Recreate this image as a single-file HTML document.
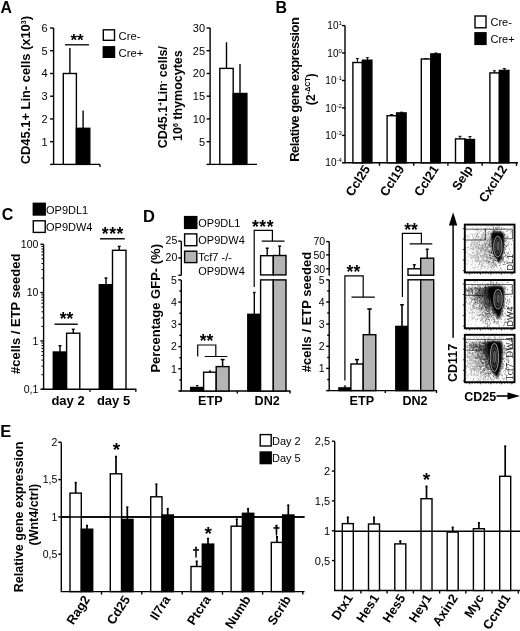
<!DOCTYPE html>
<html><head><meta charset="utf-8"><title>Figure</title>
<style>
html,body{margin:0;padding:0;background:#fff}
svg{display:block;font-family:"Liberation Sans",Arial,sans-serif;fill:#000}
</style></head><body>
<svg width="520" height="631" viewBox="0 0 520 631">
<rect width="520" height="631" fill="#fff" stroke="none"/>
<text x="0.4" y="12.9" font-size="15.8" font-weight="bold">A</text>
<line x1="53.6" y1="28.0" x2="53.6" y2="164.4" stroke="#000" stroke-width="1.4"/>
<line x1="53.0" y1="164.4" x2="100.0" y2="164.4" stroke="#000" stroke-width="1.4"/>
<line x1="100.0" y1="164.4" x2="100.0" y2="166.9" stroke="#000" stroke-width="1.4"/>
<line x1="50.1" y1="164.4" x2="53.6" y2="164.4" stroke="#000" stroke-width="1.4"/>
<line x1="50.1" y1="141.7" x2="53.6" y2="141.7" stroke="#000" stroke-width="1.4"/>
<text x="47.6" y="145.5" font-size="11" text-anchor="end">1</text>
<line x1="50.1" y1="118.9" x2="53.6" y2="118.9" stroke="#000" stroke-width="1.4"/>
<text x="47.6" y="122.7" font-size="11" text-anchor="end">2</text>
<line x1="50.1" y1="96.2" x2="53.6" y2="96.2" stroke="#000" stroke-width="1.4"/>
<text x="47.6" y="100.0" font-size="11" text-anchor="end">3</text>
<line x1="50.1" y1="73.5" x2="53.6" y2="73.5" stroke="#000" stroke-width="1.4"/>
<text x="47.6" y="77.3" font-size="11" text-anchor="end">4</text>
<line x1="50.1" y1="50.7" x2="53.6" y2="50.7" stroke="#000" stroke-width="1.4"/>
<text x="47.6" y="54.5" font-size="11" text-anchor="end">5</text>
<line x1="50.1" y1="28.0" x2="53.6" y2="28.0" stroke="#000" stroke-width="1.4"/>
<text x="47.6" y="31.8" font-size="11" text-anchor="end">6</text>
<rect x="63.3" y="73.5" width="13.1" height="90.9" fill="#fff" stroke="#000" stroke-width="1.4"/>
<rect x="76.4" y="128.3" width="13.4" height="36.1" fill="#000" stroke="#000" stroke-width="1.4"/>
<line x1="69.9" y1="73.5" x2="69.9" y2="47.9" stroke="#000" stroke-width="1.4"/>
<line x1="83.1" y1="128.3" x2="83.1" y2="110.6" stroke="#000" stroke-width="1.4"/>
<line x1="65.0" y1="44.8" x2="89.0" y2="44.8" stroke="#000" stroke-width="1.3"/>
<text x="77.0" y="45.5" font-size="17" font-weight="bold" text-anchor="middle">**</text>
<rect x="103.3" y="29.8" width="11.2" height="10.5" fill="#fff" stroke="#000" stroke-width="1.4"/>
<rect x="103.3" y="46.8" width="11.2" height="10.5" fill="#000" stroke="#000" stroke-width="1.4"/>
<text x="118.6" y="39.9" font-size="11.3">Cre-</text>
<text x="118.6" y="57.3" font-size="11.3">Cre+</text>
<text x="29.6" y="164.3" font-size="12.9" font-weight="bold" transform="rotate(-90 29.6 164.3)">CD45.1+ Lin- cells (x10<tspan font-size="7" dy="-4">3</tspan><tspan dy="4">)</tspan></text>
<line x1="210.1" y1="28.0" x2="210.1" y2="164.4" stroke="#000" stroke-width="1.4"/>
<line x1="209.5" y1="164.4" x2="257.0" y2="164.4" stroke="#000" stroke-width="1.4"/>
<line x1="206.6" y1="164.4" x2="210.1" y2="164.4" stroke="#000" stroke-width="1.4"/>
<line x1="206.6" y1="141.7" x2="210.1" y2="141.7" stroke="#000" stroke-width="1.4"/>
<text x="205.1" y="145.5" font-size="11" text-anchor="end">5</text>
<line x1="206.6" y1="118.9" x2="210.1" y2="118.9" stroke="#000" stroke-width="1.4"/>
<text x="205.1" y="122.7" font-size="11" text-anchor="end">10</text>
<line x1="206.6" y1="96.2" x2="210.1" y2="96.2" stroke="#000" stroke-width="1.4"/>
<text x="205.1" y="100.0" font-size="11" text-anchor="end">15</text>
<line x1="206.6" y1="73.5" x2="210.1" y2="73.5" stroke="#000" stroke-width="1.4"/>
<text x="205.1" y="77.3" font-size="11" text-anchor="end">20</text>
<line x1="206.6" y1="50.7" x2="210.1" y2="50.7" stroke="#000" stroke-width="1.4"/>
<text x="205.1" y="54.5" font-size="11" text-anchor="end">25</text>
<line x1="206.6" y1="28.0" x2="210.1" y2="28.0" stroke="#000" stroke-width="1.4"/>
<text x="205.1" y="31.8" font-size="11" text-anchor="end">30</text>
<rect x="219.8" y="68.4" width="13.4" height="96.0" fill="#fff" stroke="#000" stroke-width="1.4"/>
<rect x="233.2" y="93.5" width="13.7" height="70.9" fill="#000" stroke="#000" stroke-width="1.4"/>
<line x1="226.5" y1="68.4" x2="226.5" y2="42.2" stroke="#000" stroke-width="1.4"/>
<line x1="240.0" y1="93.5" x2="240.0" y2="64.1" stroke="#000" stroke-width="1.4"/>
<text x="167.5" y="148.3" font-size="12.5" font-weight="bold" transform="rotate(-90 167.5 148.3)">CD45.1<tspan font-size="7" dy="-4">+</tspan><tspan dy="4">Lin</tspan><tspan font-size="7" dy="-4">-</tspan><tspan dy="4"> cells/</tspan></text>
<text x="182.3" y="141.0" font-size="12.5" font-weight="bold" transform="rotate(-90 182.3 141.0)">10<tspan font-size="7" dy="-4">6</tspan><tspan dy="4"> thymocytes</tspan></text>
<text x="275.4" y="13.4" font-size="16" font-weight="bold">B</text>
<line x1="345.0" y1="25.6" x2="345.0" y2="162.8" stroke="#000" stroke-width="1.4"/>
<line x1="344.4" y1="162.8" x2="518.0" y2="162.8" stroke="#000" stroke-width="1.4"/>
<line x1="342.0" y1="25.6" x2="345.0" y2="25.6" stroke="#000" stroke-width="1.4"/>
<text x="341.8" y="29.2" font-size="10" text-anchor="end">10<tspan font-size="6" dy="-4">1</tspan></text>
<line x1="342.0" y1="53.0" x2="345.0" y2="53.0" stroke="#000" stroke-width="1.4"/>
<text x="341.8" y="56.6" font-size="10" text-anchor="end">10<tspan font-size="6" dy="-4">0</tspan></text>
<line x1="342.0" y1="80.5" x2="345.0" y2="80.5" stroke="#000" stroke-width="1.4"/>
<text x="341.8" y="84.1" font-size="10" text-anchor="end">10<tspan font-size="6" dy="-4">-1</tspan></text>
<line x1="342.0" y1="107.9" x2="345.0" y2="107.9" stroke="#000" stroke-width="1.4"/>
<text x="341.8" y="111.5" font-size="10" text-anchor="end">10<tspan font-size="6" dy="-4">-2</tspan></text>
<line x1="342.0" y1="135.4" x2="345.0" y2="135.4" stroke="#000" stroke-width="1.4"/>
<text x="341.8" y="139.0" font-size="10" text-anchor="end">10<tspan font-size="6" dy="-4">-3</tspan></text>
<line x1="342.0" y1="162.8" x2="345.0" y2="162.8" stroke="#000" stroke-width="1.4"/>
<text x="341.8" y="166.4" font-size="10" text-anchor="end">10<tspan font-size="6" dy="-4">-4</tspan></text>
<rect x="352.9" y="62.5" width="9.5" height="100.3" fill="#fff" stroke="#000" stroke-width="1.4"/>
<rect x="362.4" y="60.2" width="9.5" height="102.6" fill="#000" stroke="#000" stroke-width="1.4"/>
<line x1="357.4" y1="62.5" x2="357.4" y2="58.6" stroke="#000" stroke-width="1"/>
<line x1="355.9" y1="58.6" x2="358.9" y2="58.6" stroke="#000" stroke-width="1"/>
<line x1="367.4" y1="60.2" x2="367.4" y2="57.7" stroke="#000" stroke-width="1"/>
<line x1="365.9" y1="57.7" x2="368.9" y2="57.7" stroke="#000" stroke-width="1"/>
<line x1="379.5" y1="162.8" x2="379.5" y2="165.8" stroke="#000" stroke-width="1.4"/>
<text x="370.7" y="168.9" font-size="12.7" font-weight="bold" text-anchor="end" transform="rotate(-57 370.7 168.9)">Ccl25</text>
<rect x="387.1" y="115.7" width="9.5" height="47.1" fill="#fff" stroke="#000" stroke-width="1.4"/>
<rect x="396.6" y="112.9" width="9.5" height="49.9" fill="#000" stroke="#000" stroke-width="1.4"/>
<line x1="391.6" y1="115.7" x2="391.6" y2="114.6" stroke="#000" stroke-width="1"/>
<line x1="390.1" y1="114.6" x2="393.1" y2="114.6" stroke="#000" stroke-width="1"/>
<line x1="401.6" y1="112.9" x2="401.6" y2="112.2" stroke="#000" stroke-width="1"/>
<line x1="400.1" y1="112.2" x2="403.1" y2="112.2" stroke="#000" stroke-width="1"/>
<line x1="413.7" y1="162.8" x2="413.7" y2="165.8" stroke="#000" stroke-width="1.4"/>
<text x="404.9" y="168.9" font-size="12.7" font-weight="bold" text-anchor="end" transform="rotate(-57 404.9 168.9)">Ccl19</text>
<rect x="421.3" y="59.0" width="9.5" height="103.8" fill="#fff" stroke="#000" stroke-width="1.4"/>
<rect x="430.8" y="53.9" width="9.5" height="108.9" fill="#000" stroke="#000" stroke-width="1.4"/>
<line x1="425.8" y1="59.0" x2="425.8" y2="58.6" stroke="#000" stroke-width="1"/>
<line x1="424.3" y1="58.6" x2="427.3" y2="58.6" stroke="#000" stroke-width="1"/>
<line x1="435.8" y1="53.9" x2="435.8" y2="53.0" stroke="#000" stroke-width="1"/>
<line x1="434.3" y1="53.0" x2="437.3" y2="53.0" stroke="#000" stroke-width="1"/>
<line x1="447.9" y1="162.8" x2="447.9" y2="165.8" stroke="#000" stroke-width="1.4"/>
<text x="439.1" y="168.9" font-size="12.7" font-weight="bold" text-anchor="end" transform="rotate(-57 439.1 168.9)">Ccl21</text>
<rect x="455.5" y="138.9" width="9.5" height="23.9" fill="#fff" stroke="#000" stroke-width="1.4"/>
<rect x="465.0" y="139.5" width="9.5" height="23.3" fill="#000" stroke="#000" stroke-width="1.4"/>
<line x1="460.0" y1="138.9" x2="460.0" y2="136.3" stroke="#000" stroke-width="1"/>
<line x1="458.5" y1="136.3" x2="461.5" y2="136.3" stroke="#000" stroke-width="1"/>
<line x1="470.0" y1="139.5" x2="470.0" y2="136.6" stroke="#000" stroke-width="1"/>
<line x1="468.5" y1="136.6" x2="471.5" y2="136.6" stroke="#000" stroke-width="1"/>
<line x1="482.1" y1="162.8" x2="482.1" y2="165.8" stroke="#000" stroke-width="1.4"/>
<text x="473.3" y="168.9" font-size="12.7" font-weight="bold" text-anchor="end" transform="rotate(-57 473.3 168.9)">Selp</text>
<rect x="489.9" y="72.9" width="9.5" height="89.9" fill="#fff" stroke="#000" stroke-width="1.4"/>
<rect x="499.4" y="70.4" width="9.5" height="92.4" fill="#000" stroke="#000" stroke-width="1.4"/>
<line x1="494.4" y1="72.9" x2="494.4" y2="70.8" stroke="#000" stroke-width="1"/>
<line x1="492.9" y1="70.8" x2="495.9" y2="70.8" stroke="#000" stroke-width="1"/>
<line x1="504.4" y1="70.4" x2="504.4" y2="68.6" stroke="#000" stroke-width="1"/>
<line x1="502.9" y1="68.6" x2="505.9" y2="68.6" stroke="#000" stroke-width="1"/>
<line x1="516.5" y1="162.8" x2="516.5" y2="165.8" stroke="#000" stroke-width="1.4"/>
<text x="507.7" y="168.9" font-size="12.7" font-weight="bold" text-anchor="end" transform="rotate(-57 507.7 168.9)">Cxcl12</text>
<rect x="475.0" y="16.0" width="11.0" height="11.8" fill="#fff" stroke="#000" stroke-width="1.4"/>
<rect x="475.0" y="32.8" width="11.0" height="11.6" fill="#000" stroke="#000" stroke-width="1.4"/>
<text x="490.5" y="26.2" font-size="11">Cre-</text>
<text x="490.5" y="43.2" font-size="11">Cre+</text>
<text x="299.3" y="161.8" font-size="13" font-weight="bold" transform="rotate(-90 299.3 161.8)" textLength="144.7" lengthAdjust="spacing">Relative gene expression</text>
<text x="314.8" y="105.3" font-size="12.5" font-weight="bold" transform="rotate(-90 314.8 105.3)">(2<tspan font-size="7" dy="-4.5">-ΔCT</tspan><tspan dy="4.5">)</tspan></text>
<text x="1.8" y="220.3" font-size="16" font-weight="bold">C</text>
<rect x="33.3" y="203.3" width="11.9" height="11.7" fill="#000" stroke="#000" stroke-width="1.4"/>
<rect x="33.3" y="220.8" width="11.9" height="11.6" fill="#fff" stroke="#000" stroke-width="1.4"/>
<text x="46.0" y="213.6" font-size="11">OP9DL1</text>
<text x="46.0" y="231.1" font-size="11">OP9DW4</text>
<line x1="43.6" y1="244.3" x2="43.6" y2="389.2" stroke="#000" stroke-width="1.4"/>
<line x1="42.1" y1="389.2" x2="136.3" y2="389.2" stroke="#000" stroke-width="1.4"/>
<line x1="90.0" y1="389.2" x2="90.0" y2="391.7" stroke="#000" stroke-width="1.4"/>
<line x1="135.8" y1="389.2" x2="135.8" y2="391.7" stroke="#000" stroke-width="1.4"/>
<line x1="40.4" y1="244.3" x2="43.6" y2="244.3" stroke="#000" stroke-width="1.4"/>
<text x="38.4" y="248.1" font-size="10.5" text-anchor="end">100</text>
<line x1="40.4" y1="292.6" x2="43.6" y2="292.6" stroke="#000" stroke-width="1.4"/>
<text x="38.4" y="296.4" font-size="10.5" text-anchor="end">10</text>
<line x1="40.4" y1="340.9" x2="43.6" y2="340.9" stroke="#000" stroke-width="1.4"/>
<text x="38.4" y="344.7" font-size="10.5" text-anchor="end">1</text>
<line x1="40.4" y1="389.2" x2="43.6" y2="389.2" stroke="#000" stroke-width="1.4"/>
<text x="38.4" y="393.0" font-size="10.5" text-anchor="end">0,1</text>
<path d="M43.6 278.1h-2.2M43.6 269.6h-2.2M43.6 263.5h-2.2M43.6 258.8h-2.2M43.6 255.0h-2.2M43.6 251.8h-2.2M43.6 249.0h-2.2M43.6 246.5h-2.2M43.6 326.4h-2.2M43.6 317.9h-2.2M43.6 311.8h-2.2M43.6 307.1h-2.2M43.6 303.3h-2.2M43.6 300.1h-2.2M43.6 297.3h-2.2M43.6 294.8h-2.2M43.6 374.7h-2.2M43.6 366.2h-2.2M43.6 360.1h-2.2M43.6 355.4h-2.2M43.6 351.6h-2.2M43.6 348.4h-2.2M43.6 345.6h-2.2M43.6 343.1h-2.2" stroke="#000" stroke-width="1"/>
<rect x="53.3" y="352.0" width="13.3" height="37.2" fill="#000" stroke="#000" stroke-width="1.4"/>
<rect x="66.6" y="333.2" width="13.2" height="56.0" fill="#fff" stroke="#000" stroke-width="1.4"/>
<line x1="60.0" y1="352.0" x2="60.0" y2="345.7" stroke="#000" stroke-width="1.4"/>
<line x1="58.5" y1="345.7" x2="61.5" y2="345.7" stroke="#000" stroke-width="1.4"/>
<line x1="73.3" y1="333.2" x2="73.3" y2="329.3" stroke="#000" stroke-width="1.4"/>
<line x1="71.8" y1="329.3" x2="74.8" y2="329.3" stroke="#000" stroke-width="1.4"/>
<rect x="99.3" y="284.7" width="13.2" height="104.5" fill="#000" stroke="#000" stroke-width="1.4"/>
<rect x="112.5" y="250.3" width="13.5" height="138.9" fill="#fff" stroke="#000" stroke-width="1.4"/>
<line x1="106.0" y1="284.7" x2="106.0" y2="278.0" stroke="#000" stroke-width="1.4"/>
<line x1="104.5" y1="278.0" x2="107.5" y2="278.0" stroke="#000" stroke-width="1.4"/>
<line x1="119.2" y1="250.3" x2="119.2" y2="246.4" stroke="#000" stroke-width="1.4"/>
<line x1="117.7" y1="246.4" x2="120.7" y2="246.4" stroke="#000" stroke-width="1.4"/>
<line x1="54.5" y1="324.2" x2="77.8" y2="324.2" stroke="#000" stroke-width="1.4"/>
<text x="66.6" y="325.3" font-size="17.5" font-weight="bold" text-anchor="middle">**</text>
<line x1="100.0" y1="238.8" x2="124.7" y2="238.8" stroke="#000" stroke-width="1.4"/>
<text x="112.8" y="240.0" font-size="17.5" font-weight="bold" text-anchor="middle" letter-spacing=".5">***</text>
<text x="68.0" y="404.5" font-size="13" font-weight="bold" text-anchor="middle">day 2</text>
<text x="113.5" y="404.5" font-size="13" font-weight="bold" text-anchor="middle">day 5</text>
<text x="19.8" y="374.0" font-size="13" font-weight="bold" transform="rotate(-90 19.8 374.0)">#cells / ETP seeded</text>
<text x="143.0" y="222.0" font-size="16.5" font-weight="bold">D</text>
<line x1="181.3" y1="241.2" x2="181.3" y2="275.3" stroke="#000" stroke-width="1.4"/>
<line x1="181.3" y1="279.9" x2="181.3" y2="391.0" stroke="#000" stroke-width="1.4"/>
<line x1="179.8" y1="391.0" x2="290.5" y2="391.0" stroke="#000" stroke-width="1.4"/>
<line x1="237.3" y1="391.0" x2="237.3" y2="393.5" stroke="#000" stroke-width="1.4"/>
<line x1="290.0" y1="391.0" x2="290.0" y2="393.5" stroke="#000" stroke-width="1.4"/>
<line x1="178.3" y1="241.2" x2="181.3" y2="241.2" stroke="#000" stroke-width="1.4"/>
<text x="177.3" y="244.2" font-size="10.5" text-anchor="end">25</text>
<line x1="178.3" y1="257.9" x2="181.3" y2="257.9" stroke="#000" stroke-width="1.4"/>
<text x="177.3" y="260.9" font-size="10.5" text-anchor="end">20</text>
<line x1="178.3" y1="275.3" x2="181.3" y2="275.3" stroke="#000" stroke-width="1.4"/>
<line x1="178.3" y1="391.0" x2="181.3" y2="391.0" stroke="#000" stroke-width="1.4"/>
<line x1="179.3" y1="379.9" x2="181.3" y2="379.9" stroke="#000" stroke-width="1.4"/>
<line x1="178.3" y1="368.8" x2="181.3" y2="368.8" stroke="#000" stroke-width="1.4"/>
<text x="176.8" y="372.6" font-size="10.5" text-anchor="end">1</text>
<line x1="179.3" y1="357.7" x2="181.3" y2="357.7" stroke="#000" stroke-width="1.4"/>
<line x1="178.3" y1="346.6" x2="181.3" y2="346.6" stroke="#000" stroke-width="1.4"/>
<text x="176.8" y="350.4" font-size="10.5" text-anchor="end">2</text>
<line x1="179.3" y1="335.4" x2="181.3" y2="335.4" stroke="#000" stroke-width="1.4"/>
<line x1="178.3" y1="324.3" x2="181.3" y2="324.3" stroke="#000" stroke-width="1.4"/>
<text x="176.8" y="328.1" font-size="10.5" text-anchor="end">3</text>
<line x1="179.3" y1="313.2" x2="181.3" y2="313.2" stroke="#000" stroke-width="1.4"/>
<line x1="178.3" y1="302.1" x2="181.3" y2="302.1" stroke="#000" stroke-width="1.4"/>
<text x="176.8" y="305.9" font-size="10.5" text-anchor="end">4</text>
<line x1="179.3" y1="291.0" x2="181.3" y2="291.0" stroke="#000" stroke-width="1.4"/>
<line x1="178.3" y1="279.9" x2="181.3" y2="279.9" stroke="#000" stroke-width="1.4"/>
<text x="176.8" y="283.7" font-size="10.5" text-anchor="end">5</text>
<rect x="190.7" y="387.5" width="12.9" height="3.5" fill="#000" stroke="#000" stroke-width="1.4"/>
<rect x="203.6" y="372.2" width="12.6" height="18.8" fill="#fff" stroke="#000" stroke-width="1.4"/>
<rect x="216.2" y="366.6" width="12.8" height="24.4" fill="#b4b4b4" stroke="#000" stroke-width="1.4"/>
<line x1="197.2" y1="387.5" x2="197.2" y2="385.5" stroke="#000" stroke-width="1"/>
<line x1="196.0" y1="385.5" x2="198.4" y2="385.5" stroke="#000" stroke-width="1"/>
<line x1="210.0" y1="372.2" x2="210.0" y2="371.0" stroke="#000" stroke-width="1"/>
<line x1="208.8" y1="371.0" x2="211.2" y2="371.0" stroke="#000" stroke-width="1"/>
<line x1="222.6" y1="366.6" x2="222.6" y2="359.6" stroke="#000" stroke-width="1.5"/>
<line x1="220.6" y1="359.6" x2="224.6" y2="359.6" stroke="#000" stroke-width="1.5"/>
<rect x="247.8" y="314.3" width="13.0" height="76.7" fill="#000" stroke="#000" stroke-width="1.4"/>
<line x1="254.3" y1="314.3" x2="254.3" y2="292.5" stroke="#000" stroke-width="1.4"/>
<line x1="253.0" y1="292.5" x2="255.6" y2="292.5" stroke="#000" stroke-width="1.4"/>
<rect x="260.6" y="279.9" width="12.7" height="111.1" fill="#fff" stroke="#000" stroke-width="1.4"/>
<rect x="273.3" y="279.9" width="12.7" height="111.1" fill="#b4b4b4" stroke="#000" stroke-width="1.4"/>
<rect x="260.6" y="255.7" width="12.7" height="19.2" fill="#fff" stroke="#000" stroke-width="1.4"/>
<rect x="273.3" y="255.5" width="12.7" height="19.4" fill="#b4b4b4" stroke="#000" stroke-width="1.4"/>
<line x1="267.2" y1="255.7" x2="267.2" y2="248.2" stroke="#000" stroke-width="1.4"/>
<line x1="265.7" y1="248.2" x2="268.7" y2="248.2" stroke="#000" stroke-width="1.4"/>
<line x1="279.6" y1="255.5" x2="279.6" y2="246.1" stroke="#000" stroke-width="1.4"/>
<line x1="278.1" y1="246.1" x2="281.1" y2="246.1" stroke="#000" stroke-width="1.4"/>
<path d="M197.7 356.5V345H215.8V356.5M204.7 356.5H227.3" fill="none" stroke="#000" stroke-width="1.2"/>
<text x="206.5" y="347.3" font-size="17.5" font-weight="bold" text-anchor="middle">**</text>
<path d="M254.2 287V230.3H272.4V241.2M261.7 241.2H284.5" fill="none" stroke="#000" stroke-width="1.2"/>
<text x="263.0" y="232.5" font-size="17.5" font-weight="bold" text-anchor="middle" letter-spacing=".5">***</text>
<rect x="184.6" y="216.6" width="12.2" height="11.8" fill="#000" stroke="#000" stroke-width="1.4"/>
<rect x="184.6" y="233.9" width="12.2" height="11.8" fill="#fff" stroke="#000" stroke-width="1.4"/>
<rect x="184.6" y="251.2" width="12.2" height="11.4" fill="#b4b4b4" stroke="#000" stroke-width="1.4"/>
<text x="198.3" y="226.8" font-size="11">OP9DL1</text>
<text x="198.3" y="244.4" font-size="11">OP9DW4</text>
<text x="198.3" y="261.4" font-size="11">Tcf7 -/-</text>
<text x="198.3" y="275.2" font-size="11">OP9DW4</text>
<text x="210.3" y="404.5" font-size="12.6" font-weight="bold" text-anchor="middle">ETP</text>
<text x="267.2" y="404.5" font-size="12.6" font-weight="bold" text-anchor="middle">DN2</text>
<text x="160.5" y="372.6" font-size="13" font-weight="bold" transform="rotate(-90 160.5 372.6)">Percentage GFP- (%)</text>
<line x1="329.2" y1="241.6" x2="329.2" y2="275.8" stroke="#000" stroke-width="1.4"/>
<line x1="329.2" y1="279.8" x2="329.2" y2="390.6" stroke="#000" stroke-width="1.4"/>
<line x1="327.7" y1="390.6" x2="437.0" y2="390.6" stroke="#000" stroke-width="1.4"/>
<line x1="385.3" y1="390.6" x2="385.3" y2="393.1" stroke="#000" stroke-width="1.4"/>
<line x1="436.5" y1="390.6" x2="436.5" y2="393.1" stroke="#000" stroke-width="1.4"/>
<line x1="326.2" y1="241.6" x2="329.2" y2="241.6" stroke="#000" stroke-width="1.4"/>
<text x="325.2" y="245.4" font-size="10.5" text-anchor="end">70</text>
<line x1="326.2" y1="254.9" x2="329.2" y2="254.9" stroke="#000" stroke-width="1.4"/>
<text x="325.2" y="258.7" font-size="10.5" text-anchor="end">50</text>
<line x1="326.2" y1="268.8" x2="329.2" y2="268.8" stroke="#000" stroke-width="1.4"/>
<text x="325.2" y="272.6" font-size="10.5" text-anchor="end">30</text>
<line x1="326.2" y1="390.6" x2="329.2" y2="390.6" stroke="#000" stroke-width="1.4"/>
<line x1="327.2" y1="379.5" x2="329.2" y2="379.5" stroke="#000" stroke-width="1.4"/>
<line x1="326.2" y1="368.4" x2="329.2" y2="368.4" stroke="#000" stroke-width="1.4"/>
<text x="324.7" y="372.2" font-size="10.5" text-anchor="end">1</text>
<line x1="327.2" y1="357.4" x2="329.2" y2="357.4" stroke="#000" stroke-width="1.4"/>
<line x1="326.2" y1="346.3" x2="329.2" y2="346.3" stroke="#000" stroke-width="1.4"/>
<text x="324.7" y="350.1" font-size="10.5" text-anchor="end">2</text>
<line x1="327.2" y1="335.2" x2="329.2" y2="335.2" stroke="#000" stroke-width="1.4"/>
<line x1="326.2" y1="324.1" x2="329.2" y2="324.1" stroke="#000" stroke-width="1.4"/>
<text x="324.7" y="327.9" font-size="10.5" text-anchor="end">3</text>
<line x1="327.2" y1="313.0" x2="329.2" y2="313.0" stroke="#000" stroke-width="1.4"/>
<line x1="326.2" y1="302.0" x2="329.2" y2="302.0" stroke="#000" stroke-width="1.4"/>
<text x="324.7" y="305.8" font-size="10.5" text-anchor="end">4</text>
<line x1="327.2" y1="290.9" x2="329.2" y2="290.9" stroke="#000" stroke-width="1.4"/>
<line x1="326.2" y1="279.8" x2="329.2" y2="279.8" stroke="#000" stroke-width="1.4"/>
<text x="324.7" y="283.6" font-size="10.5" text-anchor="end">5</text>
<rect x="338.9" y="387.9" width="12.0" height="2.7" fill="#000" stroke="#000" stroke-width="1.4"/>
<rect x="350.9" y="364.0" width="12.3" height="26.6" fill="#fff" stroke="#000" stroke-width="1.4"/>
<rect x="363.2" y="334.7" width="12.6" height="55.9" fill="#b4b4b4" stroke="#000" stroke-width="1.4"/>
<line x1="345.0" y1="387.9" x2="345.0" y2="386.0" stroke="#000" stroke-width="1"/>
<line x1="343.8" y1="386.0" x2="346.2" y2="386.0" stroke="#000" stroke-width="1"/>
<line x1="357.0" y1="364.0" x2="357.0" y2="359.6" stroke="#000" stroke-width="1.5"/>
<line x1="355.0" y1="359.6" x2="359.0" y2="359.6" stroke="#000" stroke-width="1.5"/>
<line x1="369.5" y1="334.7" x2="369.5" y2="309.0" stroke="#000" stroke-width="1.6"/>
<line x1="367.3" y1="309.0" x2="371.7" y2="309.0" stroke="#000" stroke-width="1.6"/>
<rect x="395.8" y="326.4" width="12.2" height="64.2" fill="#000" stroke="#000" stroke-width="1.4"/>
<line x1="402.0" y1="326.4" x2="402.0" y2="304.8" stroke="#000" stroke-width="1.6"/>
<line x1="400.2" y1="304.8" x2="403.8" y2="304.8" stroke="#000" stroke-width="1.6"/>
<rect x="408.0" y="279.8" width="12.7" height="110.8" fill="#fff" stroke="#000" stroke-width="1.4"/>
<rect x="420.7" y="279.8" width="13.0" height="110.8" fill="#b4b4b4" stroke="#000" stroke-width="1.4"/>
<rect x="408.0" y="268.8" width="12.7" height="6.4" fill="#fff" stroke="#000" stroke-width="1.4"/>
<rect x="420.7" y="258.2" width="13.0" height="17.0" fill="#b4b4b4" stroke="#000" stroke-width="1.4"/>
<line x1="414.3" y1="268.8" x2="414.3" y2="264.8" stroke="#000" stroke-width="1.4"/>
<line x1="412.8" y1="264.8" x2="415.8" y2="264.8" stroke="#000" stroke-width="1.4"/>
<line x1="427.2" y1="258.2" x2="427.2" y2="249.2" stroke="#000" stroke-width="1.4"/>
<line x1="425.7" y1="249.2" x2="428.7" y2="249.2" stroke="#000" stroke-width="1.4"/>
<path d="M344.9 380.5V275.8H363.2V297.1M351.5 297.1H374.8" fill="none" stroke="#000" stroke-width="1.2"/>
<text x="353.4" y="278.3" font-size="17.5" font-weight="bold" text-anchor="middle">**</text>
<path d="M402.4 297V233.3H421.4V243.9M409.7 243.9H432.3" fill="none" stroke="#000" stroke-width="1.2"/>
<text x="411.0" y="236.3" font-size="17.5" font-weight="bold" text-anchor="middle">**</text>
<text x="361.8" y="404.5" font-size="12.6" font-weight="bold" text-anchor="middle">ETP</text>
<text x="415.0" y="404.5" font-size="12.6" font-weight="bold" text-anchor="middle">DN2</text>
<text x="311.3" y="372.3" font-size="13" font-weight="bold" transform="rotate(-90 311.3 372.3)">#cells / ETP seeded</text>
<line x1="453.1" y1="224.0" x2="453.1" y2="337.8" stroke="#000" stroke-width="1.5"/>
<path d="M453.1 212.3L448.9 225.6H457.3Z" fill="#000"/>
<text x="456.8" y="382.0" font-size="12.5" font-weight="bold" transform="rotate(-90 456.8 382.0)">CD117</text>
<text x="464.3" y="401.3" font-size="12.5" font-weight="bold">CD25</text>
<line x1="496.5" y1="396.0" x2="510.0" y2="396.0" stroke="#000" stroke-width="1.6"/>
<path d="M520 396L507.5 392.4V399.6Z" fill="#000"/>
<defs><filter id="b1" x="-20%" y="-20%" width="140%" height="140%"><feGaussianBlur stdDeviation=".35"/></filter><filter id="b2" x="-30%" y="-30%" width="160%" height="160%"><feGaussianBlur stdDeviation="1.1"/></filter></defs>
<g><clipPath id="c1"><rect x="464.8" y="224.6" width="49.7" height="47.8"/></clipPath>
<g clip-path="url(#c1)">
<path d="M491.1 263.8h.7M481.3 240.6h.7M472.1 248.9h.7M472.6 233.5h.7M482.4 250.0h.7M485.2 239.0h.7M480.8 247.9h.7M468.8 254.2h.7M483.4 273.7h.7M482.4 247.1h.7M490.7 250.7h.7M488.1 244.8h.7M482.5 259.4h.7M486.4 249.9h.7M472.1 253.3h.7M481.4 256.2h.7M482.5 260.0h.7M480.4 250.7h.7M486.1 237.2h.7M477.6 243.3h.7M496.6 247.6h.7M486.0 255.1h.7M478.6 232.3h.7M488.5 244.3h.7M486.5 234.9h.7M477.3 261.8h.7M492.2 234.9h.7M470.1 248.1h.7M486.6 250.3h.7M483.2 238.2h.7M485.5 260.3h.7M477.3 233.5h.7M474.7 256.6h.7M466.9 247.6h.7M472.9 247.2h.7M478.8 248.8h.7M492.8 253.0h.7M491.5 247.1h.7M477.0 252.6h.7M458.1 248.2h.7M482.1 235.6h.7M484.5 242.7h.7M461.1 246.4h.7M473.0 243.1h.7M479.6 261.7h.7M481.6 248.3h.7M483.9 229.6h.7M490.7 237.3h.7M484.3 236.8h.7M473.0 244.4h.7M496.0 255.9h.7M476.0 245.6h.7M471.6 248.2h.7M476.2 256.2h.7M469.9 245.1h.7M474.1 241.1h.7M486.5 249.9h.7M485.5 261.1h.7M490.0 234.2h.7M485.1 230.1h.7M480.3 268.8h.7M479.3 244.7h.7M482.2 248.8h.7M481.0 240.6h.7M489.5 257.9h.7M479.1 251.9h.7M486.1 259.4h.7M483.9 255.9h.7M478.7 237.4h.7M476.8 259.3h.7M488.6 250.1h.7M476.3 251.8h.7M494.1 262.8h.7M475.3 248.1h.7M469.2 236.7h.7M482.3 248.9h.7M488.5 261.9h.7M487.5 262.5h.7M476.4 236.7h.7M484.8 276.7h.7M483.7 236.5h.7M482.7 263.6h.7M472.5 257.0h.7M475.9 262.0h.7M487.1 251.8h.7M496.8 244.3h.7M475.3 268.1h.7M473.8 271.7h.7M480.5 237.7h.7M480.8 250.0h.7M482.4 246.6h.7M489.4 224.2h.7M476.4 245.8h.7M495.4 227.7h.7M478.1 236.6h.7M475.5 255.3h.7M484.1 263.7h.7M476.0 251.4h.7M490.2 258.1h.7M478.1 260.4h.7M473.4 267.5h.7M482.0 247.4h.7M483.0 257.5h.7M494.7 247.1h.7M477.9 254.8h.7M473.8 230.8h.7M487.5 244.6h.7M489.8 237.8h.7M457.6 251.6h.7M482.0 265.4h.7M485.0 251.8h.7M485.5 244.7h.7M481.4 234.4h.7M485.0 240.1h.7M477.2 255.9h.7M488.1 238.0h.7M496.8 242.4h.7M487.5 258.6h.7M482.6 250.4h.7M495.2 257.9h.7M484.4 229.4h.7M474.8 260.8h.7M482.4 238.6h.7M475.7 245.4h.7M486.3 252.7h.7M488.8 240.0h.7M488.7 243.3h.7M478.4 266.8h.7M481.4 247.1h.7M479.1 244.6h.7M493.3 263.1h.7M486.5 250.5h.7M489.1 247.8h.7M484.4 252.8h.7M481.5 265.9h.7M494.8 262.5h.7M465.5 267.9h.7M486.4 243.9h.7M480.6 260.6h.7M490.2 257.6h.7M481.9 249.0h.7M487.5 247.6h.7M473.6 242.1h.7M479.7 252.1h.7M498.9 234.2h.7M484.6 247.6h.7M483.2 262.8h.7M490.7 246.9h.7M476.3 234.3h.7M480.2 261.7h.7M478.7 256.0h.7M486.5 252.8h.7M489.5 247.4h.7M474.2 236.3h.7M488.2 244.8h.7M478.3 257.4h.7M474.5 267.2h.7M486.1 243.1h.7M475.7 260.0h.7M471.3 241.9h.7M480.8 250.7h.7M480.9 252.7h.7M477.9 247.3h.7M490.9 255.4h.7M477.2 266.6h.7M464.9 249.5h.7M486.1 258.8h.7M481.7 244.6h.7M485.5 246.6h.7M484.6 218.6h.7M483.9 240.3h.7M488.3 256.5h.7M486.6 244.4h.7M484.3 245.0h.7M482.5 247.2h.7M473.8 269.4h.7M486.6 227.0h.7M487.9 234.0h.7M478.9 242.5h.7M476.5 251.1h.7M478.2 233.4h.7M480.8 252.4h.7M495.0 244.2h.7M471.3 244.6h.7M486.0 239.3h.7M475.0 254.4h.7M480.7 250.9h.7M475.8 239.9h.7M478.2 247.0h.7M478.1 253.1h.7M485.2 254.4h.7M484.6 239.3h.7M471.8 257.0h.7M480.9 249.9h.7M471.5 246.4h.7M475.7 239.5h.7M475.8 232.9h.7M481.5 260.8h.7M475.1 249.6h.7M472.1 255.7h.7M495.7 235.6h.7M479.0 263.6h.7M483.7 249.8h.7M464.5 247.0h.7M488.1 263.7h.7M485.9 242.5h.7M475.3 229.5h.7M472.2 260.4h.7M479.9 234.5h.7M491.4 231.0h.7M490.9 245.2h.7M483.5 255.7h.7M482.9 262.0h.7M480.9 245.2h.7M475.5 233.4h.7M475.2 258.9h.7M487.4 263.2h.7M502.6 256.1h.7M484.8 234.8h.7M478.9 271.7h.7M485.0 247.2h.7M483.3 228.7h.7M474.1 234.9h.7M463.7 256.7h.7M488.5 246.7h.7M483.6 238.0h.7M484.4 256.6h.7M493.1 265.0h.7M484.7 247.3h.7M474.2 242.2h.7M485.7 254.5h.7M480.9 266.1h.7M486.0 248.8h.7M479.3 249.4h.7M473.2 238.3h.7M483.6 242.5h.7M478.6 261.4h.7M479.3 262.4h.7M480.7 264.5h.7M484.5 230.1h.7M490.7 246.4h.7M465.1 249.8h.7M482.0 235.0h.7M475.9 254.3h.7M492.1 260.6h.7M490.6 260.4h.7M460.9 241.0h.7M482.3 220.4h.7M487.0 258.0h.7M474.6 244.6h.7M473.3 248.4h.7M480.5 248.5h.7M472.6 252.7h.7M478.1 258.6h.7M483.3 233.0h.7M469.3 249.3h.7M476.9 253.5h.7M487.2 248.8h.7M467.3 236.1h.7M485.4 237.6h.7M489.7 247.6h.7M485.0 239.3h.7M480.0 217.5h.7M479.1 254.6h.7M473.6 239.8h.7M480.4 249.3h.7M474.3 255.7h.7M467.6 260.3h.7M469.6 240.0h.7M491.5 238.2h.7M467.6 249.4h.7M473.4 236.9h.7M475.2 240.8h.7M473.0 237.8h.7M493.7 241.5h.7M488.6 233.8h.7M485.2 235.5h.7M477.1 255.3h.7M476.6 228.0h.7M476.4 246.9h.7M485.4 238.1h.7M478.4 249.3h.7M467.6 247.5h.7M474.2 253.2h.7M479.9 246.9h.7M461.5 247.5h.7M477.8 238.7h.7M476.7 235.3h.7M482.2 255.5h.7M485.6 243.1h.7M494.2 257.6h.7M473.2 247.1h.7M467.8 247.4h.7M486.5 261.9h.7M477.5 229.8h.7M479.4 262.9h.7M482.0 262.0h.7M487.4 265.0h.7M485.6 241.6h.7M484.4 275.2h.7M476.7 229.1h.7M497.6 252.9h.7M475.8 242.2h.7M468.5 256.0h.7M481.9 242.0h.7M477.4 244.1h.7M489.3 246.7h.7M491.8 239.8h.7M475.9 243.5h.7M476.5 247.6h.7M489.0 261.3h.7M472.2 262.0h.7M481.6 265.3h.7M479.5 239.8h.7M487.1 255.1h.7M477.1 248.8h.7M481.8 251.9h.7M467.1 235.9h.7M481.2 251.3h.7M476.6 230.1h.7M491.5 245.4h.7M472.4 265.3h.7M489.9 259.5h.7M487.5 254.6h.7M473.0 248.9h.7M483.6 255.2h.7M484.6 238.0h.7M476.0 245.1h.7M479.2 239.4h.7M466.2 235.8h.7M483.3 248.5h.7M485.4 228.8h.7M477.5 258.0h.7M465.1 237.2h.7M467.5 261.3h.7M481.0 242.6h.7M482.0 247.7h.7M488.0 260.9h.7M488.1 252.2h.7M486.9 257.1h.7M490.1 229.3h.7M483.6 249.4h.7M482.1 246.0h.7M480.2 253.8h.7M482.4 249.9h.7M472.2 235.4h.7M474.8 229.9h.7M476.7 239.7h.7M466.4 228.2h.7M477.0 242.5h.7M498.2 257.7h.7M474.5 243.4h.7M472.7 240.3h.7M478.0 248.1h.7M475.8 257.2h.7M486.0 269.1h.7M470.3 255.7h.7M477.8 231.7h.7M478.4 231.3h.7M480.6 277.3h.7M491.2 267.7h.7M490.4 232.3h.7M484.1 250.1h.7M484.3 237.7h.7M464.9 270.7h.7M490.3 251.8h.7M476.9 250.5h.7M470.9 258.7h.7M482.1 247.0h.7M477.4 247.9h.7M481.9 244.4h.7M488.5 250.8h.7M480.0 239.6h.7M490.5 262.2h.7M486.3 229.2h.7M478.0 259.0h.7M481.1 262.0h.7M477.3 257.0h.7M485.0 222.9h.7M477.6 246.1h.7M475.8 239.2h.7M493.5 247.3h.7M487.1 234.5h.7M464.2 243.6h.7M484.1 241.0h.7M485.0 257.0h.7M477.2 248.0h.7M474.9 259.9h.7M494.9 253.8h.7M476.8 241.2h.7M478.6 257.9h.7M474.7 264.1h.7M471.0 248.5h.7M491.3 267.3h.7M477.5 256.9h.7M501.0 260.9h.7M463.3 251.6h.7M499.8 236.4h.7M488.1 226.7h.7M493.5 239.7h.7M487.3 258.2h.7M458.5 233.6h.7M483.4 232.6h.7M480.6 238.7h.7M491.5 243.3h.7M473.5 255.3h.7M490.6 247.0h.7M483.0 253.8h.7M476.8 236.1h.7M485.1 244.9h.7M469.9 257.6h.7M484.3 250.1h.7M474.8 246.3h.7M485.7 253.7h.7M474.2 239.1h.7M483.5 250.5h.7M487.6 236.4h.7M488.2 267.1h.7M488.4 250.0h.7M488.0 235.1h.7M477.3 270.2h.7M467.7 236.4h.7M487.4 241.7h.7M476.3 236.8h.7M494.3 242.2h.7M478.6 229.6h.7M487.0 248.5h.7M484.8 265.2h.7M482.0 236.1h.7M472.7 249.5h.7M491.4 236.0h.7M478.8 247.1h.7M486.1 239.2h.7M483.3 256.8h.7M480.5 247.6h.7M485.8 254.7h.7M490.9 237.3h.7M490.6 246.2h.7M471.7 242.8h.7M470.9 246.5h.7M489.1 225.0h.7M471.3 256.7h.7M478.4 256.9h.7M470.2 248.0h.7M460.0 239.7h.7M486.7 261.4h.7M493.9 248.0h.7M473.8 244.5h.7M465.5 262.8h.7M490.2 239.0h.7M495.5 234.4h.7M485.3 240.1h.7M466.9 252.8h.7M471.5 261.1h.7M473.6 249.7h.7M477.0 250.0h.7M475.7 257.2h.7M485.7 249.3h.7M479.8 269.3h.7M475.2 244.0h.7M487.0 248.5h.7M467.7 247.1h.7M477.7 238.2h.7M482.4 236.7h.7M478.8 236.7h.7M493.3 245.6h.7M484.3 251.6h.7M486.4 247.0h.7M486.8 249.9h.7M461.2 251.9h.7M470.5 258.6h.7M482.5 244.7h.7M460.6 226.1h.7M471.4 244.6h.7M469.8 269.4h.7M484.5 247.7h.7M472.9 245.0h.7M478.9 243.9h.7M480.2 257.0h.7M466.7 251.0h.7M489.6 234.2h.7M479.3 244.6h.7M471.7 258.6h.7M478.2 260.6h.7M484.1 245.7h.7M483.1 244.7h.7M467.7 263.5h.7M483.7 260.7h.7M466.3 259.6h.7M487.4 248.2h.7M463.8 249.7h.7M475.5 246.6h.7M481.2 239.1h.7M479.8 248.7h.7M492.5 247.5h.7M499.6 236.2h.7M479.7 261.6h.7M468.2 255.1h.7M484.0 242.3h.7M478.9 264.8h.7M477.2 251.5h.7M484.3 261.3h.7M464.3 233.1h.7M470.1 245.7h.7M485.7 257.3h.7M478.5 264.5h.7M480.2 255.9h.7M474.7 257.3h.7M475.0 260.8h.7M487.7 268.2h.7M477.4 236.4h.7M487.4 251.9h.7M476.6 234.5h.7M487.2 228.1h.7M477.1 259.8h.7M478.8 253.4h.7M484.7 254.8h.7M489.3 255.5h.7M477.8 235.7h.7M478.5 241.7h.7M484.0 261.5h.7M487.1 241.3h.7M482.4 248.7h.7M477.0 262.2h.7M485.7 252.4h.7M471.0 221.0h.7M474.9 260.6h.7M479.1 248.3h.7M478.7 253.6h.7M480.7 266.6h.7M479.8 245.8h.7M492.2 256.5h.7M486.4 254.1h.7M480.5 251.9h.7M485.1 249.7h.7M465.8 263.1h.7M477.0 242.6h.7M478.1 241.0h.7M473.8 247.7h.7M487.9 245.5h.7M484.6 234.4h.7M486.8 236.7h.7M486.4 240.8h.7M476.0 235.4h.7M470.6 246.3h.7M473.0 246.3h.7M489.9 239.7h.7M478.3 247.5h.7M475.8 248.3h.7M482.7 259.5h.7M475.0 246.3h.7M479.5 261.4h.7M472.8 250.4h.7M486.9 254.8h.7M475.1 237.7h.7M466.0 243.0h.7M478.8 232.9h.7M487.5 250.3h.7M478.9 243.0h.7M484.6 245.6h.7M484.9 243.6h.7M489.3 231.5h.7M472.2 267.5h.7M489.2 265.8h.7M474.5 256.2h.7M488.8 258.2h.7M479.3 264.0h.7M484.1 235.0h.7M500.5 249.9h.7M490.9 241.3h.7M473.3 257.9h.7M487.4 240.8h.7M482.8 234.7h.7M464.3 260.1h.7M471.6 256.4h.7M489.3 252.5h.7M492.9 252.4h.7M483.1 248.6h.7M484.2 252.3h.7M473.3 248.1h.7M477.8 278.5h.7M490.6 240.3h.7M485.6 230.2h.7M481.2 267.7h.7M481.5 262.1h.7M477.9 253.4h.7M483.8 225.5h.7M474.4 268.5h.7M474.1 261.2h.7M494.6 248.1h.7M488.8 252.4h.7M476.0 254.7h.7M484.3 238.2h.7M477.2 234.4h.7M478.1 248.2h.7M473.0 229.0h.7M486.2 261.9h.7M473.5 249.4h.7M475.4 220.9h.7M497.7 251.6h.7M469.5 261.9h.7M486.6 263.4h.7M486.7 254.2h.7M492.3 245.7h.7M482.7 237.2h.7M471.6 250.8h.7M482.7 231.9h.7M483.8 259.2h.7M470.7 245.0h.7M494.5 239.7h.7M485.4 256.8h.7M482.2 250.1h.7M485.3 251.6h.7M482.0 233.1h.7M482.8 240.3h.7M492.8 271.9h.7M489.7 226.0h.7M488.8 249.8h.7M472.1 235.8h.7M489.3 241.8h.7M480.2 249.3h.7M488.3 220.5h.7M490.6 240.1h.7M477.6 255.1h.7M483.7 224.3h.7M485.6 247.0h.7M472.5 242.2h.7M468.0 256.8h.7M492.6 242.0h.7M477.0 233.3h.7M475.1 237.9h.7M481.0 266.9h.7M489.2 258.9h.7M473.0 257.4h.7M475.0 239.3h.7M486.7 247.5h.7M500.7 250.6h.7M478.3 256.4h.7M471.5 255.7h.7M493.3 247.2h.7M476.7 260.4h.7M471.8 252.5h.7M476.6 251.7h.7M474.5 255.0h.7M485.3 267.0h.7M477.9 253.2h.7M466.7 240.3h.7M482.9 234.2h.7M479.9 239.2h.7M484.6 254.9h.7M477.0 255.5h.7M476.3 249.8h.7M485.0 254.5h.7M485.5 266.4h.7M475.6 247.0h.7M466.2 257.8h.7M471.8 242.3h.7M476.7 253.0h.7M478.5 245.6h.7M481.4 245.1h.7M480.6 238.3h.7M476.4 235.8h.7M487.6 258.1h.7M486.1 252.1h.7M476.0 254.4h.7M468.4 222.3h.7M471.3 264.3h.7M482.8 264.9h.7M475.1 259.2h.7M493.5 259.0h.7M483.1 259.9h.7M477.1 267.1h.7M471.6 240.6h.7M481.0 240.5h.7M494.8 255.7h.7M474.9 266.2h.7M491.7 244.6h.7M493.3 261.0h.7M476.8 242.7h.7M483.3 260.7h.7M493.4 264.4h.7M476.9 229.9h.7M467.3 264.5h.7M489.3 261.0h.7M480.8 249.5h.7M484.7 253.5h.7M481.5 238.4h.7M469.8 250.2h.7M479.5 263.5h.7M472.3 227.7h.7M465.1 248.2h.7M494.2 245.0h.7M475.2 252.6h.7M493.1 260.0h.7M487.8 258.4h.7M478.5 249.5h.7M484.1 267.6h.7M463.2 242.9h.7M483.8 246.0h.7M479.8 245.8h.7M473.2 253.9h.7M491.2 244.8h.7M484.3 260.3h.7M475.5 247.6h.7M470.4 265.2h.7M494.6 246.5h.7M496.8 257.6h.7M466.2 253.7h.7M482.8 253.9h.7M486.3 243.8h.7M489.9 251.9h.7M496.0 247.4h.7M460.7 268.7h.7M485.2 229.3h.7M475.9 240.2h.7M488.3 242.0h.7M490.1 243.3h.7M488.5 242.2h.7M471.2 254.8h.7M478.9 254.0h.7M467.6 237.7h.7M478.0 269.3h.7M484.0 230.9h.7M455.6 268.1h.7M483.5 235.3h.7M488.7 257.6h.7M498.0 250.6h.7M476.8 257.2h.7M470.0 243.9h.7M472.8 242.6h.7M470.5 233.4h.7M471.9 252.7h.7M481.0 247.8h.7M484.6 256.5h.7M484.6 270.4h.7M483.1 252.6h.7M476.9 260.0h.7M492.3 217.4h.7M487.3 237.1h.7M483.6 249.5h.7M470.7 234.4h.7M478.7 276.2h.7M470.9 244.3h.7M478.5 245.8h.7M489.8 270.2h.7M480.4 253.0h.7M478.2 265.1h.7M480.4 255.8h.7M479.2 260.4h.7M480.3 239.7h.7M496.1 228.1h.7M482.2 244.9h.7M473.5 270.6h.7M483.5 244.3h.7M473.7 252.1h.7M480.8 246.1h.7M475.5 264.6h.7M482.5 246.6h.7M470.8 240.4h.7M486.7 240.7h.7M486.0 247.4h.7M484.0 252.3h.7M477.3 245.8h.7M480.2 255.5h.7M500.1 257.8h.7M470.3 271.9h.7M479.9 241.3h.7M481.8 248.0h.7M482.8 248.3h.7M480.6 261.9h.7M494.4 249.6h.7M493.5 258.4h.7M490.4 251.4h.7M482.5 257.0h.7M473.1 249.2h.7M471.7 258.2h.7M482.5 254.9h.7M478.1 240.5h.7M488.5 244.1h.7M479.1 249.0h.7M484.5 249.2h.7M472.5 237.6h.7M488.9 245.3h.7M478.9 239.3h.7M488.3 253.5h.7M476.5 230.5h.7M495.2 242.7h.7M471.5 243.4h.7M471.7 248.5h.7M476.4 236.1h.7M486.3 239.6h.7M465.9 252.2h.7M476.4 237.2h.7M467.5 241.2h.7M476.0 243.5h.7M476.8 261.9h.7M489.3 251.9h.7M485.3 243.8h.7M469.2 254.2h.7M491.8 241.3h.7M475.3 241.3h.7M470.2 254.4h.7M472.1 263.0h.7M494.1 249.5h.7M480.5 239.6h.7M488.0 249.5h.7M468.9 238.8h.7M484.6 243.4h.7M484.3 251.2h.7M492.3 247.6h.7M489.3 260.2h.7M491.4 245.0h.7M483.0 275.3h.7M479.2 242.2h.7M481.8 236.2h.7M474.0 244.1h.7M478.5 259.2h.7M472.0 246.7h.7M482.9 245.5h.7M486.7 272.1h.7M472.2 239.5h.7M476.7 242.9h.7M476.5 253.0h.7M494.8 274.5h.7M480.2 227.0h.7M493.3 248.8h.7M477.5 260.1h.7M479.9 246.2h.7M473.8 258.3h.7M487.6 239.7h.7M476.3 261.6h.7M475.0 244.2h.7M474.7 246.1h.7M487.7 249.2h.7M488.8 254.9h.7M464.6 248.4h.7M480.6 231.1h.7M487.1 248.1h.7M476.8 254.1h.7M488.5 256.2h.7M476.6 248.2h.7M500.4 235.0h.7M481.4 248.9h.7M492.8 255.0h.7M482.6 245.5h.7M490.7 249.3h.7M480.0 250.4h.7M486.3 249.0h.7M482.9 257.0h.7M475.0 246.1h.7M481.4 255.8h.7M485.3 243.5h.7M472.5 244.7h.7M476.8 258.0h.7M485.9 249.3h.7M472.2 234.9h.7M481.8 255.0h.7M483.8 245.9h.7M485.4 227.9h.7M490.0 264.4h.7M482.2 251.1h.7M479.1 258.0h.7M473.5 242.5h.7M484.0 233.7h.7M484.7 253.4h.7M480.7 243.4h.7M494.8 243.0h.7M482.0 257.1h.7M480.7 259.6h.7M480.8 251.3h.7M480.7 255.5h.7M475.6 258.0h.7M489.1 237.7h.7M468.8 234.7h.7M474.4 255.8h.7M481.3 268.4h.7M493.4 232.5h.7M477.7 245.4h.7M493.6 256.8h.7M488.2 240.1h.7M497.0 237.0h.7M481.0 238.5h.7M473.6 251.2h.7M473.6 255.8h.7M485.0 249.2h.7M485.9 260.4h.7M489.5 236.6h.7M486.0 258.0h.7M477.8 244.5h.7M490.5 255.5h.7M481.9 263.6h.7M488.3 266.8h.7M477.7 258.9h.7M464.9 241.8h.7M494.2 238.4h.7M479.6 245.0h.7M484.6 260.6h.7M493.6 247.0h.7M483.5 257.8h.7M490.1 245.7h.7M498.3 233.8h.7M492.3 234.5h.7M488.3 240.9h.7M500.5 268.0h.7M495.1 251.4h.7M480.1 230.9h.7M491.8 257.6h.7M493.6 241.6h.7M486.5 255.5h.7M503.3 257.6h.7M490.6 248.4h.7M493.2 253.0h.7M482.9 266.6h.7M493.3 255.7h.7M488.3 261.8h.7M496.4 241.6h.7M496.4 241.8h.7M480.7 258.8h.7M485.3 243.5h.7M485.7 248.8h.7M488.8 251.4h.7M493.4 267.5h.7M493.3 255.2h.7M493.5 258.5h.7M495.8 252.8h.7M484.4 239.1h.7M492.4 246.1h.7M488.6 243.9h.7M486.9 261.6h.7M495.1 235.6h.7M491.8 249.4h.7M488.3 261.1h.7M492.6 250.4h.7M486.1 260.1h.7M492.2 252.7h.7M487.0 266.0h.7M473.8 234.3h.7M481.7 235.4h.7M485.2 244.0h.7M489.0 251.7h.7M498.2 255.8h.7M491.5 247.9h.7M492.9 258.5h.7M486.8 268.8h.7M490.7 259.0h.7M477.3 251.7h.7M488.6 264.6h.7M496.4 253.1h.7M494.3 246.2h.7M485.8 262.2h.7M484.2 243.8h.7M484.4 239.2h.7M488.5 258.8h.7M485.5 257.7h.7M480.6 240.5h.7M486.0 256.9h.7M498.1 224.2h.7M491.2 267.4h.7M490.9 267.7h.7M497.2 252.7h.7M483.1 242.3h.7M499.3 239.8h.7M484.9 244.6h.7M497.8 250.8h.7M482.4 242.7h.7M494.5 262.2h.7M499.2 255.2h.7M493.4 239.0h.7M487.7 234.6h.7M490.0 254.1h.7M491.1 239.3h.7M493.9 259.7h.7M497.6 225.9h.7M477.5 237.6h.7M493.8 260.9h.7M494.8 250.0h.7M492.2 246.9h.7M487.1 238.8h.7M508.2 246.9h.7M493.9 255.6h.7M495.7 249.1h.7M495.9 271.6h.7M487.3 243.3h.7M485.3 245.7h.7M484.1 253.2h.7M494.5 262.9h.7M497.9 245.5h.7M491.8 240.9h.7M491.2 250.6h.7M493.6 249.0h.7M485.0 260.6h.7M490.1 234.4h.7M481.4 257.1h.7M481.0 257.0h.7M499.1 255.5h.7M495.3 255.9h.7M487.5 252.0h.7M480.6 256.4h.7M494.3 251.2h.7M496.7 247.8h.7M481.5 265.1h.7M491.3 242.9h.7M488.0 245.6h.7M491.9 235.8h.7M491.4 245.8h.7M494.4 246.1h.7M494.3 240.0h.7M492.8 246.3h.7M496.6 253.7h.7M496.4 244.4h.7M487.5 249.3h.7M485.2 246.6h.7M497.7 237.9h.7M487.7 250.5h.7M499.7 272.9h.7M487.8 244.6h.7M492.2 242.5h.7M480.0 256.0h.7M492.8 252.7h.7M493.8 251.6h.7M487.4 256.5h.7M490.6 251.4h.7M484.8 250.6h.7M490.5 240.3h.7M486.6 244.9h.7M490.9 242.8h.7M484.8 250.4h.7M484.2 253.1h.7M486.1 247.4h.7M496.9 225.4h.7M483.5 243.9h.7M490.0 240.1h.7M485.7 242.9h.7M485.3 250.7h.7M487.0 247.9h.7M491.0 256.9h.7M487.4 245.0h.7M493.1 226.2h.7M491.1 239.8h.7M495.5 246.0h.7M486.0 260.9h.7M487.8 240.1h.7M493.3 228.6h.7M489.9 257.2h.7M484.0 259.8h.7M489.1 243.6h.7M481.7 264.9h.7M498.1 245.9h.7M492.8 228.9h.7M491.2 253.6h.7M486.7 242.6h.7M489.7 240.7h.7M481.7 257.7h.7M495.5 255.8h.7M494.7 260.8h.7M489.0 217.3h.7M490.9 243.5h.7M484.5 254.9h.7M485.3 236.6h.7M503.7 245.2h.7M491.6 255.8h.7M494.0 248.4h.7M493.5 248.5h.7M488.3 246.6h.7M494.1 257.0h.7M493.1 233.1h.7M489.6 255.0h.7M488.7 254.9h.7M491.4 262.4h.7M478.4 251.4h.7M496.5 256.9h.7M488.0 247.2h.7M488.9 254.2h.7M494.8 243.3h.7M496.5 254.5h.7M479.5 245.4h.7M490.1 242.3h.7M491.3 249.0h.7M490.3 246.5h.7M492.3 243.1h.7M493.8 230.3h.7M491.2 244.3h.7M488.7 252.6h.7M487.4 215.1h.7M482.9 247.3h.7M489.3 244.3h.7M487.3 257.0h.7M490.8 238.3h.7M486.1 259.8h.7M491.4 253.5h.7M490.9 251.9h.7M487.9 239.0h.7M485.5 240.1h.7M500.3 256.3h.7M491.1 248.4h.7M482.1 257.8h.7M481.4 260.6h.7M488.1 234.4h.7M498.7 238.9h.7M489.3 247.9h.7M482.7 254.3h.7M483.6 247.5h.7M484.6 266.7h.7M491.0 265.3h.7M487.9 252.0h.7M493.7 250.3h.7M489.3 261.7h.7M492.8 250.3h.7M495.2 220.1h.7M485.2 254.8h.7M488.8 246.6h.7M482.8 245.6h.7M498.2 244.2h.7M485.4 246.5h.7M496.5 242.6h.7M481.9 252.1h.7M488.9 251.2h.7M481.6 237.6h.7M489.1 253.2h.7M500.2 264.4h.7M496.9 259.9h.7M496.4 256.5h.7M494.2 245.3h.7M488.1 263.8h.7M484.5 243.3h.7M489.6 251.6h.7M487.1 244.6h.7M486.5 241.5h.7M488.7 285.7h.7M484.4 276.0h.7M484.1 251.5h.7M490.4 256.3h.7M489.1 237.9h.7M487.8 246.0h.7M482.8 248.6h.7M491.3 233.3h.7M483.6 258.2h.7M485.7 242.4h.7M487.6 242.7h.7M493.7 252.0h.7M502.3 245.6h.7M492.8 242.1h.7M495.9 233.1h.7M486.3 247.2h.7M505.9 273.5h.7M501.5 249.4h.7M482.4 255.5h.7M496.6 242.3h.7M501.4 270.9h.7M481.6 245.2h.7M489.4 246.8h.7M490.0 250.0h.7M489.4 277.5h.7M488.2 236.3h.7M497.2 260.4h.7M484.6 240.0h.7M486.0 226.2h.7M483.7 254.5h.7M483.6 246.9h.7M489.3 243.2h.7M493.4 251.5h.7M497.5 253.3h.7M487.5 267.7h.7M492.4 254.9h.7M492.4 246.0h.7M485.7 263.0h.7M486.8 246.3h.7M495.6 260.4h.7M490.9 271.3h.7M489.6 275.1h.7M498.3 251.7h.7M489.5 261.8h.7M481.6 257.4h.7M494.5 266.9h.7M498.4 252.9h.7M493.4 239.2h.7M493.8 241.2h.7M483.4 268.7h.7M500.5 248.4h.7M492.5 275.7h.7M483.5 266.1h.7M489.1 256.5h.7M490.4 266.4h.7M497.4 247.9h.7M497.3 260.0h.7M498.5 238.2h.7M495.6 249.7h.7M492.2 232.7h.7M502.6 249.0h.7M493.3 233.5h.7M489.7 251.6h.7M491.5 237.5h.7M492.7 245.2h.7M495.7 237.2h.7M497.3 238.4h.7M484.7 254.8h.7M494.1 254.3h.7M487.7 246.5h.7M485.8 261.9h.7M481.2 236.5h.7M484.4 255.3h.7M482.7 258.3h.7M481.5 230.8h.7M492.6 254.1h.7M488.8 264.3h.7M488.4 244.0h.7M489.8 264.3h.7M489.9 270.2h.7M498.3 261.5h.7M495.8 263.9h.7M493.4 223.8h.7M491.8 248.2h.7M484.4 229.1h.7M491.6 237.6h.7M490.8 240.6h.7M492.6 239.0h.7M492.1 249.1h.7M488.3 246.7h.7M492.3 220.5h.7M480.3 250.7h.7M490.9 252.2h.7M492.7 238.9h.7M497.9 257.9h.7M492.7 246.9h.7M486.9 243.1h.7M492.9 250.7h.7M495.3 252.2h.7M488.4 262.4h.7M483.0 234.8h.7M492.9 244.3h.7M483.0 233.4h.7M490.8 264.6h.7M498.6 248.5h.7M489.4 240.5h.7M501.2 248.6h.7M488.7 258.0h.7M497.1 250.0h.7M497.5 235.8h.7M493.3 256.1h.7M493.1 256.8h.7M491.8 255.9h.7M479.3 241.6h.7M495.5 237.5h.7M485.9 271.6h.7M491.2 252.6h.7M492.9 268.6h.7M489.4 240.6h.7M492.3 265.0h.7M481.0 248.2h.7M488.6 251.1h.7M494.4 253.0h.7M482.2 247.0h.7M490.1 249.1h.7M496.6 246.1h.7M487.3 247.8h.7M491.0 257.2h.7M481.4 234.7h.7M490.3 259.8h.7M490.5 252.2h.7M500.4 250.9h.7M492.4 249.1h.7M496.1 255.2h.7M489.4 257.4h.7M493.3 244.3h.7M494.9 272.1h.7M484.8 237.9h.7M490.2 247.4h.7M492.1 249.2h.7M491.7 262.0h.7M497.8 226.7h.7M493.8 249.9h.7M493.8 250.2h.7M492.8 247.2h.7M487.3 247.8h.7M495.2 250.0h.7M490.4 263.3h.7M495.5 240.0h.7M486.4 247.8h.7M493.5 261.0h.7M481.5 264.2h.7M491.1 252.0h.7M495.4 252.7h.7M491.9 260.5h.7M497.3 237.5h.7M482.2 238.1h.7M492.3 246.8h.7M489.7 244.2h.7M486.2 255.4h.7M490.6 252.9h.7M493.8 265.8h.7M502.4 243.2h.7M497.9 251.6h.7M493.2 262.0h.7M487.6 248.2h.7M496.2 256.2h.7M500.8 256.4h.7M491.5 248.4h.7M494.1 229.7h.7M497.9 253.2h.7M487.4 250.7h.7M493.8 236.7h.7M495.7 225.8h.7M498.8 246.5h.7M492.2 246.7h.7M487.5 260.2h.7M485.6 248.8h.7M493.8 236.3h.7M494.2 239.8h.7M495.6 245.9h.7M497.9 249.0h.7M485.3 260.3h.7M497.4 260.0h.7M482.7 237.9h.7M495.9 254.9h.7M489.1 247.6h.7M491.7 226.0h.7M484.2 236.3h.7M496.5 245.5h.7M479.3 247.9h.7M488.8 241.7h.7M482.9 239.6h.7M492.4 244.8h.7M495.0 264.2h.7M488.9 232.2h.7M485.4 250.3h.7M494.9 247.5h.7M490.5 252.0h.7M497.4 257.4h.7M488.8 243.0h.7M490.6 242.9h.7M485.4 260.9h.7M491.8 237.7h.7M493.0 238.0h.7M485.4 231.7h.7M484.3 244.2h.7M492.1 248.4h.7M492.3 250.0h.7M488.2 262.3h.7M484.7 238.4h.7M501.9 252.0h.7M491.9 278.3h.7M484.8 267.1h.7M490.5 247.3h.7M485.3 248.8h.7M494.8 249.3h.7M488.1 253.8h.7M497.6 250.0h.7M488.4 245.1h.7M492.8 243.0h.7M498.4 243.3h.7" stroke="#555" stroke-width=".6" fill="none" opacity=".7" filter="url(#b1)"/>
<path d="M502.7 244.9h.7M501.1 235.5h.7M496.6 237.0h.7M493.8 246.2h.7M492.0 265.7h.7M505.6 255.5h.7M497.6 241.0h.7M489.4 254.6h.7M492.0 246.1h.7M494.7 246.6h.7M505.6 245.8h.7M496.7 255.5h.7M495.1 227.7h.7M493.9 244.2h.7M493.9 256.2h.7M503.3 236.8h.7M497.8 248.7h.7M495.6 240.4h.7M499.7 242.7h.7M506.2 246.3h.7M497.6 248.5h.7M498.6 242.5h.7M500.4 254.6h.7M498.6 250.6h.7M491.0 242.4h.7M498.0 243.5h.7M502.8 250.2h.7M497.5 240.1h.7M495.7 244.1h.7M505.5 235.0h.7M502.0 243.0h.7M505.3 255.7h.7M493.5 250.0h.7M490.9 253.5h.7M496.9 236.4h.7M497.4 252.3h.7M509.2 254.9h.7M499.4 246.0h.7M486.9 232.3h.7M486.3 234.9h.7M502.3 259.0h.7M498.9 242.7h.7M500.9 269.4h.7M498.4 260.2h.7M504.1 238.7h.7M498.2 238.6h.7M499.2 242.4h.7M493.2 253.4h.7M497.3 244.3h.7M501.7 251.0h.7M503.5 264.5h.7M491.7 251.3h.7M489.2 255.4h.7M506.8 237.3h.7M503.4 253.3h.7M499.5 225.3h.7M492.6 243.0h.7M497.9 247.9h.7M501.5 247.9h.7M496.7 237.0h.7M494.0 244.7h.7M508.3 243.1h.7M497.2 256.3h.7M501.4 252.8h.7M498.1 262.4h.7M494.9 260.5h.7M505.0 249.3h.7M495.1 240.6h.7M498.9 227.4h.7M503.8 238.4h.7M491.8 251.6h.7M498.0 238.3h.7M503.9 235.3h.7M494.9 231.3h.7M506.0 252.4h.7M490.8 251.6h.7M494.7 238.4h.7M496.8 227.6h.7M498.5 246.7h.7M504.8 238.2h.7M491.0 237.4h.7M494.8 254.8h.7M508.3 252.4h.7M499.7 235.8h.7M490.9 234.9h.7M500.8 257.7h.7M496.6 234.0h.7M501.3 245.7h.7M494.1 231.4h.7M488.9 261.4h.7M495.4 249.6h.7M499.9 255.3h.7M508.2 245.0h.7M503.4 238.3h.7M490.8 246.5h.7M488.2 231.9h.7M493.9 252.8h.7M496.5 229.3h.7M497.5 241.0h.7M495.1 241.0h.7M497.1 254.2h.7M500.1 247.0h.7M493.6 231.4h.7M506.7 261.4h.7M489.5 250.4h.7M499.5 247.8h.7M498.5 242.7h.7M504.5 250.1h.7M502.4 249.5h.7M498.6 242.3h.7M503.4 228.9h.7M504.2 244.7h.7M498.9 241.6h.7M488.9 237.8h.7M499.6 242.3h.7M499.9 238.1h.7M489.1 245.4h.7M495.6 239.2h.7M504.5 229.0h.7M498.2 243.8h.7M503.9 248.0h.7M499.3 249.2h.7M498.7 244.5h.7M496.9 254.9h.7M508.2 237.0h.7M498.8 236.2h.7M506.8 263.6h.7M498.8 260.5h.7M498.7 235.3h.7M506.2 231.6h.7M492.6 258.2h.7M501.9 252.5h.7M495.8 239.9h.7M492.0 258.5h.7M500.3 268.1h.7M499.8 252.1h.7M495.0 242.1h.7M500.1 239.0h.7M502.6 257.1h.7M491.6 252.8h.7M498.9 248.8h.7M496.0 258.0h.7M498.7 253.1h.7M499.5 240.5h.7M492.1 262.9h.7M505.9 246.5h.7M502.8 259.6h.7M504.9 256.2h.7M497.1 253.5h.7M495.3 249.2h.7M493.2 231.0h.7M493.4 231.7h.7M499.7 253.4h.7M499.9 239.4h.7M497.5 234.1h.7M499.7 252.3h.7M506.8 237.0h.7M496.9 245.8h.7M508.9 249.2h.7M499.9 232.4h.7M497.0 268.0h.7M504.2 253.3h.7M495.9 238.1h.7M498.8 240.9h.7M508.5 241.4h.7M495.4 254.1h.7M498.9 238.2h.7M491.4 238.9h.7M505.2 241.2h.7M496.9 255.7h.7M505.4 254.7h.7M499.6 241.0h.7M493.3 248.3h.7M497.4 249.1h.7M487.9 233.3h.7M501.5 261.1h.7M498.5 234.8h.7M500.6 238.4h.7M496.3 244.2h.7M501.3 257.4h.7M500.6 237.5h.7M502.8 242.1h.7M490.6 255.9h.7M506.7 236.7h.7M495.9 241.0h.7M495.4 258.4h.7M501.6 248.6h.7M498.5 239.5h.7M495.2 240.1h.7M500.5 253.3h.7M496.0 253.8h.7M493.7 267.0h.7M492.6 241.6h.7M497.3 254.8h.7M499.0 238.4h.7M500.5 254.5h.7M492.4 226.2h.7M500.4 236.9h.7M502.5 264.5h.7M503.8 249.9h.7M501.8 245.2h.7M493.6 245.6h.7M495.7 249.1h.7M492.1 236.5h.7M498.1 247.8h.7M497.9 255.9h.7M490.7 252.9h.7M496.4 246.4h.7M502.8 248.0h.7M501.9 262.2h.7M497.4 229.1h.7M495.2 242.3h.7M498.7 239.0h.7M498.3 249.1h.7M488.4 262.2h.7M494.8 233.6h.7M493.9 253.9h.7M512.6 227.4h.7M494.5 258.0h.7M494.4 247.3h.7M495.6 246.4h.7M499.0 237.2h.7M492.9 232.8h.7M498.7 270.3h.7M503.1 245.8h.7M503.8 252.9h.7M496.2 240.6h.7M498.3 238.9h.7M497.5 250.9h.7M491.8 235.6h.7M496.2 238.9h.7M497.2 249.9h.7M499.3 253.4h.7M498.0 249.5h.7M497.1 247.6h.7M497.3 246.7h.7M496.1 249.7h.7M501.5 259.6h.7M505.1 254.2h.7M494.7 234.1h.7M490.1 243.8h.7M498.6 256.5h.7M498.1 246.9h.7M491.9 253.6h.7M506.6 242.7h.7M507.7 253.9h.7M493.7 252.9h.7M498.8 250.3h.7M491.9 250.4h.7M501.9 235.2h.7M500.0 259.0h.7M499.2 240.1h.7M496.7 254.0h.7M500.3 245.8h.7M494.6 239.9h.7M496.8 235.4h.7M499.5 265.7h.7M496.7 246.3h.7M498.2 252.6h.7M496.4 252.0h.7M493.6 236.2h.7M494.8 251.6h.7M494.6 239.6h.7M498.7 227.4h.7M495.5 224.1h.7M494.7 264.8h.7M489.8 257.5h.7M494.7 241.4h.7M495.9 265.6h.7M494.9 247.3h.7M495.3 244.2h.7M501.1 249.6h.7M498.2 240.2h.7M498.5 244.6h.7M497.4 247.5h.7M495.1 234.3h.7M499.5 229.2h.7M501.9 241.1h.7M493.3 256.7h.7M494.5 247.3h.7M493.3 250.7h.7M499.2 244.2h.7M496.6 231.7h.7M503.0 240.2h.7M497.0 241.9h.7M498.7 244.5h.7M495.8 243.8h.7M498.6 261.5h.7M492.2 256.7h.7M498.1 251.0h.7M494.4 256.2h.7M501.2 228.6h.7M489.4 262.9h.7M494.8 244.3h.7M490.4 246.4h.7M497.8 241.8h.7M503.7 244.6h.7M501.6 247.0h.7M498.4 243.9h.7M494.9 260.3h.7M503.0 257.9h.7M494.4 242.6h.7M498.3 243.2h.7M500.5 262.3h.7M495.0 242.7h.7M490.4 258.6h.7M498.5 249.9h.7M494.4 246.8h.7M496.2 240.1h.7M500.1 259.2h.7M503.5 243.7h.7M512.1 240.4h.7M497.7 234.0h.7M496.3 249.6h.7M494.7 245.7h.7M493.0 242.5h.7M491.8 242.3h.7M487.5 238.5h.7M495.4 245.1h.7M503.5 236.1h.7M494.2 254.6h.7M493.2 243.0h.7M489.4 216.5h.7M507.8 253.8h.7M507.2 245.5h.7M490.8 250.0h.7M493.1 248.7h.7M499.4 252.2h.7M493.8 247.9h.7M499.4 259.7h.7M495.8 264.8h.7M500.6 250.4h.7M494.7 249.8h.7M500.5 237.1h.7M500.6 249.2h.7M496.3 238.8h.7M496.6 253.1h.7M505.7 248.0h.7M496.0 253.2h.7M502.1 253.9h.7M496.8 223.2h.7M498.5 246.0h.7M492.1 247.0h.7M492.8 243.6h.7M503.4 241.0h.7M486.3 256.5h.7M497.0 246.6h.7M489.0 228.7h.7M495.8 241.4h.7M498.3 244.5h.7M499.1 242.4h.7M499.3 241.6h.7M499.9 252.7h.7M490.3 246.4h.7M495.8 246.5h.7M506.3 240.7h.7M496.8 248.8h.7M487.3 260.3h.7M500.4 245.1h.7M501.9 272.0h.7M493.7 259.5h.7M505.7 238.9h.7M499.9 234.1h.7M498.9 240.1h.7M500.4 242.9h.7M503.5 258.4h.7M505.7 245.9h.7M496.2 243.8h.7M494.7 245.7h.7M492.9 244.2h.7M501.5 256.2h.7M499.6 231.8h.7M504.8 264.4h.7M501.8 242.9h.7M500.7 245.9h.7M490.2 257.7h.7M501.8 251.8h.7M500.9 247.2h.7M492.0 261.3h.7M496.1 243.7h.7M500.0 231.0h.7M496.6 252.4h.7M496.6 223.9h.7M498.5 255.3h.7M491.5 268.9h.7M498.5 247.3h.7M499.9 256.6h.7M498.9 246.2h.7M499.4 235.4h.7M507.2 230.8h.7M496.9 239.5h.7M498.3 245.9h.7M502.6 246.0h.7M496.4 266.8h.7M492.9 246.8h.7M496.0 256.3h.7M497.7 258.5h.7M494.2 249.7h.7M500.4 247.0h.7M499.1 231.7h.7M500.1 244.2h.7M506.6 237.7h.7M490.6 266.4h.7M506.9 244.8h.7M488.6 239.8h.7M499.1 251.0h.7M502.4 258.3h.7M500.7 245.2h.7M504.2 262.1h.7M499.5 243.2h.7M501.4 248.4h.7M497.6 247.9h.7M503.2 261.4h.7M502.5 250.9h.7M496.1 231.7h.7M496.7 251.6h.7M493.6 250.9h.7M493.9 249.4h.7M484.8 250.8h.7M501.1 247.1h.7M500.9 237.4h.7M498.1 242.9h.7M498.0 246.7h.7M498.5 239.6h.7M495.6 229.6h.7M496.5 222.6h.7M499.3 265.5h.7M495.4 242.6h.7M498.1 250.9h.7M501.2 241.7h.7M496.3 250.8h.7M499.6 235.0h.7M500.0 263.4h.7M489.4 242.8h.7M496.3 236.8h.7M491.4 262.9h.7M498.6 250.8h.7M502.3 235.2h.7M503.5 240.7h.7M502.7 246.7h.7M504.2 252.4h.7M497.6 256.5h.7M494.8 253.1h.7M491.2 245.4h.7M506.8 255.6h.7M493.1 259.8h.7M496.3 250.8h.7M496.0 252.9h.7M495.3 260.4h.7M496.3 241.0h.7M495.8 233.8h.7M501.0 257.7h.7M504.2 251.8h.7M497.0 259.7h.7M504.6 240.9h.7M491.8 242.2h.7M497.7 257.7h.7M502.9 250.6h.7M503.2 244.5h.7M497.3 225.7h.7M495.3 244.7h.7M503.3 246.0h.7M496.1 248.3h.7M496.1 228.1h.7M494.6 245.5h.7M496.8 240.7h.7M495.6 252.7h.7M490.8 244.4h.7M495.0 244.7h.7M498.0 253.6h.7M485.3 245.1h.7M492.4 230.7h.7M498.6 247.9h.7M494.3 244.8h.7M493.8 260.5h.7M505.8 257.9h.7M492.2 253.6h.7M499.3 247.7h.7M497.0 244.4h.7M494.9 240.4h.7M493.9 269.9h.7M500.3 240.4h.7M494.7 252.1h.7M506.3 263.3h.7M493.2 234.2h.7M494.7 249.8h.7M495.2 241.4h.7M507.5 234.6h.7M500.9 245.4h.7M494.9 265.4h.7M491.7 249.5h.7M496.9 240.2h.7M495.7 247.7h.7M510.0 251.7h.7M496.5 233.4h.7M498.8 254.6h.7M511.0 231.7h.7M490.9 229.5h.7M490.4 258.3h.7M497.2 239.9h.7M498.4 246.0h.7M497.0 258.0h.7M501.8 243.3h.7M503.6 256.7h.7M496.5 242.4h.7M495.9 237.8h.7M487.6 257.8h.7M504.2 223.4h.7M496.2 237.5h.7M495.8 250.6h.7M502.9 251.6h.7M501.0 257.6h.7M499.0 258.0h.7M501.9 240.2h.7M501.3 243.0h.7M502.6 258.2h.7M491.1 252.6h.7M493.1 241.8h.7M495.5 251.9h.7M500.9 246.4h.7M487.8 251.7h.7M503.2 221.4h.7M494.9 241.2h.7M498.8 244.1h.7M502.5 243.0h.7M493.4 227.9h.7M488.8 244.6h.7M500.7 236.9h.7M500.7 242.8h.7M501.8 259.5h.7M499.9 237.8h.7M502.6 248.7h.7M497.9 250.5h.7M501.0 258.2h.7M491.4 258.7h.7M498.9 259.8h.7M497.2 254.7h.7M502.3 259.7h.7M496.2 261.0h.7M495.4 235.3h.7M493.8 234.2h.7M504.4 256.4h.7M488.9 244.7h.7M498.9 248.9h.7M495.2 240.1h.7M501.7 246.0h.7M493.5 249.5h.7M494.6 244.3h.7M501.4 244.8h.7M509.8 233.1h.7M493.0 262.0h.7M498.7 245.2h.7M502.3 245.0h.7M493.1 261.7h.7M498.2 248.7h.7M498.5 246.4h.7M493.6 237.1h.7M489.8 255.5h.7M498.1 244.8h.7M490.7 233.7h.7M495.8 250.0h.7M496.9 246.0h.7M493.5 254.4h.7M499.0 259.4h.7M500.2 237.0h.7M494.7 245.1h.7M503.1 247.3h.7M497.6 260.5h.7M501.9 253.1h.7M489.3 245.0h.7M507.2 253.3h.7M503.7 264.7h.7M501.5 227.8h.7M499.4 244.9h.7M493.5 256.7h.7M494.2 259.3h.7M499.9 242.0h.7M493.7 264.7h.7M496.7 250.3h.7M497.6 238.6h.7M496.1 245.0h.7M489.6 239.6h.7M493.4 249.9h.7M498.4 234.9h.7M494.7 247.7h.7M493.8 230.2h.7M501.8 246.8h.7M496.1 242.2h.7M499.3 242.7h.7M497.9 257.5h.7M504.4 262.9h.7M492.9 246.4h.7M491.6 236.4h.7M491.0 242.9h.7M495.5 237.3h.7M497.2 251.7h.7M495.2 238.6h.7M501.3 244.5h.7M498.7 236.5h.7M500.3 254.8h.7M492.7 236.3h.7M495.7 252.5h.7M501.2 257.6h.7M493.3 227.8h.7M493.4 247.3h.7M499.7 233.5h.7M497.4 243.2h.7M499.8 238.0h.7M496.8 243.4h.7M498.8 246.8h.7M499.5 248.6h.7M501.5 237.3h.7M513.9 260.2h.7M491.1 253.0h.7M495.3 239.0h.7M503.4 224.1h.7M493.9 251.6h.7M489.7 255.3h.7M495.4 246.7h.7M504.7 247.7h.7M502.5 260.1h.7M495.0 242.8h.7M504.1 252.8h.7M504.8 269.9h.7M493.4 246.0h.7M499.9 234.0h.7M493.1 232.3h.7M496.3 247.6h.7M505.6 272.0h.7M496.9 245.2h.7M499.0 250.5h.7M497.4 260.9h.7M503.2 241.1h.7M486.8 246.9h.7M504.6 262.0h.7M495.5 241.2h.7M498.0 240.7h.7M493.2 240.8h.7M506.4 261.1h.7M499.2 255.5h.7M495.2 240.9h.7M501.0 251.4h.7M491.4 259.1h.7M487.3 240.6h.7M503.4 260.8h.7M511.3 244.3h.7M497.0 251.0h.7M498.1 236.3h.7M496.3 243.3h.7M502.3 244.6h.7M498.2 246.5h.7M496.2 257.3h.7M495.4 251.6h.7M503.6 245.2h.7M503.0 242.2h.7M499.2 233.1h.7M502.5 258.2h.7M497.5 231.3h.7M496.1 246.9h.7M503.7 224.3h.7M498.9 247.9h.7M490.5 253.4h.7M489.3 252.4h.7M502.4 237.8h.7M492.5 237.4h.7M495.4 251.5h.7M500.8 242.7h.7M500.3 236.3h.7M497.1 229.6h.7M504.4 234.3h.7M493.4 263.1h.7M502.3 236.5h.7M502.1 273.6h.7M499.1 237.6h.7M494.8 263.7h.7M495.2 238.8h.7M509.8 230.4h.7M493.7 230.2h.7M494.3 242.0h.7M499.9 232.3h.7M500.9 240.6h.7M504.5 241.1h.7M497.7 228.0h.7M488.9 251.9h.7M507.5 230.3h.7M496.3 244.7h.7M497.8 253.2h.7M500.6 254.1h.7M485.3 231.3h.7M508.1 258.9h.7M489.4 241.7h.7M499.8 238.7h.7M495.3 231.4h.7M492.5 266.2h.7M498.2 245.8h.7M500.5 239.1h.7M499.3 245.9h.7M500.8 237.0h.7M496.7 257.9h.7M500.2 237.9h.7" stroke="#111" stroke-width=".7" fill="none" opacity=".85" filter="url(#b1)"/>
<path d="M491.0 235.5Q491.0 231.5 495.0 231.5H500.3Q504.3 231.5 504.3 236.5Q504.8 252.9 499.0 264.0Q492.0 249.8 491.0 235.5Z" fill="#000" filter="url(#b2)"/>
<ellipse cx="497.8" cy="246.6" rx="5.6" ry="11.7" fill="#080808"/>
<ellipse cx="497.8" cy="246.6" rx="4.2" ry="10.3" fill="#141414" stroke="#e0e0e0" stroke-width=".65"/>
<ellipse cx="497.8" cy="246.6" rx="2.6" ry="7.3" fill="#1c1c1c" stroke="#999" stroke-width=".4"/>
<ellipse cx="498.0" cy="246.1" rx="1" ry="4.2" fill="#3a3a3a" stroke="#bbb" stroke-width=".4"/>
</g>
<path d="M464.8 229.2H512.4V238.8H505.3M485.4 229.2V240.0H464.8" fill="none" stroke="#111" stroke-width=".8" opacity=".85"/>
<path d="M464.8 228.6h-2M464.8 239.1h-2M464.8 249.6h-2M464.8 260.1h-2M464.8 270.6h-2M469.8 272.4v2.2M480.3 272.4v2.2M490.8 272.4v2.2M501.3 272.4v2.2M511.8 272.4v2.2M466.8 272.4v1.5M469.5 272.4v1.5M472.2 272.4v1.5M474.9 272.4v1.5M477.6 272.4v1.5M480.3 272.4v1.5M483.0 272.4v1.5M485.7 272.4v1.5M488.4 272.4v1.5M491.1 272.4v1.5M493.8 272.4v1.5M496.5 272.4v1.5M499.2 272.4v1.5M501.9 272.4v1.5M504.6 272.4v1.5M507.3 272.4v1.5M510.0 272.4v1.5M512.7 272.4v1.5" stroke="#000" stroke-width=".7"/>
<rect x="464.8" y="224.6" width="49.7" height="47.8" fill="none" stroke="#000" stroke-width="1.9"/>
<text x="512.7" y="270.6" font-size="9" transform="rotate(-90 512.7 270.6)" fill="#1a1a1a" font-family="Liberation Sans,Arial,sans-serif">DL1</text>
</g>
<g><clipPath id="c2"><rect x="464.8" y="280" width="49.7" height="48.3"/></clipPath>
<g clip-path="url(#c2)">
<path d="M499.7 294.2h.7M484.2 302.7h.7M487.7 286.5h.7M477.7 293.3h.7M472.4 292.3h.7M476.9 298.2h.7M473.7 305.6h.7M476.6 267.6h.7M490.5 297.1h.7M475.1 304.0h.7M482.8 301.8h.7M474.2 303.2h.7M468.7 316.4h.7M470.9 299.0h.7M481.2 303.5h.7M479.0 306.3h.7M451.9 298.7h.7M478.7 295.3h.7M492.2 289.6h.7M479.3 278.4h.7M482.1 282.7h.7M467.3 324.7h.7M485.6 299.7h.7M481.3 284.6h.7M471.5 304.3h.7M462.8 302.7h.7M465.9 301.1h.7M470.9 318.5h.7M488.2 294.3h.7M464.6 291.5h.7M479.5 289.2h.7M482.2 310.4h.7M479.5 295.2h.7M486.3 296.7h.7M486.8 296.4h.7M493.1 296.8h.7M471.3 300.9h.7M474.8 289.8h.7M478.9 307.8h.7M462.4 299.4h.7M478.7 298.3h.7M486.5 285.9h.7M485.4 297.4h.7M480.9 297.5h.7M477.3 294.3h.7M483.4 322.4h.7M488.6 309.1h.7M484.6 295.0h.7M485.1 322.2h.7M469.8 309.0h.7M488.4 303.2h.7M486.6 315.0h.7M498.3 314.2h.7M493.8 303.9h.7M487.1 302.3h.7M482.8 295.5h.7M486.0 315.9h.7M479.2 303.3h.7M485.6 300.8h.7M488.2 303.4h.7M471.1 289.7h.7M486.5 307.4h.7M489.6 303.4h.7M482.3 284.1h.7M492.0 291.0h.7M489.1 288.7h.7M475.4 302.5h.7M477.3 293.4h.7M488.0 308.0h.7M484.0 297.3h.7M474.1 295.9h.7M476.6 300.7h.7M487.0 299.2h.7M474.4 294.4h.7M491.2 302.7h.7M482.7 304.0h.7M485.6 302.5h.7M490.4 309.6h.7M458.1 299.6h.7M504.6 287.6h.7M482.0 312.5h.7M480.9 315.2h.7M470.8 287.9h.7M479.4 293.4h.7M472.3 307.2h.7M483.1 301.3h.7M477.7 304.0h.7M480.0 293.5h.7M485.1 305.1h.7M481.6 308.5h.7M472.1 299.7h.7M476.8 315.2h.7M485.1 323.4h.7M493.6 297.3h.7M472.2 306.3h.7M478.7 299.5h.7M472.5 307.5h.7M482.5 305.4h.7M483.5 291.7h.7M463.1 298.3h.7M475.9 295.6h.7M488.7 300.2h.7M493.1 303.1h.7M486.5 306.5h.7M487.4 288.0h.7M489.7 302.3h.7M473.2 307.6h.7M483.8 314.7h.7M486.9 305.0h.7M467.9 318.8h.7M492.9 309.3h.7M484.7 314.0h.7M474.1 308.6h.7M481.2 290.7h.7M483.9 304.9h.7M494.6 311.1h.7M468.2 280.6h.7M480.4 299.0h.7M473.5 285.9h.7M479.4 289.0h.7M475.5 310.3h.7M482.9 293.3h.7M472.0 299.2h.7M494.9 295.9h.7M494.8 292.9h.7M479.3 308.5h.7M474.8 301.8h.7M470.2 308.2h.7M490.3 294.4h.7M482.5 296.9h.7M463.7 330.0h.7M486.0 309.9h.7M484.1 303.0h.7M500.0 282.0h.7M478.5 296.8h.7M479.3 308.5h.7M475.2 287.3h.7M472.0 306.0h.7M488.6 309.7h.7M493.8 295.7h.7M488.9 308.4h.7M479.7 293.3h.7M488.0 294.0h.7M478.6 291.0h.7M495.0 300.6h.7M477.0 298.6h.7M479.2 302.1h.7M467.3 289.0h.7M485.0 312.6h.7M472.9 302.4h.7M476.4 277.3h.7M478.5 289.8h.7M488.0 299.0h.7M480.7 285.8h.7M482.1 280.7h.7M482.7 315.7h.7M471.3 310.1h.7M492.2 299.1h.7M489.9 302.1h.7M477.0 280.1h.7M472.4 285.6h.7M500.1 303.9h.7M479.6 287.0h.7M494.8 289.0h.7M492.9 312.6h.7M481.6 294.2h.7M480.6 287.3h.7M486.2 318.9h.7M488.1 312.2h.7M475.4 304.4h.7M472.8 296.4h.7M486.8 327.5h.7M481.6 301.6h.7M465.8 303.0h.7M473.7 286.4h.7M469.1 302.7h.7M477.8 308.3h.7M479.1 301.2h.7M492.7 309.7h.7M487.1 316.7h.7M482.7 290.8h.7M474.6 284.7h.7M483.8 296.9h.7M485.1 310.0h.7M474.5 303.1h.7M491.2 302.1h.7M488.5 299.1h.7M473.4 298.8h.7M465.9 308.7h.7M476.8 315.4h.7M471.1 302.5h.7M483.7 299.1h.7M484.1 293.2h.7M472.4 286.3h.7M476.4 292.6h.7M482.9 297.3h.7M475.7 293.4h.7M465.7 297.3h.7M484.3 287.1h.7M478.9 308.3h.7M475.4 303.2h.7M477.5 327.2h.7M492.3 313.8h.7M475.5 308.1h.7M479.7 305.0h.7M476.3 302.9h.7M474.8 304.3h.7M495.2 286.6h.7M470.3 306.5h.7M487.4 297.2h.7M485.8 305.7h.7M485.5 315.9h.7M475.7 308.2h.7M482.6 293.9h.7M485.1 287.3h.7M468.9 312.7h.7M472.0 319.2h.7M489.4 295.6h.7M473.8 277.4h.7M480.4 283.7h.7M493.8 283.2h.7M481.5 272.0h.7M478.1 315.4h.7M477.3 292.4h.7M477.1 305.2h.7M488.2 298.6h.7M464.2 304.5h.7M488.9 325.8h.7M482.3 303.0h.7M476.5 309.2h.7M495.4 290.4h.7M481.6 290.0h.7M475.3 299.2h.7M485.0 292.2h.7M478.5 315.8h.7M485.1 308.6h.7M484.2 299.1h.7M484.4 306.7h.7M480.9 312.2h.7M481.0 310.8h.7M481.1 309.0h.7M475.4 295.1h.7M471.5 314.1h.7M485.1 303.4h.7M486.0 292.2h.7M481.8 295.7h.7M465.7 298.3h.7M473.8 316.5h.7M474.8 294.5h.7M489.0 301.0h.7M470.0 303.6h.7M474.8 319.5h.7M472.3 293.2h.7M458.5 293.9h.7M496.3 299.8h.7M473.1 304.2h.7M478.6 300.7h.7M501.3 322.8h.7M494.0 319.0h.7M473.4 280.1h.7M487.0 305.4h.7M481.3 299.9h.7M486.8 307.2h.7M483.1 306.4h.7M479.3 297.2h.7M492.4 298.5h.7M497.3 308.1h.7M481.5 313.2h.7M476.9 299.1h.7M478.2 301.1h.7M486.6 323.5h.7M485.3 289.7h.7M474.2 281.7h.7M486.9 310.6h.7M483.7 305.0h.7M485.3 305.8h.7M486.3 303.6h.7M472.9 311.3h.7M491.9 283.6h.7M479.1 289.0h.7M485.1 298.1h.7M492.6 313.1h.7M477.2 296.0h.7M476.2 307.3h.7M473.3 305.9h.7M469.5 312.4h.7M484.9 288.7h.7M474.5 302.7h.7M483.3 270.4h.7M482.6 317.4h.7M477.3 286.6h.7M490.9 303.7h.7M482.6 307.8h.7M470.9 293.9h.7M471.7 288.9h.7M478.3 289.8h.7M494.1 306.5h.7M487.7 283.3h.7M479.2 299.5h.7M482.3 305.9h.7M474.4 291.3h.7M488.8 325.4h.7M498.0 298.1h.7M474.5 303.2h.7M484.8 320.1h.7M479.0 293.1h.7M489.5 293.4h.7M473.9 306.9h.7M479.4 289.8h.7M478.8 296.7h.7M479.1 293.2h.7M485.7 297.3h.7M476.0 312.5h.7M473.4 309.2h.7M485.8 298.0h.7M482.7 285.2h.7M483.0 290.1h.7M473.9 303.9h.7M475.0 302.5h.7M484.3 312.3h.7M484.2 312.2h.7M474.8 297.2h.7M486.2 313.8h.7M484.6 295.5h.7M472.2 291.0h.7M490.1 290.7h.7M479.1 307.9h.7M484.5 293.6h.7M497.1 302.9h.7M483.2 309.8h.7M478.4 308.5h.7M479.8 291.7h.7M473.2 305.2h.7M481.8 299.5h.7M477.3 298.5h.7M487.4 312.8h.7M478.9 303.9h.7M465.9 289.0h.7M475.3 291.5h.7M486.6 279.0h.7M484.9 308.4h.7M498.8 295.9h.7M484.6 316.9h.7M488.5 291.2h.7M478.1 289.0h.7M481.5 308.4h.7M492.0 307.1h.7M488.2 312.4h.7M474.4 308.3h.7M488.8 299.3h.7M473.3 302.8h.7M482.2 308.5h.7M466.6 297.3h.7M497.3 314.8h.7M479.8 298.1h.7M478.8 290.9h.7M477.3 300.8h.7M471.3 300.4h.7M483.1 287.6h.7M477.4 284.8h.7M481.3 303.5h.7M476.8 301.9h.7M485.4 308.4h.7M470.2 297.8h.7M469.4 281.2h.7M489.2 309.2h.7M491.2 309.3h.7M476.9 303.4h.7M476.6 315.5h.7M462.0 305.4h.7M476.5 308.8h.7M490.7 294.5h.7M492.0 312.7h.7M468.3 320.5h.7M471.5 286.9h.7M488.6 293.6h.7M482.8 300.7h.7M472.8 318.1h.7M492.9 302.0h.7M493.7 301.1h.7M483.1 298.0h.7M470.4 297.6h.7M473.3 305.5h.7M482.2 295.1h.7M491.3 305.1h.7M495.7 297.1h.7M477.9 293.4h.7M482.9 299.5h.7M481.3 319.7h.7M487.4 294.6h.7M484.3 298.5h.7M478.5 299.0h.7M481.5 308.0h.7M489.1 301.6h.7M474.5 301.2h.7M479.5 298.4h.7M471.3 299.8h.7M466.4 314.5h.7M486.9 309.1h.7M473.5 303.7h.7M491.3 298.9h.7M472.4 300.0h.7M462.8 311.1h.7M484.5 286.8h.7M486.6 313.2h.7M486.2 308.2h.7M493.4 303.6h.7M492.3 299.1h.7M475.5 297.8h.7M472.6 305.4h.7M475.4 305.1h.7M483.6 318.4h.7M495.2 295.5h.7M479.6 299.5h.7M476.1 320.2h.7M490.9 298.9h.7M469.9 294.5h.7M481.2 317.8h.7M470.7 316.5h.7M469.5 304.9h.7M471.7 296.7h.7M461.9 307.5h.7M481.3 290.2h.7M463.9 300.4h.7M480.8 285.9h.7M484.9 299.9h.7M471.9 292.7h.7M461.3 308.8h.7M488.8 299.1h.7M470.8 289.3h.7M478.5 291.8h.7M483.2 291.9h.7M488.1 313.6h.7M476.1 292.5h.7M457.2 301.4h.7M483.9 291.2h.7M489.8 294.0h.7M471.5 309.7h.7M484.6 279.3h.7M475.3 287.5h.7M479.1 303.0h.7M477.2 302.7h.7M488.1 297.7h.7M470.7 290.7h.7M487.6 319.1h.7M479.5 305.0h.7M474.4 295.0h.7M488.6 295.7h.7M482.3 302.3h.7M490.2 303.5h.7M480.4 297.9h.7M476.6 311.7h.7M498.0 284.5h.7M489.1 290.6h.7M475.9 297.8h.7M477.3 297.1h.7M476.1 319.9h.7M469.3 294.2h.7M474.7 303.0h.7M470.6 300.9h.7M481.8 321.5h.7M486.0 300.4h.7M481.7 320.4h.7M480.0 293.8h.7M475.9 297.2h.7M487.9 290.6h.7M476.3 300.8h.7M473.5 307.8h.7M477.7 306.2h.7M485.0 316.6h.7M494.7 292.0h.7M470.4 288.9h.7M484.7 306.6h.7M480.9 300.7h.7M493.0 310.4h.7M482.7 307.5h.7M468.9 313.4h.7M497.4 302.6h.7M477.5 314.1h.7M477.0 302.1h.7M485.8 299.5h.7M486.6 280.9h.7M461.5 308.8h.7M485.2 303.5h.7M477.9 301.6h.7M484.5 289.2h.7M483.0 293.0h.7M497.6 305.0h.7M483.1 311.7h.7M488.5 311.1h.7M475.8 302.8h.7M488.0 303.5h.7M482.0 295.3h.7M482.5 315.6h.7M471.4 287.0h.7M471.5 285.0h.7M491.1 320.8h.7M485.0 302.2h.7M492.0 312.2h.7M463.0 300.5h.7M500.5 297.1h.7M475.4 294.8h.7M493.5 296.7h.7M484.4 313.8h.7M482.5 301.5h.7M472.8 288.4h.7M489.6 287.7h.7M489.5 314.2h.7M492.9 299.3h.7M474.4 302.3h.7M491.3 306.9h.7M484.8 300.0h.7M488.4 281.0h.7M471.7 317.5h.7M484.8 308.6h.7M466.0 292.4h.7M477.6 300.2h.7M490.4 295.4h.7M482.0 293.7h.7M479.2 305.1h.7M484.3 311.6h.7M471.1 309.3h.7M484.6 293.0h.7M491.4 294.3h.7M478.1 306.8h.7M492.3 297.0h.7M492.7 305.5h.7M475.0 308.8h.7M481.6 293.8h.7M479.9 314.2h.7M483.8 298.7h.7M487.4 286.7h.7M486.2 315.1h.7M471.9 289.8h.7M474.2 299.1h.7M475.1 301.1h.7M473.2 304.2h.7M485.6 305.9h.7M476.5 309.9h.7M468.8 294.5h.7M480.4 314.5h.7M478.0 307.6h.7M493.9 321.7h.7M494.7 293.0h.7M483.2 306.5h.7M486.4 306.6h.7M480.1 301.8h.7M470.2 308.7h.7M483.6 295.3h.7M495.2 301.4h.7M475.9 307.4h.7M484.6 308.1h.7M480.4 309.2h.7M482.0 313.8h.7M483.7 292.9h.7M473.0 307.3h.7M488.5 286.2h.7M485.9 300.6h.7M483.3 293.0h.7M472.3 295.3h.7M474.7 297.0h.7M481.9 301.8h.7M496.0 291.6h.7M477.6 302.3h.7M486.0 290.7h.7M469.8 304.0h.7M484.1 307.4h.7M486.2 285.5h.7M489.5 300.1h.7M497.5 297.3h.7M464.1 300.1h.7M482.6 304.6h.7M482.7 295.9h.7M468.0 299.5h.7M478.6 294.5h.7M481.5 298.2h.7M465.2 292.7h.7M474.5 298.6h.7M493.9 300.9h.7M485.4 279.6h.7M490.6 295.7h.7M485.3 290.1h.7M480.8 309.7h.7M480.9 303.6h.7M475.1 293.9h.7M483.2 299.4h.7M482.1 294.4h.7M478.0 309.0h.7M492.1 297.2h.7M476.0 302.6h.7M488.3 304.2h.7M489.6 299.4h.7M473.6 281.9h.7M487.7 303.9h.7M476.0 304.9h.7M472.0 311.9h.7M489.2 313.3h.7M477.6 315.9h.7M487.5 317.6h.7M467.8 310.8h.7M491.3 298.4h.7M488.6 302.5h.7M492.5 298.9h.7M481.5 289.3h.7M497.2 292.8h.7M472.9 292.1h.7M481.8 302.0h.7M484.5 317.3h.7M488.9 286.5h.7M482.5 299.5h.7M487.0 302.6h.7M491.6 302.8h.7M496.5 291.6h.7M490.3 310.8h.7M475.4 287.7h.7M476.0 305.3h.7M494.1 286.3h.7M478.9 288.3h.7M487.3 302.9h.7M481.4 309.0h.7M483.5 316.4h.7M478.9 295.3h.7M481.2 301.0h.7M491.2 297.4h.7M477.0 294.4h.7M475.1 281.2h.7M482.2 306.6h.7M482.4 293.5h.7M488.3 308.7h.7M483.1 307.9h.7M480.3 305.5h.7M485.3 288.9h.7M477.2 294.0h.7M484.2 274.8h.7M483.4 301.2h.7M479.7 305.4h.7M469.4 303.6h.7M475.2 295.0h.7M491.9 297.9h.7M489.4 301.0h.7M478.8 297.4h.7M469.8 297.8h.7M482.2 315.8h.7M487.0 309.8h.7M473.8 293.7h.7M484.0 306.8h.7M472.8 312.0h.7M476.1 304.1h.7M477.4 308.9h.7M487.9 311.9h.7M474.0 302.9h.7M498.7 301.4h.7M484.8 302.7h.7M477.2 319.0h.7M493.4 294.3h.7M485.1 320.5h.7M484.8 302.2h.7M488.9 309.9h.7M471.7 293.0h.7M493.7 295.6h.7M480.8 294.7h.7M496.2 288.6h.7M482.6 297.4h.7M478.8 288.8h.7M474.9 299.3h.7M483.1 282.4h.7M481.8 292.4h.7M480.7 296.8h.7M480.2 298.8h.7M484.8 301.4h.7M467.8 276.5h.7M469.7 304.3h.7M467.8 290.8h.7M495.5 297.5h.7M479.5 304.7h.7M486.1 295.9h.7M481.9 280.2h.7M483.6 307.2h.7M467.4 310.7h.7M496.0 274.7h.7M479.4 315.7h.7M486.4 293.9h.7M476.1 297.3h.7M486.4 292.3h.7M469.4 302.5h.7M474.8 318.6h.7M472.8 304.0h.7M479.2 285.8h.7M476.9 280.5h.7M484.0 291.2h.7M471.1 284.7h.7M492.0 306.5h.7M473.0 299.4h.7M485.8 307.1h.7M481.0 279.4h.7M494.4 299.7h.7M491.9 287.8h.7M487.2 315.0h.7M490.1 288.4h.7M478.9 317.3h.7M474.4 308.3h.7M479.6 285.5h.7M488.5 312.5h.7M486.1 303.8h.7M489.0 280.5h.7M480.6 319.0h.7M484.9 312.4h.7M479.1 304.8h.7M471.7 306.6h.7M483.2 297.3h.7M480.8 302.1h.7M482.6 309.2h.7M489.1 278.8h.7M483.0 313.0h.7M471.8 299.4h.7M499.9 294.7h.7M489.0 303.8h.7M469.6 298.5h.7M466.4 297.5h.7M488.2 308.0h.7M483.4 295.6h.7M486.1 314.1h.7M487.2 311.6h.7M484.7 306.0h.7M473.9 317.0h.7M472.6 292.0h.7M475.4 293.6h.7M491.6 299.1h.7M478.9 298.4h.7M481.0 315.1h.7M493.0 296.7h.7M494.7 307.6h.7M483.5 314.9h.7M482.0 304.7h.7M482.3 289.2h.7M471.1 291.2h.7M474.1 295.1h.7M476.7 312.8h.7M481.2 309.4h.7M483.7 292.3h.7M478.8 285.6h.7M467.3 305.2h.7M480.7 302.0h.7M488.7 287.0h.7M479.7 277.7h.7M473.9 307.2h.7M468.7 287.4h.7M478.4 318.6h.7M486.9 299.1h.7M485.7 301.9h.7M477.6 295.4h.7M484.3 299.7h.7M486.9 295.2h.7M487.4 296.6h.7M490.2 311.3h.7M475.2 324.9h.7M483.7 293.9h.7M470.9 302.0h.7M481.9 293.1h.7M472.1 296.1h.7M472.3 294.2h.7M473.8 305.5h.7M460.6 321.9h.7M477.2 300.5h.7M470.3 312.3h.7M479.6 297.3h.7M473.5 307.2h.7M484.6 294.4h.7M493.7 291.5h.7M490.3 302.7h.7M469.9 298.2h.7M485.1 296.6h.7M481.5 300.0h.7M484.1 294.1h.7M495.4 304.4h.7M492.5 298.4h.7M482.4 290.8h.7M481.2 316.7h.7M483.3 293.5h.7M476.5 307.1h.7M479.5 322.2h.7M482.7 301.3h.7M486.6 318.0h.7M468.8 293.7h.7M475.4 280.5h.7M479.6 300.1h.7M487.6 307.7h.7M486.1 307.3h.7M477.5 330.9h.7M492.7 297.7h.7M473.7 306.4h.7M488.9 306.1h.7M487.1 311.3h.7M484.3 291.5h.7M477.0 282.6h.7M488.3 295.5h.7M482.4 323.2h.7M474.6 301.2h.7M474.5 282.1h.7M488.7 300.1h.7M480.4 309.1h.7M479.3 308.2h.7M490.9 294.0h.7M484.4 302.6h.7M489.3 326.5h.7M473.1 317.1h.7M481.8 308.0h.7M484.0 299.7h.7M471.2 301.1h.7M474.0 316.2h.7M484.5 295.2h.7M478.1 312.7h.7M469.8 303.1h.7M482.1 291.8h.7M489.2 297.0h.7M489.2 303.2h.7M476.0 300.0h.7M488.8 291.5h.7M474.5 300.1h.7M485.3 307.5h.7M473.4 288.8h.7M480.2 298.8h.7M483.2 285.3h.7M477.0 289.6h.7M493.4 279.8h.7M473.6 295.6h.7M467.1 296.3h.7M474.9 284.9h.7M477.1 314.5h.7M481.9 314.9h.7M490.8 302.4h.7M478.5 278.3h.7M464.8 303.2h.7M481.4 302.7h.7M474.1 298.0h.7M472.4 309.9h.7M481.6 280.3h.7M476.3 313.6h.7M472.7 289.6h.7M473.3 295.3h.7M481.6 299.2h.7M482.1 295.0h.7M485.9 315.5h.7M474.0 303.9h.7M483.3 302.8h.7M480.6 305.9h.7M479.2 294.6h.7M474.9 308.7h.7M476.9 282.6h.7M477.2 295.8h.7M487.7 311.4h.7M472.4 313.8h.7M483.6 316.9h.7M476.9 307.8h.7M486.7 317.2h.7M471.0 300.9h.7M481.9 299.1h.7M474.1 298.6h.7M481.6 320.9h.7M481.4 312.0h.7M477.0 303.5h.7M480.7 302.0h.7M469.7 301.2h.7M501.2 301.1h.7M470.9 324.7h.7M484.6 304.8h.7M469.1 298.2h.7M479.2 299.6h.7M473.2 307.9h.7M470.8 312.8h.7M480.9 296.7h.7M468.9 304.7h.7M483.8 286.2h.7M494.0 298.8h.7M469.1 313.6h.7M472.8 292.0h.7M469.9 291.5h.7M478.7 290.0h.7M482.9 290.5h.7M480.0 278.0h.7M476.5 300.1h.7M485.6 297.2h.7M481.6 304.3h.7M473.9 306.4h.7M483.0 295.3h.7M471.2 313.7h.7M489.2 302.8h.7M489.2 315.7h.7M479.7 306.7h.7M485.2 305.9h.7M479.8 296.2h.7M486.7 303.1h.7M493.5 305.6h.7M481.5 288.3h.7M479.9 303.8h.7M479.7 293.6h.7M458.4 291.7h.7M481.8 317.2h.7M471.9 306.1h.7M470.7 310.4h.7M479.0 300.9h.7M483.5 294.2h.7M475.6 310.9h.7M469.8 291.4h.7M486.8 308.2h.7M474.5 293.0h.7M481.6 319.9h.7M492.2 297.8h.7M476.5 299.9h.7M467.1 303.6h.7M477.5 311.5h.7M474.5 304.1h.7M476.0 295.3h.7M494.5 291.7h.7M479.9 304.8h.7M495.5 304.0h.7M477.4 303.7h.7M494.3 306.6h.7M485.9 323.9h.7M474.0 312.7h.7M474.3 313.8h.7M485.0 307.6h.7M483.1 303.8h.7M458.2 288.7h.7M497.4 302.1h.7M479.9 307.2h.7M488.3 303.1h.7M489.0 307.5h.7M476.3 302.8h.7M488.9 291.9h.7M481.3 293.4h.7M478.8 285.3h.7M481.8 294.6h.7M489.4 297.6h.7M496.8 312.7h.7M475.2 322.2h.7M481.8 305.1h.7M470.9 300.1h.7M475.7 287.9h.7M472.3 314.7h.7M476.5 300.6h.7M474.6 296.3h.7M476.5 299.5h.7M480.9 309.4h.7M480.1 299.2h.7M474.0 306.5h.7M483.9 297.4h.7M466.5 299.4h.7M464.2 315.5h.7M480.8 313.5h.7M478.8 309.2h.7M493.5 309.0h.7M472.4 284.7h.7M476.0 302.2h.7M471.0 280.5h.7M475.1 298.3h.7M465.5 298.3h.7M485.7 287.8h.7M480.9 298.5h.7M481.8 302.4h.7M472.2 304.9h.7M495.7 303.3h.7M468.6 296.2h.7M494.3 297.4h.7M480.8 286.2h.7M467.5 298.4h.7M482.4 292.5h.7M482.5 295.6h.7M463.4 296.4h.7M484.3 322.9h.7M468.1 302.9h.7M482.5 304.0h.7M480.9 315.3h.7M489.0 292.7h.7M473.3 299.8h.7M468.3 301.1h.7M485.9 294.0h.7M477.6 292.6h.7M480.9 304.7h.7M471.9 309.3h.7M472.3 300.5h.7M482.1 289.8h.7M477.3 288.7h.7M487.8 298.3h.7M468.2 307.6h.7M476.9 319.1h.7M478.9 306.6h.7M471.2 297.4h.7M478.8 309.1h.7M490.5 301.0h.7M478.9 290.6h.7M474.8 298.5h.7M488.4 318.5h.7M478.2 293.1h.7M472.5 308.7h.7M491.1 307.0h.7M493.2 300.7h.7M477.0 302.3h.7M470.8 297.8h.7M475.6 280.6h.7M490.7 307.3h.7M497.7 299.6h.7M496.7 292.5h.7M497.1 293.5h.7M489.8 286.8h.7M499.8 296.9h.7M496.6 300.3h.7M492.0 309.3h.7M484.2 306.0h.7M488.7 290.8h.7M496.5 299.7h.7M497.7 302.9h.7M488.8 295.4h.7M490.8 294.9h.7M495.9 295.4h.7M498.2 297.7h.7M490.4 294.8h.7M503.3 279.5h.7M495.3 313.9h.7M497.0 321.4h.7M499.0 284.0h.7M491.6 291.4h.7M489.7 299.4h.7M496.5 310.9h.7M490.7 293.0h.7M492.7 302.5h.7M488.4 311.5h.7M498.0 292.9h.7M497.8 289.7h.7M488.2 284.4h.7M492.6 320.4h.7M484.1 294.5h.7M485.0 302.5h.7M496.5 285.8h.7M494.8 322.6h.7M489.1 301.2h.7M493.8 280.2h.7M485.7 306.9h.7M490.5 309.4h.7M485.2 299.7h.7M486.4 289.0h.7M494.3 319.9h.7M485.6 305.6h.7M494.0 316.0h.7M486.9 284.8h.7M493.2 293.0h.7M483.7 297.8h.7M490.4 303.2h.7M489.4 278.8h.7M478.8 306.3h.7M497.9 306.9h.7M484.8 311.7h.7M485.4 315.7h.7M492.3 310.8h.7M486.1 308.2h.7M479.6 315.4h.7M484.0 301.0h.7M495.7 312.0h.7M491.6 285.1h.7M498.1 298.2h.7M483.3 318.3h.7M505.5 298.4h.7M497.2 313.1h.7M493.4 309.5h.7M492.9 280.1h.7M487.0 296.9h.7M486.3 303.0h.7M490.6 309.6h.7M503.1 294.2h.7M495.2 321.8h.7M490.9 284.5h.7M490.8 315.7h.7M494.4 286.5h.7M492.7 300.7h.7M488.4 311.4h.7M477.2 318.6h.7M501.2 298.1h.7M485.8 286.4h.7M493.2 296.0h.7M480.0 279.7h.7M494.0 312.5h.7M483.7 318.1h.7M488.1 303.6h.7M485.4 313.5h.7M489.8 301.5h.7M492.8 294.0h.7M498.5 305.6h.7M487.4 289.0h.7M491.9 303.4h.7M489.9 289.3h.7M498.0 303.2h.7M496.4 308.5h.7M490.0 294.6h.7M483.7 311.9h.7M489.8 317.3h.7M499.1 308.1h.7M491.5 313.9h.7M500.5 301.5h.7M494.9 320.2h.7M485.8 309.9h.7M490.4 308.9h.7M496.4 301.3h.7M493.7 321.3h.7M495.5 309.2h.7M492.1 304.1h.7M497.3 300.9h.7M489.2 297.1h.7M489.7 305.1h.7M491.4 301.1h.7M504.0 291.8h.7M492.4 310.8h.7M491.5 304.4h.7M484.4 304.3h.7M495.7 293.7h.7M493.7 312.6h.7M491.8 304.6h.7M483.1 315.7h.7M503.9 316.7h.7M500.5 272.6h.7M487.1 296.9h.7M491.4 296.0h.7M480.7 299.3h.7M481.9 297.9h.7M495.7 322.0h.7M493.9 310.2h.7M480.8 288.6h.7M494.2 308.3h.7M491.6 294.0h.7M488.3 306.5h.7M500.7 301.0h.7M478.2 326.6h.7M494.6 295.8h.7M498.8 310.1h.7M488.2 295.7h.7M495.5 302.7h.7M498.6 295.3h.7M486.8 287.4h.7M489.6 324.7h.7M478.6 306.6h.7M484.6 291.5h.7M501.8 279.8h.7M488.1 276.4h.7M486.9 307.2h.7M490.7 312.8h.7M494.9 296.2h.7M491.1 307.0h.7M488.6 277.1h.7M488.2 305.1h.7M491.9 280.9h.7M485.8 309.1h.7M486.2 311.9h.7M484.3 281.0h.7M483.9 326.6h.7M486.4 294.3h.7M493.3 295.4h.7M479.4 295.1h.7M496.5 283.4h.7M483.2 299.3h.7M491.8 294.1h.7M500.6 297.9h.7M483.6 303.3h.7M491.9 301.6h.7M489.3 324.5h.7M499.1 307.2h.7M489.8 310.1h.7M495.3 305.0h.7M485.7 314.1h.7M493.9 288.5h.7M494.8 313.2h.7M494.6 298.6h.7M489.7 294.8h.7M488.8 315.2h.7M494.4 290.3h.7M493.6 315.6h.7M499.4 308.0h.7M486.4 298.7h.7M487.4 294.8h.7M483.7 303.0h.7M492.1 295.4h.7M501.4 297.4h.7M495.6 324.6h.7M489.8 323.4h.7M493.5 323.5h.7M495.6 291.6h.7M487.0 285.5h.7M487.7 294.7h.7M492.5 278.6h.7M480.4 297.3h.7M487.1 311.4h.7M489.0 293.5h.7M493.4 283.2h.7M492.5 312.9h.7M495.9 293.2h.7M500.7 306.7h.7M493.5 313.5h.7M498.7 291.5h.7M491.0 300.2h.7M491.0 307.6h.7M494.8 301.3h.7M495.6 316.9h.7M492.7 285.1h.7M479.7 297.6h.7M489.8 300.4h.7M491.3 301.1h.7M498.2 301.6h.7M488.2 296.4h.7M494.4 294.3h.7M489.3 300.5h.7M486.1 283.4h.7M483.5 289.0h.7M484.7 296.3h.7M492.7 296.1h.7M483.3 314.6h.7M490.2 278.1h.7M489.9 285.9h.7M488.4 296.2h.7M492.5 282.1h.7M491.6 312.8h.7M482.8 309.6h.7M493.5 304.8h.7M499.3 293.5h.7M488.2 305.8h.7M494.2 302.4h.7M492.8 299.2h.7M493.0 296.6h.7M492.3 294.7h.7M488.3 284.1h.7M486.9 301.3h.7M486.9 302.4h.7M497.0 300.0h.7M486.7 297.9h.7M480.2 311.6h.7M498.9 288.8h.7M506.9 291.4h.7M495.5 303.0h.7M499.8 313.6h.7M497.0 317.6h.7M492.3 309.1h.7M485.8 323.0h.7M491.0 309.3h.7M491.9 293.9h.7M485.5 296.2h.7M489.3 289.8h.7M491.4 307.9h.7M493.1 295.6h.7M490.8 316.6h.7M495.9 298.8h.7M488.8 311.2h.7M479.2 308.8h.7M484.9 295.7h.7M489.0 311.4h.7M481.5 308.1h.7M499.3 290.6h.7M493.6 327.3h.7M489.4 311.4h.7M488.5 303.1h.7M477.7 299.5h.7M501.6 321.7h.7M487.5 306.7h.7M488.6 300.9h.7M486.3 318.3h.7M488.3 319.4h.7M489.1 320.2h.7M489.6 288.0h.7M487.2 304.1h.7M496.2 310.2h.7M485.1 319.8h.7M492.8 305.3h.7M487.5 314.2h.7M490.4 286.7h.7M490.9 306.7h.7M489.6 297.5h.7M492.7 287.2h.7M495.8 295.4h.7M483.4 306.1h.7M499.4 315.5h.7M484.0 292.8h.7M495.1 305.9h.7M493.9 310.1h.7M481.6 319.2h.7M484.1 305.0h.7M486.0 307.6h.7M498.5 309.2h.7M487.3 302.8h.7M491.0 300.0h.7M496.1 293.0h.7M494.3 291.1h.7M495.2 311.5h.7M492.4 315.8h.7M499.4 303.2h.7M493.0 288.6h.7M486.1 315.6h.7M479.7 320.0h.7M495.8 295.6h.7M492.4 294.4h.7M498.4 295.1h.7M498.9 302.3h.7M485.2 313.1h.7M494.8 308.9h.7M497.6 296.9h.7M482.8 301.4h.7M493.2 306.2h.7M486.8 308.0h.7M484.2 304.9h.7M494.9 306.7h.7M494.6 285.4h.7M489.8 299.6h.7M489.7 298.1h.7M492.1 310.3h.7M496.1 301.5h.7M490.1 306.8h.7M482.6 311.7h.7M487.8 311.8h.7M493.4 306.5h.7M499.0 315.5h.7M494.6 292.1h.7M486.1 297.3h.7M489.5 294.9h.7M485.8 316.6h.7M481.0 331.6h.7M491.0 302.2h.7M480.0 304.2h.7M493.6 312.9h.7M480.4 294.2h.7M499.7 303.8h.7M498.5 310.7h.7M498.2 296.3h.7M495.4 303.5h.7M479.4 306.3h.7M487.2 305.6h.7M490.8 284.3h.7M498.6 300.6h.7M492.3 279.7h.7M491.5 305.1h.7M494.3 288.3h.7M498.2 286.7h.7M494.2 308.3h.7M495.1 290.9h.7M493.7 278.9h.7M495.2 303.0h.7M494.5 305.7h.7M481.7 318.0h.7M492.3 314.7h.7M478.8 314.4h.7M488.5 292.0h.7M494.7 306.8h.7M503.2 326.2h.7M490.0 308.8h.7M494.1 303.4h.7M485.7 294.9h.7M483.4 293.5h.7M493.7 316.1h.7M478.1 286.3h.7M487.7 306.1h.7M492.3 319.3h.7M492.6 293.5h.7M496.8 279.5h.7M489.2 305.5h.7M494.7 298.4h.7M496.5 301.6h.7M485.0 302.2h.7M495.6 306.8h.7M496.4 308.9h.7M496.7 312.1h.7M479.0 296.3h.7M494.2 288.4h.7M492.5 291.5h.7M493.9 288.0h.7M496.4 282.6h.7M485.3 281.4h.7M503.7 304.4h.7M484.5 303.3h.7M491.5 311.8h.7M486.1 298.6h.7M496.0 302.7h.7M500.2 331.3h.7M498.4 311.7h.7M492.7 261.1h.7M490.1 284.5h.7M482.4 286.3h.7M494.6 291.3h.7M498.0 299.1h.7M487.1 307.1h.7M486.0 292.4h.7M488.7 313.7h.7M481.3 313.2h.7M492.5 305.2h.7M484.1 301.8h.7M496.9 304.5h.7M493.5 307.4h.7M491.2 300.1h.7M492.7 314.5h.7M495.2 284.9h.7M484.5 301.0h.7M493.5 289.4h.7M492.3 290.6h.7M499.8 319.6h.7M492.6 316.1h.7M488.1 290.7h.7M489.7 305.1h.7M488.9 303.9h.7M485.2 299.3h.7M495.7 306.7h.7M486.9 305.2h.7M495.4 299.4h.7M492.3 303.6h.7M496.4 306.8h.7M496.9 304.3h.7M494.8 298.3h.7M489.0 289.2h.7M493.7 312.7h.7M496.9 303.5h.7M493.2 305.5h.7M485.9 305.0h.7M492.3 308.1h.7M488.1 329.8h.7M495.6 300.1h.7M497.2 304.2h.7M494.1 296.9h.7M496.7 301.5h.7M490.7 306.6h.7M489.6 315.5h.7M489.7 312.7h.7M489.9 289.5h.7M493.1 304.5h.7M493.2 297.0h.7M484.4 312.6h.7M497.6 300.2h.7M490.9 287.0h.7M492.9 290.4h.7M492.4 315.6h.7M488.7 297.7h.7M485.9 295.6h.7M486.4 310.9h.7M487.5 310.0h.7M495.8 301.3h.7M490.5 302.4h.7M488.4 321.5h.7M482.7 301.8h.7M498.2 293.5h.7M501.4 295.3h.7M493.1 317.1h.7M498.8 304.4h.7M498.2 292.0h.7M496.4 292.8h.7M491.6 294.3h.7M490.5 306.8h.7M497.4 316.2h.7M498.5 313.7h.7M489.9 323.3h.7M492.6 301.6h.7M483.8 294.7h.7M489.8 302.8h.7M482.4 302.3h.7M487.8 301.3h.7M489.8 301.5h.7M493.2 311.1h.7M485.7 303.4h.7M490.3 327.9h.7M493.6 306.1h.7M490.9 292.6h.7M497.8 285.9h.7M483.2 301.8h.7M484.3 314.7h.7M498.6 299.5h.7M482.7 320.2h.7M500.2 302.8h.7M494.8 299.9h.7M489.3 298.2h.7M480.5 318.2h.7M494.0 305.9h.7M492.8 307.5h.7M493.2 329.4h.7M485.9 293.9h.7M493.7 287.0h.7M495.9 300.6h.7M479.3 297.5h.7M486.4 325.3h.7M486.6 310.5h.7M488.8 305.5h.7M485.9 316.0h.7M495.1 290.7h.7M497.8 307.5h.7M486.5 289.8h.7M490.9 306.1h.7M486.9 300.8h.7M495.9 282.9h.7M499.5 309.7h.7M485.4 305.7h.7M480.4 307.9h.7M501.9 316.7h.7M496.1 296.5h.7M500.8 299.1h.7M488.2 289.8h.7M489.5 288.1h.7M492.0 294.4h.7M487.2 306.2h.7M499.6 302.3h.7M487.8 297.1h.7M494.4 285.8h.7" stroke="#555" stroke-width=".6" fill="none" opacity=".7" filter="url(#b1)"/>
<path d="M477.8 296.9h.7M480.8 291.9h.7M476.0 294.5h.7M475.5 293.5h.7M486.8 297.6h.7M475.2 290.5h.7M488.2 295.4h.7M481.7 293.4h.7M484.2 297.7h.7M485.6 299.3h.7M485.9 305.2h.7M479.4 293.7h.7M451.9 295.2h.7M489.0 306.2h.7M488.0 310.7h.7M469.4 290.8h.7M487.6 287.5h.7M458.3 290.4h.7M488.3 310.8h.7M486.7 313.4h.7M482.6 303.7h.7M479.5 297.3h.7M486.3 297.1h.7M484.5 297.0h.7M484.0 300.5h.7M444.7 288.5h.7M478.5 291.4h.7M481.5 293.1h.7M484.7 292.8h.7M487.5 308.6h.7M479.1 297.2h.7M465.9 301.8h.7M479.0 288.7h.7M484.1 300.2h.7M472.2 292.8h.7M472.1 290.0h.7M482.4 288.0h.7M474.7 292.1h.7M482.6 293.1h.7M485.5 292.9h.7M482.9 289.8h.7M478.4 295.0h.7M479.2 297.5h.7M481.9 295.9h.7M487.0 292.0h.7M477.8 290.8h.7M483.3 288.9h.7M477.4 300.3h.7M481.2 297.3h.7M487.9 296.9h.7M454.3 289.6h.7M480.1 295.0h.7M474.2 299.7h.7M485.8 304.6h.7M480.7 295.8h.7M487.3 313.5h.7M485.0 288.6h.7M482.7 300.6h.7M488.9 300.3h.7M487.7 319.3h.7M488.5 295.6h.7M475.9 288.1h.7M489.3 303.7h.7M484.6 304.7h.7M485.8 293.1h.7M486.7 292.3h.7M488.4 292.2h.7M488.5 308.0h.7M477.4 296.1h.7M478.8 292.9h.7M489.1 319.8h.7M468.8 290.2h.7M478.9 290.3h.7M486.2 293.6h.7M488.8 308.4h.7M482.8 290.9h.7M472.6 288.1h.7M487.6 293.9h.7M486.4 298.3h.7M476.9 294.3h.7M488.1 294.0h.7M489.2 300.7h.7M469.0 288.8h.7M484.4 290.3h.7M483.3 288.2h.7M477.5 298.6h.7M486.5 295.5h.7M488.2 293.2h.7M470.1 289.7h.7M488.1 304.5h.7M482.6 302.3h.7M475.1 293.9h.7M479.1 301.5h.7M476.9 293.8h.7M476.2 293.9h.7M460.8 287.8h.7M489.3 289.7h.7M485.4 307.5h.7M489.2 296.1h.7M487.9 289.6h.7M486.3 294.7h.7M485.4 290.8h.7M485.8 289.0h.7M485.7 304.0h.7M488.9 302.0h.7M481.1 297.0h.7M488.9 305.2h.7M476.3 298.0h.7M481.5 301.7h.7M470.6 289.9h.7M484.3 292.7h.7M471.6 292.5h.7M480.4 308.7h.7M480.0 302.7h.7M487.9 292.4h.7M480.4 295.2h.7M487.9 294.4h.7M485.8 298.6h.7M486.7 300.1h.7M486.4 298.1h.7M486.7 291.9h.7M489.4 293.2h.7M488.9 288.7h.7M476.4 295.0h.7M475.5 300.0h.7M478.9 292.8h.7M487.7 286.6h.7M477.4 299.9h.7M486.9 297.2h.7M475.6 298.9h.7M488.9 299.0h.7M489.4 311.3h.7M487.5 289.3h.7M476.7 291.8h.7M480.1 290.6h.7M488.1 313.4h.7M471.1 291.6h.7M484.7 296.3h.7M486.5 287.6h.7M488.1 291.3h.7M484.3 292.2h.7M486.5 287.5h.7M485.3 288.2h.7M477.1 293.1h.7M449.7 289.5h.7M454.0 289.7h.7M488.6 305.5h.7M478.4 295.7h.7M488.5 306.1h.7M483.8 316.4h.7M487.0 289.8h.7M470.9 290.5h.7M480.4 288.9h.7M484.1 291.6h.7M482.7 295.2h.7M488.4 295.2h.7M482.4 305.1h.7M479.9 288.5h.7M484.2 298.3h.7M457.5 295.5h.7M489.4 298.1h.7M487.2 316.6h.7M486.1 288.0h.7M488.5 292.1h.7M483.6 298.6h.7M462.4 302.2h.7M475.4 301.6h.7M487.6 306.8h.7M487.1 299.2h.7M482.4 306.1h.7M486.8 295.2h.7M465.0 290.4h.7M488.4 303.9h.7M487.5 294.0h.7M466.5 288.2h.7M473.2 298.6h.7M487.1 291.9h.7M484.5 303.6h.7M482.5 289.2h.7M488.8 296.1h.7M481.3 301.0h.7M478.6 294.4h.7M484.8 312.9h.7M486.4 302.9h.7M475.3 288.0h.7M486.4 297.6h.7M486.9 293.6h.7M482.6 294.5h.7M481.6 299.0h.7M467.6 291.6h.7M488.3 293.6h.7M485.4 294.3h.7M479.7 303.6h.7M488.0 294.7h.7M488.4 306.8h.7M487.0 292.7h.7M474.6 289.8h.7M485.0 295.6h.7M476.4 288.2h.7M486.9 290.3h.7M485.4 294.7h.7M484.4 293.7h.7M482.1 312.6h.7M487.1 304.7h.7M481.2 288.7h.7M485.1 307.1h.7M488.3 317.6h.7M487.3 303.9h.7M489.1 305.1h.7M484.2 291.1h.7M471.5 290.0h.7M488.2 295.9h.7M485.9 296.1h.7M481.6 296.3h.7M473.4 296.1h.7M486.2 288.2h.7M467.5 290.7h.7M486.6 287.8h.7M488.7 314.4h.7M488.4 292.7h.7M488.0 294.1h.7M485.3 288.7h.7M485.3 303.5h.7M485.4 307.2h.7M479.6 290.3h.7M468.6 289.6h.7M479.4 292.6h.7M485.3 300.0h.7M474.1 299.5h.7M481.4 303.9h.7M488.4 302.8h.7M478.9 287.2h.7M489.0 287.8h.7M486.0 290.5h.7M473.4 295.4h.7M471.5 288.9h.7M487.7 325.7h.7M468.0 293.9h.7M477.2 287.6h.7M486.0 309.9h.7M488.2 290.8h.7M485.3 298.6h.7M461.1 293.2h.7M481.9 288.9h.7M482.5 289.6h.7M466.2 294.3h.7M482.3 299.8h.7M486.3 299.7h.7M478.7 289.8h.7M468.4 290.9h.7M487.1 294.5h.7M483.5 291.0h.7M487.3 292.5h.7M479.9 294.8h.7M489.2 292.4h.7M481.3 291.5h.7M480.5 289.3h.7M483.6 292.9h.7M488.3 298.3h.7M487.8 296.8h.7M474.8 294.1h.7M479.4 295.3h.7M486.7 296.1h.7M482.4 296.7h.7M489.1 301.0h.7M479.3 290.8h.7M487.7 298.7h.7M460.7 289.2h.7M488.7 331.8h.7M479.9 289.1h.7M488.2 296.8h.7M488.8 290.1h.7M483.9 291.8h.7M476.3 293.9h.7M479.1 300.8h.7M474.0 299.6h.7M482.8 291.0h.7M478.4 297.8h.7M483.1 303.2h.7M484.4 327.0h.7M480.3 287.1h.7M488.9 309.5h.7M488.3 300.1h.7M487.6 293.6h.7M488.9 296.1h.7M483.4 321.7h.7M487.1 296.5h.7M483.8 293.2h.7M478.2 295.2h.7M482.5 291.2h.7M481.9 296.4h.7M488.8 308.4h.7M477.9 291.2h.7M487.0 293.0h.7M479.8 310.7h.7M487.8 298.3h.7M481.0 303.7h.7M489.2 305.5h.7M468.2 287.0h.7M478.4 290.6h.7M474.5 287.7h.7M485.9 300.1h.7M483.0 304.9h.7M488.8 302.6h.7M468.3 289.8h.7M483.8 294.8h.7M482.1 292.8h.7M488.2 290.5h.7M478.4 303.0h.7M483.9 304.2h.7M478.1 294.7h.7M480.2 287.5h.7M472.1 293.3h.7M478.9 290.7h.7M489.2 300.6h.7M478.7 296.2h.7M477.4 288.2h.7M487.4 308.0h.7M471.9 297.6h.7M486.6 292.7h.7M450.8 289.2h.7M484.1 292.6h.7M487.0 294.5h.7M486.5 301.9h.7M482.5 293.4h.7M488.8 303.6h.7M488.6 305.3h.7M489.1 304.8h.7M485.7 296.9h.7M479.1 305.4h.7M487.9 294.1h.7M486.9 308.9h.7M485.3 302.3h.7M488.9 295.4h.7M473.6 297.0h.7M482.8 288.9h.7M474.3 287.7h.7M484.0 301.6h.7M457.0 295.7h.7M475.2 292.2h.7M486.7 290.8h.7M482.5 301.3h.7M484.8 297.1h.7M487.0 326.3h.7M486.8 292.7h.7M487.0 297.0h.7M484.1 290.5h.7M488.6 303.5h.7M486.9 323.7h.7M466.0 289.5h.7M479.1 289.5h.7M471.5 294.5h.7M488.7 299.2h.7M476.5 290.4h.7M484.7 293.7h.7M489.1 302.8h.7M487.6 288.9h.7M488.9 316.5h.7M472.3 290.8h.7M483.5 300.6h.7M473.9 294.2h.7M488.0 287.1h.7M485.1 301.7h.7M472.0 291.4h.7M472.5 290.3h.7M485.3 298.7h.7M484.8 291.1h.7M472.7 312.6h.7M486.5 295.7h.7M476.6 296.7h.7M489.0 302.4h.7M485.7 290.5h.7M476.4 289.2h.7M469.5 291.6h.7M469.9 288.1h.7M480.6 295.2h.7M478.0 290.4h.7M479.0 292.1h.7M486.6 294.3h.7M489.2 295.2h.7M472.2 289.4h.7M455.9 294.7h.7M478.1 289.4h.7M480.1 292.2h.7M489.1 291.2h.7M454.9 293.9h.7M480.6 293.8h.7M480.3 289.1h.7M484.0 293.9h.7M479.7 306.4h.7M485.8 297.6h.7M469.2 287.4h.7M475.1 302.4h.7M462.7 288.0h.7M486.0 303.4h.7M486.9 306.2h.7M489.1 296.8h.7M478.3 296.5h.7M488.5 298.2h.7M480.5 314.5h.7M482.1 294.0h.7M485.0 318.2h.7M480.8 293.9h.7M479.1 289.8h.7M483.0 290.5h.7M485.7 310.1h.7M482.7 288.3h.7M486.8 297.8h.7M489.3 296.9h.7M488.8 293.3h.7M472.3 299.4h.7M468.5 292.3h.7M488.3 303.4h.7M485.4 287.9h.7M488.5 298.5h.7M480.4 293.1h.7M488.6 303.5h.7M479.2 301.9h.7M477.6 295.4h.7M485.6 289.7h.7M488.4 296.4h.7M470.7 298.7h.7M487.8 288.9h.7M485.0 301.7h.7M479.2 292.4h.7M465.5 289.8h.7M441.3 288.0h.7M488.8 290.8h.7M450.1 286.7h.7M485.8 300.7h.7M488.3 294.6h.7M478.9 290.5h.7M485.6 287.5h.7M485.9 290.9h.7M477.9 292.4h.7M481.9 302.6h.7M480.4 296.4h.7M486.4 301.7h.7M487.5 291.5h.7M486.9 288.8h.7M483.7 289.4h.7M480.8 307.4h.7M488.9 296.2h.7M486.7 303.0h.7M485.9 320.1h.7M475.6 295.6h.7M464.8 288.4h.7M485.3 301.7h.7M483.8 291.5h.7M478.3 295.3h.7M479.4 292.7h.7M488.0 287.9h.7M488.2 319.6h.7M484.7 288.9h.7M489.2 303.4h.7M481.4 289.1h.7M485.0 292.1h.7M489.1 290.4h.7M482.4 296.6h.7M487.5 291.7h.7M483.3 288.9h.7M485.6 313.5h.7M484.2 309.1h.7M488.9 303.5h.7M474.9 287.3h.7M484.9 294.1h.7M483.2 292.3h.7M479.4 297.6h.7M487.6 298.6h.7M481.6 296.9h.7M485.2 288.4h.7M482.2 291.7h.7M487.8 296.7h.7M484.1 293.1h.7M484.4 291.2h.7M488.1 304.3h.7M482.9 306.0h.7M485.9 306.4h.7M477.5 293.7h.7M483.6 295.3h.7M478.6 294.4h.7M466.7 289.9h.7M479.2 315.2h.7M485.7 292.7h.7M475.9 292.9h.7M487.1 289.3h.7M487.0 300.4h.7M483.7 301.1h.7M474.4 288.9h.7M478.8 312.1h.7M487.8 296.8h.7M478.3 309.1h.7M468.6 294.1h.7M485.0 304.7h.7M471.3 290.2h.7M486.1 298.8h.7M487.1 297.5h.7M480.2 298.2h.7M488.5 297.6h.7M474.2 296.3h.7M487.1 290.7h.7M486.9 304.6h.7M472.3 293.0h.7M480.8 293.0h.7M481.1 295.0h.7M487.4 292.3h.7M476.4 296.2h.7M482.0 287.5h.7M445.2 289.7h.7M488.0 303.6h.7M489.0 299.1h.7M480.1 291.1h.7M473.7 289.3h.7M482.9 296.0h.7M462.9 299.6h.7M478.2 298.1h.7M485.0 307.5h.7M486.3 290.4h.7M478.9 300.4h.7M488.8 290.5h.7M475.5 288.4h.7M489.4 297.4h.7M485.3 293.3h.7M483.9 299.1h.7M487.8 302.0h.7M488.4 295.2h.7M488.7 298.7h.7M486.1 287.9h.7M483.7 291.6h.7M457.2 288.6h.7M489.0 301.9h.7M485.8 296.2h.7M468.4 288.6h.7M458.7 295.0h.7M459.0 288.9h.7M485.4 302.5h.7M484.4 298.9h.7M485.1 289.5h.7M486.7 306.7h.7M480.0 300.0h.7M476.7 290.2h.7M487.0 305.5h.7M476.6 294.7h.7M487.4 290.9h.7M464.4 297.8h.7M488.6 292.9h.7M477.4 301.0h.7M469.5 291.7h.7M486.5 292.8h.7M475.1 297.4h.7M475.3 289.8h.7M485.7 293.3h.7M475.6 299.4h.7M489.2 299.5h.7M472.5 318.5h.7M480.8 290.3h.7M484.2 287.0h.7M486.5 288.7h.7M475.3 296.9h.7M484.5 298.2h.7M470.5 288.6h.7M489.1 292.5h.7M488.5 295.6h.7M486.4 290.0h.7M487.5 295.7h.7M488.8 307.2h.7M485.3 291.8h.7M482.3 291.1h.7M478.0 287.1h.7M488.6 291.9h.7M481.8 296.7h.7M479.7 295.6h.7M487.5 298.0h.7M472.5 290.7h.7M487.0 292.2h.7M454.2 291.0h.7M477.5 288.7h.7M487.1 302.8h.7M484.8 287.6h.7M482.8 296.9h.7M480.4 296.8h.7M483.0 292.2h.7M484.6 289.0h.7M475.7 293.0h.7M487.5 297.8h.7M483.8 304.2h.7M484.4 287.9h.7M469.2 296.5h.7M451.9 302.2h.7M485.2 301.1h.7M487.5 297.6h.7M488.3 287.2h.7M488.6 295.3h.7M485.4 306.1h.7M483.8 288.5h.7M461.1 292.7h.7M484.6 296.5h.7M488.6 290.1h.7M473.7 291.9h.7M488.6 299.1h.7M487.0 326.6h.7M487.0 296.4h.7M486.2 287.7h.7M486.2 303.6h.7M483.9 290.2h.7M480.6 290.2h.7M486.7 314.9h.7M476.4 288.3h.7M486.6 293.8h.7M469.9 288.7h.7M488.8 286.5h.7M486.3 303.4h.7M487.1 297.9h.7M483.4 299.4h.7M489.3 292.3h.7M477.3 289.1h.7M479.8 292.6h.7M486.8 290.7h.7M483.5 298.4h.7M484.5 293.5h.7M488.6 296.7h.7M474.8 288.1h.7M484.2 287.7h.7M484.0 310.5h.7M480.9 291.2h.7M484.1 289.4h.7M489.2 290.7h.7M459.7 294.6h.7M481.3 308.3h.7M489.2 304.3h.7M474.0 300.1h.7M480.2 302.1h.7M487.2 296.5h.7M488.5 301.1h.7M477.2 289.3h.7M480.9 307.8h.7M480.7 288.2h.7M488.2 304.7h.7M487.9 289.9h.7M484.8 290.0h.7M478.9 287.0h.7M478.8 310.1h.7M484.6 296.9h.7M488.2 294.2h.7M481.8 291.9h.7M487.0 288.1h.7M476.0 288.6h.7M485.0 307.4h.7M477.4 292.1h.7M485.2 291.8h.7M486.4 293.5h.7M483.2 296.3h.7M489.4 304.1h.7M460.4 293.2h.7M488.2 305.6h.7M486.1 303.8h.7M488.6 296.5h.7M462.9 289.9h.7M485.6 308.6h.7M467.9 290.2h.7M455.8 288.4h.7M483.3 308.6h.7M489.1 310.5h.7M479.3 289.0h.7M487.8 293.9h.7M483.9 293.9h.7M485.4 310.3h.7M486.7 290.1h.7M480.8 295.7h.7M477.3 295.5h.7M467.2 290.5h.7M476.0 288.3h.7M482.7 288.4h.7M477.2 297.9h.7M462.6 297.0h.7M484.4 305.3h.7M464.5 302.7h.7M487.4 293.6h.7M479.8 302.2h.7M488.4 306.2h.7M474.1 288.4h.7M489.3 320.9h.7M483.0 294.8h.7M486.3 308.7h.7M484.6 297.5h.7M483.2 295.9h.7M485.5 295.9h.7M466.1 290.8h.7M485.7 291.9h.7M480.8 310.1h.7M487.5 289.8h.7M488.0 315.6h.7M486.1 295.9h.7M467.6 290.0h.7M486.0 301.4h.7M471.9 287.5h.7M485.7 289.7h.7M479.8 289.1h.7M485.7 307.1h.7M488.4 307.4h.7M487.3 321.8h.7M468.8 292.8h.7M469.6 294.1h.7M482.1 297.4h.7M487.7 296.0h.7M487.2 324.1h.7M488.0 300.3h.7M482.3 318.9h.7M486.4 293.0h.7M484.7 302.6h.7M466.7 291.0h.7M484.9 292.5h.7M489.2 290.6h.7M480.8 299.2h.7M487.3 293.0h.7M486.0 295.5h.7M484.7 287.8h.7M481.8 292.9h.7M484.7 287.5h.7M461.4 290.1h.7M463.4 287.1h.7M479.9 288.1h.7M471.2 288.5h.7M456.1 290.8h.7M480.9 294.5h.7M474.8 290.6h.7M476.0 290.7h.7M476.0 290.6h.7M485.0 287.4h.7M481.6 292.3h.7M485.8 319.0h.7M479.4 291.4h.7M479.4 295.7h.7M472.6 294.4h.7M479.8 290.9h.7M484.4 297.8h.7M482.0 307.2h.7M477.7 292.2h.7M489.4 295.4h.7M488.7 309.4h.7M483.8 297.0h.7M480.5 292.9h.7M476.2 293.9h.7M481.5 298.0h.7M485.6 291.1h.7M481.1 302.8h.7M481.9 290.9h.7M478.5 288.7h.7M488.2 296.2h.7M487.8 304.6h.7M486.7 302.0h.7M489.3 302.3h.7M459.4 288.1h.7M485.7 298.6h.7M486.5 294.9h.7M477.1 303.1h.7M477.3 293.8h.7M465.1 287.1h.7M489.3 292.8h.7M489.0 301.2h.7M486.9 311.2h.7M483.6 303.3h.7M482.8 289.7h.7M488.2 292.3h.7M488.0 303.0h.7M468.8 290.0h.7M467.2 291.1h.7M482.6 293.4h.7M481.8 306.3h.7M488.4 299.7h.7M488.2 305.0h.7M487.6 294.7h.7M483.2 290.3h.7M486.0 308.2h.7M476.3 293.1h.7M478.4 298.3h.7M485.4 287.0h.7M458.8 296.9h.7M478.2 292.2h.7M485.7 290.5h.7M477.3 297.5h.7M468.6 295.0h.7M488.4 292.1h.7M488.8 301.2h.7M469.9 292.7h.7M489.2 289.3h.7M488.7 297.3h.7M485.8 288.1h.7M486.9 302.4h.7M486.0 310.5h.7M482.6 296.1h.7M476.2 294.9h.7M481.6 291.2h.7M487.6 293.0h.7M483.4 302.7h.7M483.2 303.2h.7M480.1 300.8h.7M479.6 296.1h.7M486.9 299.0h.7M483.2 311.4h.7M494.0 288.0h.7M502.5 293.6h.7M495.1 309.0h.7M493.5 300.1h.7M504.6 322.5h.7M484.5 294.9h.7M500.7 286.5h.7M489.8 305.9h.7M493.1 306.8h.7M499.5 305.1h.7M500.6 294.7h.7M502.4 305.3h.7M500.5 299.5h.7M487.4 292.3h.7M507.6 306.9h.7M494.6 298.5h.7M489.7 314.7h.7M500.9 291.6h.7M496.7 303.1h.7M487.3 311.6h.7M489.1 313.7h.7M493.4 285.3h.7M504.0 308.0h.7M485.3 313.9h.7M486.6 319.2h.7M490.4 304.9h.7M495.4 306.8h.7M499.5 285.0h.7M491.7 297.3h.7M494.4 287.0h.7M498.2 301.4h.7M487.9 308.4h.7M494.2 305.1h.7M487.3 314.7h.7M485.3 289.3h.7M500.7 295.1h.7M493.4 305.0h.7M499.6 302.2h.7M507.6 294.5h.7M498.5 303.9h.7M497.9 318.4h.7M491.6 302.3h.7M498.1 308.0h.7M487.2 297.1h.7M508.8 321.5h.7M487.4 300.8h.7M496.7 309.7h.7M497.1 302.6h.7M493.0 302.8h.7M482.7 296.6h.7M483.9 278.3h.7M489.7 295.6h.7M498.0 305.3h.7M502.5 290.6h.7M497.5 290.0h.7M487.4 298.0h.7M502.2 309.1h.7M503.4 305.2h.7M487.6 291.1h.7M503.0 300.1h.7M509.5 301.5h.7M493.3 311.0h.7M495.9 304.7h.7M489.0 306.2h.7M490.5 279.9h.7M501.9 292.8h.7M482.8 307.9h.7M493.5 305.3h.7M496.1 309.2h.7M495.1 310.0h.7M496.2 315.0h.7M489.9 307.1h.7M496.5 323.6h.7M499.3 290.1h.7M490.9 309.2h.7M483.3 315.6h.7M493.4 287.5h.7M491.0 290.3h.7M503.1 305.6h.7M495.7 289.2h.7M487.8 309.7h.7M497.0 316.3h.7M488.8 308.1h.7M500.3 289.3h.7M503.3 295.1h.7M495.3 312.5h.7M501.8 304.2h.7M490.2 304.7h.7M502.4 299.2h.7M493.3 319.4h.7M498.5 293.1h.7M498.0 286.7h.7M494.1 296.9h.7M495.7 308.1h.7M492.4 288.7h.7M488.5 306.7h.7M495.2 298.2h.7M496.0 302.7h.7M494.9 310.4h.7M485.1 320.6h.7M486.2 304.9h.7M494.0 314.3h.7M494.9 297.0h.7M494.3 310.1h.7M502.0 311.1h.7M487.6 295.2h.7M498.9 307.5h.7M494.1 300.6h.7M495.7 309.2h.7M498.2 304.7h.7M496.9 294.1h.7M492.9 284.1h.7M505.3 321.5h.7M501.8 291.8h.7M492.2 308.8h.7M485.6 309.8h.7M498.7 300.3h.7M503.4 307.4h.7M496.1 291.2h.7M491.8 302.5h.7M492.5 294.9h.7M499.5 298.7h.7M509.4 302.3h.7M490.9 299.4h.7M487.3 302.9h.7M493.2 329.4h.7M500.0 301.6h.7M502.5 314.7h.7M492.6 299.2h.7M487.3 301.7h.7M499.1 307.8h.7M492.7 303.3h.7M487.8 316.3h.7M507.4 311.7h.7M508.3 307.2h.7M493.5 290.9h.7M500.4 304.6h.7M490.3 291.9h.7M500.3 300.1h.7M484.8 303.1h.7M491.7 301.7h.7M501.0 302.6h.7M496.1 296.3h.7M493.6 314.8h.7M504.0 313.1h.7M498.3 322.6h.7M499.9 304.5h.7M487.8 304.8h.7M495.6 304.3h.7M487.5 317.4h.7M502.2 300.8h.7M501.4 302.5h.7M496.3 302.1h.7M486.9 299.1h.7M513.0 298.0h.7M506.2 322.3h.7M507.1 301.3h.7M505.1 299.7h.7M500.6 297.0h.7M494.8 298.9h.7M506.2 302.4h.7M492.9 304.2h.7M494.9 300.5h.7M513.9 286.2h.7M497.8 292.7h.7M498.0 306.2h.7M487.9 289.3h.7M508.0 322.9h.7M493.1 317.6h.7M505.1 313.8h.7M498.0 325.0h.7M499.0 301.1h.7M497.5 313.2h.7M498.4 292.2h.7M496.1 304.2h.7M505.6 287.5h.7M497.6 291.5h.7M490.8 305.5h.7M497.0 314.4h.7M490.4 295.5h.7M495.1 291.7h.7M501.2 312.0h.7M490.0 293.4h.7M488.8 306.3h.7M490.3 291.9h.7M504.9 322.8h.7M496.3 297.5h.7M490.9 316.7h.7M505.1 318.8h.7M488.4 288.0h.7M496.8 306.4h.7M487.3 291.8h.7M507.8 307.6h.7M497.6 295.3h.7M497.7 323.8h.7M495.0 310.5h.7M496.5 301.7h.7M497.2 294.7h.7M497.5 311.6h.7M506.9 296.2h.7M499.1 288.5h.7M495.2 299.5h.7M501.3 315.6h.7M490.7 315.9h.7M500.0 314.4h.7M500.7 310.1h.7M484.8 299.6h.7M485.6 301.2h.7M489.3 316.8h.7M492.3 309.6h.7M480.0 320.4h.7M504.2 303.0h.7M507.4 300.4h.7M501.9 304.3h.7M497.6 314.1h.7M494.1 319.8h.7M485.7 313.6h.7M498.1 311.3h.7M496.5 283.6h.7M496.7 292.6h.7M496.3 312.8h.7M502.8 325.4h.7M500.2 312.8h.7M495.6 303.4h.7M490.4 314.7h.7M490.2 283.5h.7M494.6 299.4h.7M490.2 309.9h.7M488.4 297.6h.7M494.1 310.2h.7M494.4 308.4h.7M496.4 304.9h.7M507.0 299.6h.7M500.4 302.2h.7M495.7 317.1h.7M493.6 312.5h.7M501.5 294.0h.7M502.6 313.7h.7M490.2 293.4h.7M499.4 301.7h.7M499.2 310.3h.7M490.5 304.1h.7M489.9 294.5h.7M495.6 296.2h.7M481.2 299.2h.7M495.2 304.2h.7M499.8 308.7h.7M504.2 294.8h.7M496.4 298.6h.7M494.4 289.3h.7M499.1 299.1h.7M497.2 303.9h.7M493.6 314.0h.7M485.0 321.7h.7M497.6 306.7h.7M506.1 303.1h.7M490.4 304.4h.7M493.4 301.6h.7M490.1 290.0h.7M509.4 299.6h.7M505.9 315.7h.7M491.9 309.3h.7M502.6 308.8h.7M498.7 299.7h.7M487.9 295.1h.7M495.0 298.8h.7M495.7 316.7h.7M491.0 306.7h.7M490.4 306.6h.7M495.6 292.1h.7M492.3 298.0h.7M491.6 301.2h.7M485.8 295.8h.7M496.5 295.8h.7M500.9 305.5h.7M494.1 295.7h.7M502.4 301.0h.7M505.4 298.9h.7M492.4 309.8h.7M500.3 303.7h.7M491.1 315.8h.7M490.8 313.9h.7M503.2 302.6h.7M501.9 292.3h.7M489.2 297.2h.7M499.7 303.2h.7M486.5 301.8h.7M495.4 296.9h.7M486.4 296.4h.7M501.5 294.5h.7M501.5 304.7h.7M484.5 297.5h.7M498.7 309.0h.7M504.1 292.6h.7M507.8 303.6h.7M480.2 299.4h.7M492.8 311.4h.7M493.7 321.9h.7M499.5 314.3h.7M494.7 298.9h.7M504.6 294.2h.7M494.2 322.0h.7M502.0 315.0h.7M499.5 294.1h.7M497.3 295.2h.7M511.1 287.0h.7M481.9 314.9h.7M496.5 321.8h.7M485.1 300.1h.7M493.8 298.2h.7M496.5 294.0h.7M493.4 313.2h.7M498.4 308.8h.7M496.2 290.8h.7M504.0 301.3h.7M502.2 300.4h.7M497.5 307.6h.7M505.5 309.1h.7M500.0 296.3h.7M497.5 296.7h.7M494.5 312.2h.7M499.0 308.3h.7M495.2 305.9h.7M494.3 312.1h.7M501.1 309.1h.7M499.6 313.5h.7M497.8 302.0h.7M502.2 314.1h.7M496.8 298.7h.7M498.0 300.8h.7M509.8 313.4h.7M487.7 298.8h.7M487.3 297.7h.7M484.7 290.8h.7M492.8 309.8h.7M511.6 293.5h.7M491.7 308.2h.7M497.9 303.4h.7M493.5 298.8h.7M499.8 308.2h.7M501.0 305.0h.7M489.6 299.3h.7M492.1 334.2h.7M489.9 317.9h.7M493.4 295.1h.7M499.7 311.1h.7M492.2 312.0h.7M492.8 294.6h.7M492.2 292.4h.7M490.2 293.2h.7M501.3 291.1h.7M493.1 318.0h.7M492.1 308.5h.7M495.1 302.8h.7M493.6 309.4h.7M499.8 296.9h.7M494.0 298.6h.7M498.0 321.4h.7M496.2 305.2h.7M503.9 297.8h.7M502.6 280.2h.7M492.2 288.0h.7M494.9 296.6h.7M484.3 305.3h.7M499.2 308.1h.7M487.7 303.9h.7M500.2 299.6h.7M494.4 303.5h.7M494.2 298.0h.7M484.1 298.3h.7M501.7 312.1h.7M490.1 296.8h.7M497.5 288.6h.7M481.9 309.4h.7M495.5 291.7h.7M497.4 304.0h.7M485.6 291.3h.7M489.5 289.2h.7M498.5 293.6h.7M497.5 293.5h.7M487.1 300.5h.7M490.5 281.9h.7M491.5 283.2h.7M477.5 285.9h.7M500.6 304.2h.7M505.1 288.9h.7M492.4 305.9h.7M511.8 326.0h.7M494.2 309.2h.7M491.5 312.2h.7M515.6 299.6h.7M489.1 294.5h.7M493.8 293.5h.7M489.6 303.3h.7M502.0 298.1h.7M502.1 305.0h.7M502.7 338.3h.7M500.8 292.2h.7M500.0 295.1h.7M498.2 310.8h.7M501.1 292.2h.7M508.6 301.1h.7M500.6 318.1h.7M497.4 287.4h.7M492.2 303.8h.7M497.5 292.0h.7M494.6 295.5h.7M492.2 311.6h.7M496.8 301.7h.7M489.4 301.5h.7M497.5 310.8h.7M499.3 292.9h.7M493.2 294.5h.7M498.5 300.9h.7M489.6 288.8h.7M501.0 297.7h.7M494.0 305.7h.7M504.0 305.0h.7M501.2 287.5h.7M506.9 289.5h.7M493.1 310.5h.7M484.8 306.1h.7M494.8 301.6h.7M498.2 286.9h.7M487.7 288.1h.7M502.3 304.1h.7M489.3 313.7h.7M492.6 280.4h.7M493.9 295.8h.7M502.4 311.8h.7M486.0 304.2h.7M503.6 305.7h.7M503.7 288.3h.7M502.1 292.0h.7M494.6 298.8h.7M502.7 306.0h.7M484.0 290.2h.7M495.4 314.1h.7M495.3 289.8h.7M477.0 295.8h.7M498.2 301.2h.7M503.4 301.9h.7M490.9 302.7h.7M493.8 280.1h.7M493.7 304.8h.7M492.9 312.2h.7M497.4 288.0h.7M490.3 281.7h.7M496.1 317.9h.7M497.3 297.0h.7M495.9 305.0h.7M496.0 286.6h.7M511.8 307.3h.7M494.5 311.0h.7M504.7 288.8h.7M496.1 306.2h.7M495.2 309.8h.7M493.0 304.1h.7M493.0 309.4h.7M503.8 323.4h.7M490.8 282.0h.7M490.9 301.3h.7M493.9 308.1h.7M496.0 282.4h.7M496.1 307.6h.7M484.5 300.8h.7M507.4 309.1h.7M497.4 290.1h.7M506.4 294.6h.7M491.1 296.1h.7M495.8 286.1h.7M501.0 303.3h.7M492.8 309.3h.7M488.0 284.3h.7M501.9 300.2h.7M495.9 305.4h.7M493.7 315.0h.7M483.7 297.3h.7M491.5 294.2h.7M502.3 302.8h.7M494.4 321.2h.7M495.6 292.4h.7M494.7 300.7h.7M495.4 280.7h.7M507.0 289.7h.7M501.2 319.5h.7M494.8 301.0h.7M496.1 318.9h.7M492.2 307.2h.7M492.6 311.1h.7M497.2 291.2h.7M503.5 291.7h.7M476.1 307.5h.7M494.3 319.1h.7M490.5 304.4h.7M501.0 306.3h.7M499.2 301.3h.7M489.4 309.3h.7M493.8 304.7h.7M492.8 313.5h.7M492.2 289.0h.7M503.8 306.7h.7M499.1 326.6h.7M493.7 300.9h.7M489.4 303.2h.7M491.7 312.3h.7M501.7 291.4h.7M493.1 295.3h.7M486.7 295.5h.7M496.8 322.8h.7M497.8 293.1h.7M495.9 306.6h.7M486.0 289.8h.7M493.0 297.7h.7M500.1 310.7h.7M484.0 297.7h.7M498.6 312.6h.7M496.6 296.1h.7M502.1 315.0h.7M501.2 307.8h.7M493.8 295.2h.7M495.7 275.8h.7M492.5 300.8h.7M491.1 291.1h.7M496.8 287.0h.7M494.4 286.7h.7M485.8 298.5h.7M506.2 306.1h.7M503.4 302.0h.7M495.8 290.6h.7M491.1 302.0h.7M496.5 317.8h.7M501.8 294.9h.7M495.2 295.1h.7M503.5 316.2h.7M494.9 307.5h.7M505.5 306.3h.7M497.5 299.3h.7M489.3 305.3h.7M498.5 298.9h.7M504.1 286.6h.7M504.1 325.0h.7M495.5 315.2h.7M498.6 284.8h.7M487.9 289.9h.7M506.8 315.1h.7M487.5 304.3h.7M488.7 293.9h.7M487.1 283.9h.7M501.1 301.4h.7M504.1 319.9h.7M487.0 298.8h.7M495.4 306.8h.7M495.8 306.7h.7M505.2 294.6h.7M501.0 293.7h.7M494.7 287.6h.7M493.8 298.1h.7M500.4 308.8h.7M500.0 305.8h.7M494.9 297.3h.7M492.2 287.2h.7M494.6 300.9h.7M496.3 296.9h.7M486.3 306.4h.7M505.9 306.4h.7M495.4 305.3h.7M509.1 314.7h.7M490.2 299.9h.7M495.3 284.2h.7M483.7 301.3h.7M502.6 283.0h.7M492.7 298.5h.7M503.4 311.0h.7M493.2 282.6h.7M500.1 297.1h.7M499.0 308.8h.7M499.4 316.3h.7M507.7 282.6h.7M501.5 302.8h.7M495.5 294.7h.7M497.0 305.2h.7M493.5 312.1h.7M501.8 302.6h.7M496.0 301.3h.7M494.5 304.8h.7M488.3 301.5h.7M497.4 281.0h.7M498.6 302.5h.7M495.9 288.2h.7M487.5 307.7h.7M492.1 317.8h.7M487.1 304.8h.7M497.1 318.8h.7M491.3 301.3h.7M498.4 283.6h.7M509.5 316.9h.7M494.5 307.1h.7M490.5 305.3h.7M497.1 299.1h.7M500.6 289.5h.7M491.1 310.3h.7M493.3 302.7h.7M504.7 322.7h.7M488.8 299.2h.7M498.0 312.3h.7M504.2 328.4h.7M500.6 300.6h.7M497.1 311.8h.7M501.2 299.8h.7M489.1 313.1h.7M494.9 299.9h.7M494.4 314.0h.7M494.3 312.4h.7M496.1 302.1h.7M498.6 304.9h.7M491.9 299.5h.7M508.4 308.7h.7M494.6 300.6h.7M497.8 292.6h.7M498.5 310.7h.7M506.9 282.1h.7M496.0 290.0h.7M497.9 336.4h.7M491.4 303.4h.7M497.5 308.3h.7M484.4 305.2h.7M493.7 302.5h.7M485.6 314.6h.7M495.9 303.1h.7M487.8 290.8h.7M491.1 305.7h.7M495.2 305.6h.7M493.1 288.4h.7M489.0 312.4h.7M498.1 293.2h.7M491.8 309.7h.7M493.6 322.3h.7M493.0 303.1h.7M493.1 288.2h.7M490.8 288.0h.7M497.3 295.7h.7M504.6 308.7h.7M496.0 297.0h.7M490.3 305.3h.7M490.4 307.2h.7M487.6 300.2h.7M490.2 293.5h.7M492.7 298.7h.7M505.3 280.0h.7M493.7 307.1h.7M497.4 305.1h.7M494.6 297.7h.7M497.1 299.8h.7M502.6 293.6h.7M498.5 294.4h.7M500.3 292.1h.7M511.0 290.6h.7M489.9 308.7h.7M509.3 299.2h.7M498.9 296.8h.7M499.4 314.4h.7M493.2 302.1h.7M497.3 299.7h.7M490.4 313.7h.7M494.9 304.7h.7M492.6 315.5h.7M499.2 312.8h.7M484.8 316.4h.7M494.6 294.4h.7M503.2 307.1h.7M493.9 295.1h.7M494.7 312.8h.7M490.4 305.3h.7M500.9 297.8h.7M495.6 305.8h.7M511.2 296.5h.7M493.3 286.7h.7M496.9 273.3h.7M495.2 295.3h.7M507.8 304.6h.7M498.3 290.0h.7M493.9 300.2h.7M486.9 298.0h.7M478.4 296.4h.7M491.9 296.1h.7M486.7 308.0h.7M500.7 308.0h.7M502.2 294.0h.7M500.6 311.9h.7M492.9 300.6h.7M489.8 322.9h.7M499.6 299.0h.7M502.6 302.7h.7M500.2 312.5h.7M491.0 319.9h.7M495.5 294.8h.7M493.0 307.7h.7M505.9 315.2h.7M498.1 305.5h.7" stroke="#111" stroke-width=".7" fill="none" opacity=".85" filter="url(#b1)"/>
<path d="M487.4 290.0Q487.4 286.0 491.4 286.0H500.3Q504.3 286.0 504.3 291.0Q504.8 305.2 499.0 320.0Q488.4 302.2 487.4 290.0Z" fill="#000" filter="url(#b2)"/>
<ellipse cx="498" cy="299.2" rx="5.6" ry="11.2" fill="#080808"/>
<ellipse cx="498" cy="299.2" rx="4.2" ry="9.8" fill="#141414" stroke="#e0e0e0" stroke-width=".65"/>
<ellipse cx="498" cy="299.2" rx="2.6" ry="7.0" fill="#1c1c1c" stroke="#999" stroke-width=".4"/>
<ellipse cx="498.2" cy="298.7" rx="1" ry="4.0" fill="#3a3a3a" stroke="#bbb" stroke-width=".4"/>
</g>
<path d="M464.8 284.6H512.4V294.2H505.3M485.4 284.6V295.4H464.8" fill="none" stroke="#111" stroke-width=".8" opacity=".85"/>
<path d="M464.8 284.0h-2M464.8 294.5h-2M464.8 305.0h-2M464.8 315.5h-2M464.8 326.0h-2M469.8 328.3v2.2M480.3 328.3v2.2M490.8 328.3v2.2M501.3 328.3v2.2M511.8 328.3v2.2M466.8 328.3v1.5M469.5 328.3v1.5M472.2 328.3v1.5M474.9 328.3v1.5M477.6 328.3v1.5M480.3 328.3v1.5M483.0 328.3v1.5M485.7 328.3v1.5M488.4 328.3v1.5M491.1 328.3v1.5M493.8 328.3v1.5M496.5 328.3v1.5M499.2 328.3v1.5M501.9 328.3v1.5M504.6 328.3v1.5M507.3 328.3v1.5M510.0 328.3v1.5M512.7 328.3v1.5" stroke="#000" stroke-width=".7"/>
<rect x="464.8" y="280" width="49.7" height="48.3" fill="none" stroke="#000" stroke-width="1.9"/>
<text x="512.7" y="326.5" font-size="9" transform="rotate(-90 512.7 326.5)" fill="#1a1a1a" font-family="Liberation Sans,Arial,sans-serif">DW4</text>
</g>
<g><clipPath id="c3"><rect x="464.8" y="334.8" width="49.7" height="47.4"/></clipPath>
<g clip-path="url(#c3)">
<path d="M478.2 372.5h.7M469.9 369.8h.7M475.3 356.7h.7M492.6 361.1h.7M477.1 367.1h.7M486.4 359.1h.7M482.1 349.2h.7M474.5 354.8h.7M466.7 343.6h.7M464.4 356.9h.7M476.0 356.0h.7M478.0 345.4h.7M476.8 361.9h.7M483.4 350.5h.7M474.2 338.2h.7M473.4 336.3h.7M466.0 371.0h.7M459.8 367.8h.7M480.0 356.1h.7M481.1 364.9h.7M485.8 357.0h.7M472.7 353.1h.7M469.5 358.9h.7M471.1 370.6h.7M462.4 347.9h.7M469.8 337.4h.7M492.6 334.1h.7M475.1 353.9h.7M490.6 338.6h.7M486.0 351.7h.7M476.2 352.4h.7M482.5 347.5h.7M476.8 363.1h.7M492.1 334.1h.7M489.6 369.4h.7M473.5 362.6h.7M473.7 376.7h.7M479.1 357.1h.7M475.6 357.3h.7M476.0 350.2h.7M493.9 339.3h.7M448.6 358.1h.7M476.2 363.3h.7M475.8 357.8h.7M480.1 369.6h.7M473.8 355.5h.7M492.9 365.0h.7M469.5 383.8h.7M483.6 353.2h.7M468.0 362.5h.7M470.7 348.3h.7M467.0 354.1h.7M486.3 354.8h.7M465.8 366.4h.7M477.9 368.3h.7M487.0 357.6h.7M476.2 358.9h.7M468.3 366.4h.7M488.4 361.2h.7M475.5 356.7h.7M471.2 351.0h.7M474.2 350.6h.7M473.9 342.8h.7M480.2 359.9h.7M468.2 335.3h.7M477.3 371.0h.7M471.5 354.3h.7M472.9 366.3h.7M470.1 369.8h.7M475.0 369.1h.7M477.7 357.0h.7M465.6 352.2h.7M475.3 366.3h.7M479.4 352.1h.7M480.7 369.8h.7M476.2 354.8h.7M474.2 367.9h.7M481.7 349.6h.7M480.4 354.4h.7M471.4 372.4h.7M484.0 351.8h.7M478.0 364.7h.7M472.3 358.1h.7M482.7 340.6h.7M480.0 367.2h.7M481.4 345.3h.7M479.9 350.3h.7M482.0 365.7h.7M479.1 351.4h.7M472.7 368.4h.7M470.2 364.6h.7M481.5 356.5h.7M496.6 360.1h.7M494.6 338.2h.7M459.5 369.7h.7M482.5 356.1h.7M477.0 339.4h.7M472.4 348.5h.7M475.6 368.7h.7M477.8 363.3h.7M471.8 354.8h.7M478.3 356.4h.7M487.5 350.2h.7M492.5 349.1h.7M485.9 351.3h.7M490.6 360.8h.7M480.6 367.2h.7M472.3 348.5h.7M461.2 372.2h.7M471.8 353.2h.7M477.2 380.3h.7M463.6 362.0h.7M474.2 365.0h.7M463.0 355.2h.7M484.1 375.8h.7M490.2 350.4h.7M477.8 358.2h.7M466.4 344.3h.7M483.5 362.0h.7M476.3 372.2h.7M469.4 364.9h.7M477.5 358.8h.7M481.3 361.2h.7M479.5 362.2h.7M492.9 356.1h.7M485.5 365.8h.7M474.6 367.8h.7M470.5 371.6h.7M470.9 354.3h.7M480.0 368.1h.7M484.7 368.8h.7M475.7 349.4h.7M481.8 362.6h.7M469.8 369.6h.7M479.0 349.3h.7M480.9 345.5h.7M470.4 363.6h.7M464.9 359.8h.7M466.6 367.1h.7M471.6 361.3h.7M465.4 355.8h.7M485.0 364.2h.7M462.7 369.1h.7M484.5 355.4h.7M488.7 348.3h.7M476.7 371.1h.7M487.9 372.8h.7M468.6 340.7h.7M480.5 344.4h.7M476.3 345.9h.7M485.9 367.8h.7M481.9 359.6h.7M477.8 356.3h.7M480.5 362.0h.7M481.1 354.9h.7M492.6 362.4h.7M488.6 373.4h.7M470.4 341.7h.7M487.5 355.3h.7M478.1 356.7h.7M478.4 346.9h.7M476.6 354.5h.7M477.3 334.9h.7M484.0 362.9h.7M463.6 351.7h.7M477.6 366.0h.7M477.4 373.9h.7M477.6 348.9h.7M472.0 367.2h.7M472.5 368.2h.7M485.6 365.6h.7M485.5 357.6h.7M477.3 353.2h.7M472.5 343.0h.7M473.0 348.2h.7M466.0 360.9h.7M481.0 355.8h.7M488.3 369.3h.7M485.8 353.1h.7M465.5 365.3h.7M479.9 367.0h.7M480.7 372.6h.7M475.1 366.4h.7M470.2 335.2h.7M473.8 375.1h.7M464.0 370.1h.7M472.0 355.2h.7M477.7 361.6h.7M469.6 360.7h.7M481.0 368.2h.7M471.4 375.7h.7M492.7 384.8h.7M466.7 361.2h.7M462.5 363.4h.7M481.8 347.3h.7M464.7 361.4h.7M482.4 351.1h.7M475.3 332.9h.7M471.7 360.9h.7M478.6 376.0h.7M468.3 335.8h.7M481.0 353.2h.7M479.7 366.9h.7M482.2 374.5h.7M488.2 341.9h.7M476.9 380.4h.7M474.1 369.6h.7M477.0 355.0h.7M490.1 370.3h.7M475.5 368.9h.7M466.9 351.8h.7M484.6 359.8h.7M468.9 364.1h.7M480.0 372.9h.7M485.1 356.5h.7M473.5 357.9h.7M475.6 374.8h.7M490.1 373.6h.7M480.4 356.8h.7M484.6 355.7h.7M479.3 341.9h.7M474.0 374.5h.7M469.2 343.7h.7M476.1 376.9h.7M489.0 355.6h.7M473.6 358.2h.7M470.0 359.8h.7M475.0 343.9h.7M472.8 356.7h.7M470.5 347.6h.7M484.6 379.3h.7M475.1 354.9h.7M481.4 357.0h.7M471.1 374.0h.7M469.1 351.7h.7M472.1 350.1h.7M475.5 365.4h.7M488.9 366.4h.7M477.7 346.3h.7M476.9 349.5h.7M476.6 369.7h.7M479.0 357.2h.7M471.4 359.2h.7M478.3 349.7h.7M473.4 368.7h.7M464.1 354.7h.7M468.1 375.6h.7M482.2 364.8h.7M480.6 362.4h.7M479.7 342.8h.7M479.5 365.6h.7M466.0 368.1h.7M482.7 343.4h.7M473.6 356.2h.7M473.2 363.5h.7M467.2 357.1h.7M479.2 367.0h.7M477.8 356.9h.7M482.9 338.5h.7M484.9 356.2h.7M467.4 354.9h.7M462.7 337.9h.7M474.8 351.2h.7M483.3 350.1h.7M467.0 349.3h.7M491.1 359.7h.7M472.5 349.0h.7M468.6 357.7h.7M480.8 371.5h.7M486.6 362.3h.7M472.1 350.4h.7M458.9 348.7h.7M480.8 355.8h.7M480.3 345.2h.7M484.6 362.5h.7M477.7 363.6h.7M459.5 353.5h.7M470.2 378.4h.7M475.9 354.1h.7M484.2 348.3h.7M488.8 352.0h.7M476.9 349.8h.7M483.9 336.6h.7M482.9 350.8h.7M477.8 347.3h.7M479.2 361.4h.7M482.1 362.7h.7M482.4 369.8h.7M474.3 347.0h.7M467.2 366.5h.7M474.4 370.4h.7M477.8 348.8h.7M484.6 379.8h.7M476.0 349.5h.7M470.6 368.7h.7M472.7 355.1h.7M482.9 359.5h.7M478.3 353.7h.7M472.3 361.1h.7M478.6 365.6h.7M473.4 363.0h.7M481.2 360.3h.7M482.0 370.0h.7M479.0 360.2h.7M469.6 362.8h.7M476.7 356.1h.7M470.8 365.4h.7M497.9 363.9h.7M478.1 364.0h.7M472.7 360.4h.7M472.1 352.7h.7M479.3 361.8h.7M476.5 351.1h.7M479.5 348.0h.7M483.6 355.8h.7M477.4 367.7h.7M481.9 345.8h.7M475.4 363.3h.7M468.7 334.2h.7M476.8 358.9h.7M480.8 360.3h.7M478.4 361.9h.7M488.4 364.5h.7M481.7 355.3h.7M486.4 357.4h.7M483.3 337.3h.7M479.4 358.4h.7M473.7 372.9h.7M480.6 357.9h.7M473.2 379.1h.7M483.4 366.3h.7M471.3 373.1h.7M481.9 356.6h.7M476.6 342.3h.7M482.6 348.0h.7M484.1 354.8h.7M472.4 363.3h.7M479.1 347.6h.7M476.8 365.8h.7M475.4 345.3h.7M475.5 349.3h.7M472.8 359.9h.7M477.0 357.2h.7M464.2 363.1h.7M475.8 355.1h.7M478.6 379.6h.7M467.1 342.6h.7M483.5 351.1h.7M487.8 349.1h.7M473.5 368.1h.7M484.7 364.0h.7M481.0 358.0h.7M473.9 357.3h.7M487.5 366.8h.7M477.5 362.7h.7M484.0 371.8h.7M476.3 358.6h.7M480.0 386.6h.7M479.3 372.7h.7M465.2 368.3h.7M466.2 348.1h.7M472.4 357.9h.7M478.8 363.2h.7M479.2 354.8h.7M498.0 363.5h.7M482.7 380.5h.7M485.1 365.4h.7M480.0 378.9h.7M468.8 349.4h.7M478.6 338.2h.7M471.2 371.2h.7M473.7 361.1h.7M482.9 347.3h.7M479.6 352.9h.7M468.7 356.5h.7M477.0 355.2h.7M472.2 369.3h.7M486.5 365.2h.7M476.6 348.4h.7M470.9 347.9h.7M479.1 368.9h.7M484.6 359.1h.7M474.4 361.3h.7M478.4 365.6h.7M489.1 352.3h.7M494.0 337.6h.7M463.3 343.7h.7M469.3 357.0h.7M493.8 352.1h.7M486.1 355.6h.7M478.6 348.8h.7M495.4 359.0h.7M472.5 383.0h.7M478.8 363.7h.7M476.2 350.8h.7M466.1 357.6h.7M490.2 363.8h.7M476.0 370.4h.7M470.0 373.7h.7M477.3 350.8h.7M482.8 364.8h.7M474.7 361.6h.7M485.2 374.0h.7M470.7 332.0h.7M493.6 356.7h.7M474.1 363.9h.7M474.0 370.2h.7M467.5 357.3h.7M467.4 375.3h.7M475.4 370.8h.7M488.4 347.0h.7M475.7 366.9h.7M477.8 358.0h.7M484.1 368.9h.7M472.7 358.0h.7M482.5 361.6h.7M478.5 347.7h.7M491.3 357.0h.7M479.5 359.0h.7M477.9 361.0h.7M470.8 363.3h.7M486.9 363.6h.7M483.1 364.4h.7M477.7 378.3h.7M472.0 363.4h.7M485.6 362.4h.7M469.0 348.1h.7M489.8 349.4h.7M477.5 365.1h.7M478.1 340.9h.7M462.3 358.3h.7M471.3 356.7h.7M478.1 361.1h.7M466.8 341.9h.7M484.9 352.8h.7M468.1 338.6h.7M481.7 346.3h.7M469.1 365.9h.7M479.8 365.3h.7M467.3 329.5h.7M469.6 356.3h.7M472.1 368.7h.7M480.3 348.5h.7M481.9 357.9h.7M473.5 371.1h.7M464.1 370.2h.7M486.1 337.9h.7M475.9 357.7h.7M468.4 353.4h.7M470.9 360.1h.7M473.0 337.0h.7M486.9 368.8h.7M470.8 368.5h.7M493.5 343.1h.7M474.1 354.0h.7M481.8 356.2h.7M466.2 372.6h.7M474.8 367.0h.7M495.7 351.6h.7M474.1 369.0h.7M476.6 364.9h.7M477.4 388.8h.7M482.5 363.0h.7M478.4 363.5h.7M464.4 356.6h.7M483.4 346.8h.7M477.7 358.4h.7M473.3 385.6h.7M483.1 362.9h.7M471.1 360.3h.7M475.0 358.5h.7M479.2 385.7h.7M488.1 377.4h.7M488.4 389.1h.7M472.1 345.9h.7M479.1 362.1h.7M477.7 352.9h.7M482.9 377.5h.7M479.2 357.0h.7M487.0 356.2h.7M474.6 362.8h.7M459.2 379.2h.7M476.6 364.9h.7M479.9 363.7h.7M466.7 378.0h.7M482.0 362.6h.7M502.6 346.1h.7M483.4 358.4h.7M465.4 379.8h.7M465.0 360.9h.7M476.8 361.4h.7M469.9 373.8h.7M479.5 346.1h.7M467.7 362.3h.7M468.2 364.0h.7M480.1 353.3h.7M462.0 345.8h.7M480.3 354.0h.7M492.3 354.8h.7M480.5 366.6h.7M478.2 362.7h.7M485.5 357.9h.7M480.1 355.7h.7M493.5 361.3h.7M484.1 328.2h.7M473.5 347.6h.7M477.8 354.8h.7M469.0 356.6h.7M484.0 370.7h.7M473.2 370.6h.7M472.5 366.0h.7M470.6 370.5h.7M496.0 356.4h.7M487.2 344.2h.7M472.4 387.4h.7M476.9 364.7h.7M464.4 359.3h.7M471.2 372.1h.7M473.2 386.3h.7M468.7 362.9h.7M461.4 355.2h.7M487.2 358.3h.7M467.0 364.6h.7M485.0 364.1h.7M485.4 344.5h.7M492.0 366.9h.7M460.6 379.1h.7M473.7 364.8h.7M461.6 352.8h.7M462.8 368.3h.7M475.6 349.7h.7M474.4 371.2h.7M471.2 365.4h.7M468.0 341.9h.7M473.5 356.4h.7M478.8 369.3h.7M474.1 355.6h.7M483.5 363.9h.7M477.0 361.9h.7M459.9 353.7h.7M464.6 355.7h.7M484.6 341.8h.7M484.8 353.5h.7M475.7 354.5h.7M483.1 352.4h.7M460.8 362.8h.7M476.2 366.0h.7M482.2 346.7h.7M479.0 360.7h.7M476.8 360.4h.7M479.9 353.6h.7M476.2 369.7h.7M468.9 358.6h.7M469.3 348.2h.7M474.1 361.3h.7M489.6 357.3h.7M484.9 365.1h.7M478.0 326.9h.7M478.4 360.0h.7M469.1 360.8h.7M489.2 347.3h.7M473.3 368.9h.7M463.0 348.6h.7M479.8 369.4h.7M487.1 367.3h.7M495.8 363.5h.7M467.1 357.4h.7M482.4 363.3h.7M461.9 363.4h.7M471.0 357.3h.7M489.1 357.7h.7M472.1 358.1h.7M472.2 380.9h.7M484.0 369.0h.7M471.9 352.7h.7M479.5 336.5h.7M485.6 346.0h.7M478.2 362.9h.7M471.1 363.1h.7M483.0 379.4h.7M480.5 378.5h.7M481.1 357.4h.7M484.3 353.9h.7M478.6 366.0h.7M486.5 362.3h.7M465.7 373.0h.7M478.8 356.3h.7M470.9 365.5h.7M480.1 366.6h.7M476.4 375.5h.7M475.3 363.7h.7M479.0 370.5h.7M471.9 356.3h.7M475.7 352.4h.7M472.2 346.7h.7M483.4 375.0h.7M469.6 367.5h.7M468.2 350.9h.7M474.9 360.7h.7M481.0 339.1h.7M466.9 360.3h.7M475.4 381.7h.7M475.2 352.6h.7M487.0 331.4h.7M462.5 387.8h.7M472.4 360.1h.7M475.9 350.1h.7M476.2 345.6h.7M485.0 367.5h.7M482.8 349.8h.7M461.9 354.3h.7M468.6 363.4h.7M464.5 349.7h.7M478.4 363.9h.7M478.1 346.1h.7M471.9 380.4h.7M484.9 350.7h.7M492.6 358.0h.7M477.3 350.7h.7M489.4 360.5h.7M476.7 349.7h.7M467.1 361.2h.7M477.4 375.6h.7M470.1 355.4h.7M485.2 367.9h.7M472.0 374.7h.7M481.1 368.7h.7M480.1 369.5h.7M474.0 357.1h.7M486.0 363.5h.7M480.2 371.3h.7M479.2 363.6h.7M459.8 353.8h.7M483.9 350.1h.7M475.0 361.7h.7M476.3 368.4h.7M481.1 357.5h.7M486.0 355.6h.7M471.7 362.7h.7M482.4 357.8h.7M468.8 354.0h.7M479.2 366.5h.7M491.5 357.7h.7M475.6 336.8h.7M487.6 368.9h.7M477.4 351.9h.7M456.5 367.0h.7M471.1 375.2h.7M483.4 372.8h.7M476.2 371.8h.7M466.2 374.7h.7M477.1 347.0h.7M474.2 349.2h.7M479.5 351.8h.7M467.2 355.6h.7M475.5 361.5h.7M482.9 372.6h.7M480.6 376.6h.7M457.6 358.6h.7M484.8 345.6h.7M475.7 361.6h.7M465.0 353.3h.7M482.1 356.0h.7M489.6 384.1h.7M476.8 347.3h.7M477.1 353.4h.7M466.0 355.1h.7M473.6 355.6h.7M484.7 370.5h.7M480.7 355.6h.7M480.7 359.6h.7M479.1 349.2h.7M452.8 368.6h.7M472.6 354.1h.7M477.2 358.8h.7M475.0 375.3h.7M478.4 361.8h.7M470.3 358.3h.7M481.0 358.5h.7M480.0 349.5h.7M480.4 348.7h.7M473.9 351.3h.7M478.8 370.8h.7M479.7 350.2h.7M478.4 370.2h.7M483.1 364.6h.7M468.4 353.6h.7M472.0 354.4h.7M479.2 359.8h.7M474.6 365.3h.7M471.7 355.9h.7M478.2 345.2h.7M470.6 344.8h.7M469.0 357.9h.7M476.4 362.9h.7M480.0 347.5h.7M492.2 373.5h.7M467.7 352.2h.7M473.6 361.4h.7M482.3 359.4h.7M457.0 389.3h.7M484.2 368.0h.7M471.4 360.4h.7M484.8 354.4h.7M486.4 360.3h.7M490.0 359.9h.7M489.2 342.7h.7M488.9 364.1h.7M474.3 370.6h.7M475.3 367.9h.7M484.9 370.3h.7M494.9 373.7h.7M497.3 366.8h.7M478.6 363.5h.7M477.1 346.5h.7M478.5 347.0h.7M475.1 356.2h.7M473.0 348.2h.7M478.3 359.1h.7M488.3 366.0h.7M484.9 354.5h.7M474.9 346.3h.7M470.5 366.8h.7M475.8 357.9h.7M472.9 375.5h.7M476.9 371.3h.7M477.1 369.3h.7M469.7 345.3h.7M486.2 356.2h.7M479.5 368.5h.7M482.9 362.2h.7M467.9 352.1h.7M477.7 366.0h.7M481.5 363.2h.7M471.3 359.3h.7M485.1 350.4h.7M472.8 368.8h.7M490.0 363.6h.7M477.5 349.4h.7M476.4 351.1h.7M478.5 366.8h.7M481.0 372.9h.7M469.3 346.2h.7M488.2 370.3h.7M469.7 360.8h.7M468.9 359.2h.7M479.9 369.4h.7M469.7 346.2h.7M481.9 355.9h.7M488.5 347.5h.7M472.3 330.9h.7M486.4 373.3h.7M480.7 356.2h.7M461.3 345.1h.7M473.2 379.3h.7M484.5 353.2h.7M480.8 365.2h.7M481.4 349.8h.7M473.9 369.8h.7M482.9 355.9h.7M496.8 362.3h.7M474.2 368.9h.7M483.8 358.1h.7M491.8 370.7h.7M477.6 366.8h.7M482.7 356.5h.7M483.3 353.9h.7M475.6 366.3h.7M467.5 355.9h.7M469.8 366.8h.7M472.9 378.5h.7M489.6 352.3h.7M478.7 355.8h.7M477.4 366.5h.7M489.2 382.2h.7M492.1 346.4h.7M473.7 357.5h.7M475.0 361.0h.7M482.6 354.7h.7M472.8 384.0h.7M482.9 382.0h.7M473.0 373.8h.7M490.8 373.4h.7M471.5 365.1h.7M471.3 347.8h.7M477.4 364.8h.7M475.8 358.3h.7M482.5 352.4h.7M480.9 367.6h.7M482.7 365.4h.7M469.5 356.5h.7M474.1 366.9h.7M463.6 360.9h.7M464.8 366.2h.7M473.4 360.0h.7M484.9 377.3h.7M469.6 360.7h.7M462.0 357.4h.7M472.0 366.4h.7M476.6 360.6h.7M468.6 356.1h.7M468.6 359.7h.7M464.9 362.3h.7M486.2 386.7h.7M489.5 373.3h.7M483.9 376.1h.7M477.2 363.6h.7M462.6 354.3h.7M486.6 341.7h.7M480.0 359.0h.7M474.6 362.8h.7M477.7 347.9h.7M476.9 340.7h.7M489.4 359.3h.7M484.5 350.0h.7M492.1 370.1h.7M480.2 361.8h.7M480.5 351.9h.7M476.4 357.2h.7M480.5 375.6h.7M486.7 362.3h.7M482.5 356.6h.7M473.7 342.8h.7M467.5 347.1h.7M477.0 357.7h.7M480.9 371.6h.7M482.9 358.0h.7M473.8 356.5h.7M482.4 350.0h.7M465.6 357.3h.7M485.9 372.2h.7M482.3 339.6h.7M476.3 366.9h.7M486.1 378.8h.7M470.0 363.4h.7M465.1 357.3h.7M474.4 368.1h.7M478.8 341.3h.7M476.5 363.3h.7M489.0 352.0h.7M470.6 353.4h.7M485.6 356.5h.7M478.2 364.1h.7M471.0 370.9h.7M464.6 378.5h.7M472.2 350.0h.7M471.6 347.4h.7M470.5 351.1h.7M468.2 357.6h.7M480.0 353.4h.7M478.9 350.8h.7M479.2 356.1h.7M468.8 360.5h.7M476.1 352.5h.7M477.1 365.0h.7M467.7 354.2h.7M482.4 359.4h.7M483.7 384.5h.7M467.5 363.2h.7M474.5 374.3h.7M482.0 344.9h.7M486.0 359.5h.7M475.0 359.6h.7M479.1 350.5h.7M474.4 373.6h.7M469.3 353.2h.7M483.5 349.6h.7M475.8 362.6h.7M470.2 356.1h.7M470.2 357.2h.7M479.6 359.5h.7M479.3 363.3h.7M483.7 348.3h.7M478.3 375.9h.7M475.5 356.6h.7M477.4 351.8h.7M481.8 359.3h.7M476.0 367.1h.7M487.0 344.6h.7M473.4 356.5h.7M466.2 366.5h.7M494.2 367.8h.7M487.5 339.0h.7M473.9 345.6h.7M483.6 358.1h.7M476.0 364.5h.7M483.5 376.4h.7M488.3 369.2h.7M464.4 372.5h.7M478.1 343.4h.7M478.7 356.8h.7M476.7 369.4h.7M466.6 366.1h.7M486.9 347.5h.7M488.5 352.4h.7M471.5 369.2h.7M477.3 340.1h.7M472.3 366.6h.7M473.1 354.4h.7M477.5 359.3h.7M471.9 349.7h.7M480.9 372.2h.7M457.2 363.7h.7M485.4 350.1h.7M488.9 343.7h.7M485.0 376.4h.7M489.7 331.5h.7M477.9 348.9h.7M480.5 374.1h.7M480.7 376.5h.7M464.0 350.6h.7M473.2 366.4h.7M487.1 350.7h.7M470.0 368.7h.7M466.8 365.3h.7M470.9 358.5h.7M493.9 356.6h.7M477.8 350.9h.7M481.8 375.4h.7M482.5 345.7h.7M480.3 375.7h.7M469.7 357.9h.7M470.0 353.3h.7M469.5 345.3h.7M481.3 358.8h.7M460.0 348.5h.7M471.6 347.9h.7M478.6 357.3h.7M480.4 345.3h.7M471.4 354.8h.7M474.4 355.7h.7M471.3 358.1h.7M490.5 351.5h.7M464.2 362.4h.7M470.1 367.9h.7M485.7 377.0h.7M478.6 341.7h.7M490.2 369.1h.7M487.7 360.4h.7M474.6 359.7h.7M462.7 369.8h.7M472.5 353.0h.7M480.3 350.4h.7M483.9 353.0h.7M496.3 372.5h.7M482.9 362.9h.7M477.9 354.3h.7M462.2 353.7h.7M471.2 354.2h.7M478.2 339.8h.7M467.5 352.3h.7M473.8 369.1h.7M498.7 358.0h.7M482.7 359.5h.7M479.6 377.8h.7M478.9 365.5h.7M477.9 353.0h.7M486.1 357.8h.7M489.3 347.8h.7M481.1 377.2h.7M472.5 363.2h.7M489.4 364.1h.7M471.1 356.1h.7M480.0 353.4h.7M474.2 360.9h.7M467.6 377.0h.7M472.8 359.4h.7M478.4 374.4h.7M474.5 381.0h.7M492.4 367.3h.7M466.7 345.9h.7M475.6 362.6h.7M482.7 372.4h.7M481.2 360.2h.7M480.7 338.3h.7M486.8 343.7h.7M462.0 352.1h.7M474.1 346.7h.7M475.8 360.4h.7M482.5 363.6h.7M473.5 360.7h.7M487.7 356.9h.7M476.4 337.3h.7M479.9 381.0h.7M483.5 357.2h.7M487.5 372.8h.7M488.4 347.4h.7M468.3 367.2h.7M481.8 364.4h.7M465.9 367.9h.7M493.0 372.2h.7M498.2 364.6h.7M478.6 378.7h.7M485.6 335.7h.7M465.2 362.4h.7M473.4 378.6h.7M490.3 373.2h.7M475.0 357.3h.7M483.9 356.1h.7M483.0 362.8h.7M491.8 361.9h.7M483.3 328.6h.7M480.1 344.5h.7M491.2 344.7h.7M484.3 366.0h.7M491.3 371.9h.7M490.0 377.7h.7M484.3 373.5h.7M480.0 355.9h.7M489.8 367.4h.7M486.0 353.3h.7M480.7 335.3h.7M476.6 378.4h.7M477.4 343.0h.7M478.3 357.4h.7M485.9 353.8h.7M480.2 358.8h.7M479.5 364.1h.7M495.6 349.8h.7M488.6 354.7h.7M485.2 345.6h.7M487.8 360.1h.7M494.4 386.9h.7M481.4 372.8h.7M482.8 354.4h.7M480.9 365.7h.7M494.2 359.1h.7M488.6 351.3h.7M485.6 345.8h.7M486.9 337.8h.7M500.0 374.2h.7M484.1 355.0h.7M485.0 361.5h.7M488.6 381.2h.7M484.7 339.0h.7M488.8 364.9h.7M482.7 369.2h.7M486.3 351.4h.7M486.8 345.9h.7M485.1 379.2h.7M494.0 367.0h.7M488.0 363.4h.7M480.8 362.2h.7M483.3 353.5h.7M496.1 352.1h.7M487.7 361.3h.7M492.9 357.6h.7M490.1 364.6h.7M486.3 353.9h.7M481.6 372.2h.7M482.6 373.2h.7M496.7 354.2h.7M482.1 349.3h.7M484.5 375.0h.7M483.1 348.6h.7M478.2 361.5h.7M489.9 377.1h.7M488.9 360.0h.7M487.2 392.5h.7M496.2 370.5h.7M485.6 358.4h.7M486.9 359.4h.7M490.1 352.8h.7M497.8 349.6h.7M491.1 368.9h.7M492.7 375.6h.7M489.2 362.8h.7M495.5 374.9h.7M487.5 370.1h.7M480.8 365.0h.7M476.0 374.2h.7M484.0 370.9h.7M490.1 354.1h.7M492.2 379.0h.7M482.7 381.6h.7M489.7 350.8h.7M486.1 364.8h.7M491.6 351.9h.7M485.5 366.1h.7M489.1 382.5h.7M492.2 370.6h.7M482.7 351.0h.7M481.9 360.2h.7M491.1 379.4h.7M493.0 351.8h.7M487.3 384.7h.7M488.4 366.8h.7M480.1 345.6h.7M485.0 358.1h.7M490.6 359.6h.7M478.3 387.7h.7M489.8 342.6h.7M497.0 370.2h.7M486.7 361.3h.7M490.5 335.8h.7M493.2 364.0h.7M491.4 354.7h.7M484.3 378.5h.7M469.3 374.4h.7M494.1 343.3h.7M486.4 353.4h.7M484.6 347.1h.7M480.3 361.9h.7M486.2 367.3h.7M491.9 354.9h.7M499.3 379.0h.7M479.2 359.3h.7M485.7 365.7h.7M482.2 378.5h.7M485.6 384.4h.7M483.5 382.5h.7M490.0 371.1h.7M489.6 364.9h.7M482.2 358.9h.7M483.7 358.6h.7M485.6 369.4h.7M489.2 357.7h.7M478.1 371.2h.7M483.6 356.7h.7M490.0 360.3h.7M488.1 361.9h.7M477.3 368.5h.7M486.5 369.2h.7M488.1 356.2h.7M495.5 362.2h.7M493.1 367.5h.7M492.0 372.2h.7M491.0 350.7h.7M486.3 375.6h.7M486.8 356.8h.7M487.7 371.1h.7M483.0 360.1h.7M485.1 353.3h.7M491.6 354.6h.7M487.8 364.8h.7M490.1 365.9h.7M491.6 352.7h.7M474.3 370.2h.7M496.6 356.5h.7M487.7 370.2h.7M483.2 360.1h.7M485.2 366.6h.7M487.9 378.7h.7M482.6 353.2h.7M479.9 363.1h.7M486.9 358.2h.7M490.8 350.2h.7M479.8 383.6h.7M487.6 350.2h.7M493.2 362.2h.7M482.4 364.3h.7M493.3 368.7h.7M487.1 379.0h.7M482.9 358.8h.7M490.2 349.8h.7M491.2 364.9h.7M492.9 364.2h.7M498.4 346.2h.7M485.6 355.2h.7M487.6 367.8h.7M481.9 371.6h.7M493.7 362.2h.7M480.2 367.7h.7M490.0 350.6h.7M483.9 355.1h.7M479.9 364.8h.7M493.7 364.7h.7M483.9 360.3h.7M487.5 380.9h.7M485.3 366.2h.7M486.0 373.4h.7M483.3 366.5h.7M485.7 367.3h.7M480.0 360.0h.7M493.6 368.2h.7M482.0 388.9h.7M490.1 358.2h.7M485.7 350.8h.7M496.0 374.8h.7M495.5 349.9h.7M477.5 337.4h.7M479.6 354.7h.7M481.1 342.6h.7M490.3 353.0h.7M489.2 373.7h.7M483.1 354.9h.7M494.2 344.0h.7M484.8 347.8h.7M486.2 353.6h.7M488.4 355.0h.7M493.7 351.6h.7M486.8 367.4h.7M482.4 353.2h.7M486.6 355.7h.7M491.5 352.2h.7M479.0 367.1h.7M482.7 353.0h.7M485.8 372.3h.7M491.5 362.1h.7M488.7 355.5h.7M496.6 371.4h.7M482.7 370.0h.7M479.9 351.3h.7M483.5 377.5h.7M498.1 360.5h.7M484.6 374.7h.7M484.4 377.7h.7M482.1 370.9h.7M482.9 379.2h.7M488.0 353.1h.7M487.9 334.1h.7M487.7 367.5h.7M500.2 348.5h.7M493.9 374.2h.7M491.3 356.7h.7M488.3 351.3h.7M488.9 347.6h.7M484.6 361.4h.7M482.5 346.4h.7M487.0 363.6h.7M491.0 365.0h.7M496.5 360.0h.7M494.7 349.3h.7M491.0 368.5h.7M497.6 353.8h.7M497.6 359.3h.7M485.1 342.3h.7M492.4 354.5h.7M492.1 362.4h.7M491.8 361.1h.7M483.7 355.7h.7M487.4 365.3h.7M483.2 370.7h.7M476.3 346.2h.7M491.2 364.0h.7M498.6 372.2h.7M482.0 348.5h.7M487.6 359.7h.7M491.5 354.8h.7M483.5 352.3h.7M487.3 351.1h.7M486.7 368.6h.7M486.4 348.4h.7M490.3 368.9h.7M482.6 356.0h.7M478.6 348.8h.7M481.1 345.1h.7M483.7 381.4h.7M493.7 355.5h.7M489.7 361.1h.7M487.9 338.3h.7M486.4 347.5h.7M484.8 359.0h.7M467.2 331.7h.7M489.5 374.9h.7M492.1 347.5h.7M485.0 366.9h.7M486.0 335.3h.7M491.4 352.7h.7M487.1 340.3h.7M480.9 373.4h.7M484.6 365.2h.7M496.2 360.4h.7M487.4 357.1h.7M491.9 364.1h.7M489.7 377.6h.7M490.1 374.0h.7M482.6 357.2h.7M491.0 351.1h.7M479.3 359.2h.7M484.5 364.4h.7M496.2 355.0h.7M481.2 356.8h.7M484.0 354.2h.7M493.6 366.5h.7M489.4 357.4h.7M492.7 359.1h.7M496.8 360.2h.7M486.9 367.9h.7M499.1 340.6h.7M489.9 346.7h.7M478.1 355.2h.7M492.0 341.7h.7M484.9 380.4h.7M494.3 356.3h.7M490.9 360.8h.7M484.0 351.0h.7M494.3 352.6h.7M486.4 354.4h.7M478.8 357.7h.7M497.7 348.6h.7M486.8 373.3h.7M489.8 359.8h.7M490.5 363.4h.7M486.8 350.7h.7M484.7 340.5h.7M488.0 357.5h.7M483.7 342.2h.7M484.2 339.4h.7M490.5 346.6h.7M492.0 350.1h.7M490.9 366.1h.7M491.9 356.3h.7M476.4 364.4h.7M483.6 342.5h.7M481.0 362.8h.7M490.6 363.8h.7M491.1 371.9h.7M485.3 359.7h.7M485.7 356.6h.7M486.4 362.1h.7M484.4 361.4h.7M492.3 356.6h.7M490.2 350.0h.7M482.5 379.0h.7M486.4 373.5h.7M476.1 333.4h.7M486.9 357.0h.7M474.4 367.8h.7M490.6 352.0h.7M490.4 366.7h.7M487.6 353.5h.7M490.8 355.0h.7M484.3 344.7h.7M487.7 373.7h.7M484.4 354.1h.7M479.8 357.3h.7M491.7 358.0h.7M490.4 372.0h.7M482.2 353.1h.7M490.6 356.6h.7M481.2 359.7h.7M489.3 371.9h.7M482.3 363.5h.7M489.7 328.5h.7M491.2 358.9h.7M478.1 379.8h.7M489.5 362.8h.7M500.2 371.5h.7M481.5 360.0h.7M496.7 373.6h.7M495.8 359.7h.7M493.5 352.9h.7M486.1 366.8h.7M486.4 366.3h.7M486.2 362.9h.7M498.8 366.3h.7M493.2 343.9h.7M483.8 370.1h.7M478.1 355.2h.7M485.2 372.8h.7M477.4 354.0h.7M487.1 361.1h.7M478.0 373.4h.7M490.9 374.1h.7M490.3 366.9h.7M485.6 356.8h.7M480.4 364.6h.7M480.4 372.3h.7M489.9 353.1h.7M488.0 342.0h.7M481.3 352.1h.7M479.2 352.9h.7M485.8 352.3h.7M482.3 346.4h.7M476.0 365.9h.7M484.7 373.2h.7M480.6 354.2h.7M490.7 375.4h.7M492.5 369.5h.7M479.3 365.5h.7M497.3 335.7h.7M488.9 384.3h.7M481.0 362.7h.7M497.9 365.9h.7M488.0 369.2h.7M486.0 368.0h.7M486.3 369.2h.7M482.3 358.3h.7M487.9 334.9h.7M492.3 356.0h.7M483.7 344.1h.7M486.5 349.4h.7M490.7 377.7h.7M484.6 351.9h.7M486.4 356.8h.7M489.9 337.4h.7M490.1 359.4h.7M483.9 342.5h.7M492.2 372.1h.7M488.8 367.6h.7M491.8 362.0h.7M491.7 348.5h.7M491.7 332.5h.7M493.6 377.8h.7M493.7 350.7h.7M485.7 366.3h.7M482.5 364.4h.7M486.9 376.8h.7M484.6 354.0h.7M490.4 371.8h.7M485.4 344.6h.7M480.0 342.2h.7M487.7 348.5h.7M487.2 344.1h.7M485.6 366.0h.7M481.1 372.6h.7M487.4 351.0h.7M485.3 359.3h.7M482.5 353.5h.7M488.6 338.7h.7M500.9 369.6h.7M494.1 385.4h.7M491.3 359.7h.7M486.6 366.4h.7M495.2 350.5h.7M497.2 356.2h.7M481.4 375.0h.7M484.4 368.1h.7M479.8 368.1h.7M484.5 373.3h.7M478.5 352.3h.7M481.8 362.5h.7M481.7 356.2h.7M487.1 355.2h.7M488.1 363.2h.7M478.3 371.5h.7M481.1 351.2h.7M496.8 352.4h.7M486.4 367.9h.7M483.5 358.5h.7M485.6 357.9h.7M480.6 371.5h.7M487.3 366.7h.7M487.4 353.2h.7M493.6 351.6h.7M492.6 351.7h.7M483.2 361.0h.7M500.1 370.1h.7M487.8 364.8h.7M493.6 354.8h.7M476.6 348.4h.7M486.9 351.9h.7M485.7 376.1h.7M485.7 353.3h.7M487.4 373.5h.7M496.7 367.7h.7M485.7 355.1h.7M480.9 353.3h.7M492.3 366.6h.7M489.0 348.7h.7M486.8 352.5h.7M495.6 360.2h.7M486.6 359.8h.7M487.2 361.0h.7M484.2 363.0h.7M487.6 369.8h.7M490.2 367.5h.7M484.4 360.3h.7M474.9 350.5h.7M484.9 333.5h.7M493.7 370.6h.7M488.1 386.1h.7M478.6 360.9h.7M487.9 354.6h.7M495.5 372.2h.7M489.9 349.7h.7M488.6 360.8h.7M490.1 344.3h.7M481.6 372.2h.7M487.6 359.2h.7M487.0 330.0h.7M495.2 343.7h.7M480.4 365.9h.7M494.8 373.2h.7M484.4 350.9h.7M490.7 362.5h.7M477.3 374.7h.7M476.6 364.3h.7M489.0 368.2h.7M487.8 369.4h.7M488.9 350.3h.7M483.9 375.4h.7M476.7 367.8h.7M483.9 340.8h.7M482.5 365.3h.7M471.8 370.0h.7M494.1 355.5h.7M485.3 360.6h.7M492.1 348.6h.7M484.6 363.9h.7M478.9 363.6h.7M486.9 369.0h.7M481.0 359.5h.7M489.4 360.6h.7M481.3 372.7h.7M486.7 361.7h.7M487.5 367.6h.7M487.8 352.5h.7M491.9 359.3h.7" stroke="#555" stroke-width=".6" fill="none" opacity=".7" filter="url(#b1)"/>
<path d="M487.3 342.6h.7M483.1 363.0h.7M482.6 343.4h.7M486.6 347.6h.7M481.8 355.9h.7M486.5 342.2h.7M478.9 344.3h.7M477.8 355.6h.7M453.6 350.2h.7M485.8 357.4h.7M474.5 344.4h.7M487.0 345.3h.7M482.6 351.3h.7M483.4 350.8h.7M484.6 373.0h.7M472.7 347.0h.7M485.4 355.0h.7M475.0 346.5h.7M475.3 347.9h.7M487.9 351.2h.7M471.7 342.8h.7M484.1 342.8h.7M486.3 365.3h.7M486.4 349.7h.7M487.2 342.2h.7M486.8 348.0h.7M478.0 348.5h.7M477.4 346.1h.7M477.7 350.9h.7M483.0 348.9h.7M488.7 382.3h.7M487.3 358.5h.7M477.9 347.9h.7M482.8 344.0h.7M480.4 346.9h.7M458.7 346.0h.7M479.0 346.6h.7M474.0 348.3h.7M478.7 344.7h.7M483.0 353.8h.7M486.4 352.7h.7M488.0 367.2h.7M482.3 349.9h.7M484.1 349.6h.7M465.2 345.2h.7M480.3 341.7h.7M482.3 343.3h.7M488.8 352.1h.7M453.9 345.1h.7M486.2 350.3h.7M470.5 347.4h.7M486.3 358.9h.7M486.8 361.7h.7M483.9 350.9h.7M481.5 343.3h.7M482.8 348.7h.7M475.4 346.5h.7M485.3 346.3h.7M474.9 345.4h.7M486.5 342.5h.7M477.2 345.8h.7M488.6 371.8h.7M478.7 349.1h.7M475.4 346.4h.7M487.9 344.1h.7M487.8 352.0h.7M486.8 351.5h.7M472.6 343.8h.7M487.9 344.5h.7M481.4 353.5h.7M488.0 362.9h.7M464.2 348.4h.7M487.8 347.3h.7M476.7 346.8h.7M481.5 346.8h.7M484.7 360.1h.7M487.0 358.9h.7M479.2 346.7h.7M482.0 355.2h.7M480.1 348.7h.7M485.8 362.0h.7M486.1 344.2h.7M477.6 343.2h.7M483.2 369.0h.7M475.0 358.3h.7M480.5 346.1h.7M488.3 356.2h.7M474.9 343.0h.7M486.0 351.7h.7M482.6 362.5h.7M487.4 354.7h.7M473.5 344.2h.7M481.8 348.4h.7M476.3 346.8h.7M478.2 350.4h.7M485.6 355.0h.7M470.5 345.5h.7M487.0 348.8h.7M467.8 342.7h.7M483.8 359.4h.7M487.9 351.2h.7M487.7 345.5h.7M488.9 344.6h.7M474.5 346.5h.7M482.7 346.1h.7M480.7 344.7h.7M482.2 343.6h.7M488.4 346.4h.7M486.8 355.7h.7M451.7 347.5h.7M487.3 353.2h.7M478.8 356.1h.7M467.1 345.5h.7M464.0 352.4h.7M476.2 357.2h.7M484.8 362.6h.7M485.4 354.0h.7M486.5 349.0h.7M485.9 396.5h.7M486.1 345.6h.7M476.2 349.8h.7M488.8 361.4h.7M483.9 348.8h.7M485.2 350.9h.7M484.6 349.1h.7M480.3 360.2h.7M486.8 345.6h.7M487.6 345.4h.7M475.4 345.9h.7M483.7 345.4h.7M479.4 346.7h.7M486.5 342.6h.7M486.3 358.6h.7M485.8 348.4h.7M483.7 343.3h.7M485.9 345.0h.7M479.4 350.4h.7M478.5 348.1h.7M480.6 346.4h.7M481.7 348.6h.7M485.7 356.5h.7M487.5 343.6h.7M486.3 373.6h.7M475.3 345.2h.7M481.1 366.8h.7M485.8 350.2h.7M486.2 354.8h.7M465.5 341.6h.7M478.9 353.0h.7M480.5 369.4h.7M473.0 350.0h.7M482.9 346.6h.7M483.0 350.7h.7M488.2 353.5h.7M482.4 362.4h.7M481.5 350.9h.7M462.0 343.0h.7M477.2 345.7h.7M485.2 352.0h.7M486.8 349.9h.7M487.4 353.9h.7M487.2 350.7h.7M488.1 342.6h.7M465.7 342.5h.7M476.3 341.8h.7M486.5 363.6h.7M471.7 350.5h.7M486.0 346.8h.7M484.5 350.5h.7M486.8 360.2h.7M484.9 352.2h.7M486.9 351.3h.7M474.0 352.6h.7M479.4 343.6h.7M483.6 349.7h.7M473.9 347.4h.7M485.4 347.4h.7M470.1 346.3h.7M472.5 347.5h.7M484.6 344.2h.7M488.0 347.6h.7M488.1 342.4h.7M486.9 363.8h.7M483.3 385.3h.7M486.0 364.7h.7M487.2 359.7h.7M480.5 356.8h.7M484.7 344.8h.7M485.9 367.8h.7M461.0 344.9h.7M470.2 341.8h.7M488.1 344.5h.7M479.1 345.2h.7M483.6 353.4h.7M487.4 342.3h.7M453.6 343.6h.7M480.5 367.8h.7M488.4 350.0h.7M480.6 361.5h.7M485.4 353.6h.7M467.0 356.8h.7M480.6 358.5h.7M486.7 358.3h.7M472.7 345.6h.7M482.3 353.9h.7M487.4 348.3h.7M469.8 349.3h.7M486.9 342.5h.7M457.1 347.6h.7M488.1 345.8h.7M487.5 347.7h.7M487.8 345.8h.7M486.3 357.3h.7M479.4 341.9h.7M472.9 345.5h.7M487.0 345.0h.7M484.0 343.0h.7M484.5 349.5h.7M471.4 346.4h.7M477.1 357.2h.7M481.3 348.3h.7M482.0 343.6h.7M481.8 363.5h.7M477.1 347.4h.7M481.2 349.5h.7M488.1 347.8h.7M485.7 356.7h.7M482.3 357.8h.7M476.9 347.2h.7M483.2 363.0h.7M475.0 349.0h.7M483.0 352.0h.7M488.0 373.4h.7M481.2 349.4h.7M483.6 343.2h.7M488.2 376.5h.7M468.1 345.8h.7M488.4 348.4h.7M485.0 349.2h.7M473.3 346.6h.7M486.1 348.1h.7M488.2 344.4h.7M483.8 350.3h.7M471.2 345.9h.7M487.8 351.0h.7M488.3 351.3h.7M480.3 359.2h.7M481.2 361.2h.7M474.8 344.2h.7M482.9 346.2h.7M465.3 348.6h.7M483.3 369.3h.7M486.9 365.9h.7M480.0 347.6h.7M478.9 345.0h.7M484.4 343.7h.7M486.9 351.5h.7M483.0 353.0h.7M464.3 345.5h.7M486.8 349.3h.7M485.2 354.8h.7M486.7 342.6h.7M486.7 346.8h.7M487.2 371.8h.7M487.7 361.3h.7M486.0 354.7h.7M464.9 345.3h.7M484.6 352.9h.7M488.8 343.4h.7M484.9 351.4h.7M477.8 350.9h.7M483.7 349.5h.7M479.5 347.3h.7M483.5 342.9h.7M477.6 342.8h.7M487.4 353.9h.7M483.5 349.0h.7M480.9 350.7h.7M469.6 352.8h.7M488.4 353.4h.7M482.8 365.3h.7M476.1 346.3h.7M488.2 354.2h.7M485.0 376.7h.7M449.6 347.4h.7M487.5 353.3h.7M485.6 344.3h.7M476.9 355.1h.7M478.9 345.6h.7M486.2 347.3h.7M487.0 354.7h.7M485.6 356.4h.7M475.7 341.9h.7M470.5 348.4h.7M456.7 343.2h.7M483.2 359.7h.7M483.6 350.7h.7M472.2 342.7h.7M488.1 368.4h.7M480.9 351.4h.7M483.8 352.6h.7M486.6 345.9h.7M478.7 369.3h.7M487.0 344.7h.7M484.6 352.4h.7M486.8 348.0h.7M487.5 352.2h.7M486.4 345.6h.7M488.2 375.4h.7M486.8 342.1h.7M488.7 365.2h.7M479.5 345.6h.7M486.5 356.1h.7M481.6 345.3h.7M484.7 368.5h.7M484.9 355.2h.7M483.5 348.4h.7M485.2 348.9h.7M486.9 345.1h.7M474.9 346.9h.7M486.2 356.3h.7M482.8 352.2h.7M485.8 352.8h.7M480.5 349.2h.7M483.3 346.6h.7M484.6 360.6h.7M486.8 352.0h.7M486.9 347.1h.7M486.1 345.0h.7M464.7 354.5h.7M463.7 342.2h.7M482.8 358.3h.7M486.5 364.5h.7M488.1 359.5h.7M477.1 344.5h.7M488.8 343.2h.7M485.5 351.4h.7M446.2 345.7h.7M485.4 355.8h.7M475.3 345.1h.7M480.3 373.3h.7M476.0 344.6h.7M488.0 369.4h.7M487.7 343.4h.7M485.5 358.9h.7M466.2 346.8h.7M469.5 352.2h.7M469.0 345.8h.7M485.0 352.4h.7M488.0 363.1h.7M478.6 350.8h.7M485.9 357.3h.7M466.1 342.3h.7M472.5 353.0h.7M488.0 361.8h.7M488.1 345.6h.7M488.7 349.2h.7M486.6 346.9h.7M478.4 351.7h.7M475.4 348.4h.7M476.1 347.4h.7M471.1 346.0h.7M474.0 344.8h.7M465.2 346.4h.7M471.2 344.2h.7M485.0 350.0h.7M478.5 344.4h.7M483.4 343.3h.7M486.6 367.2h.7M472.9 343.4h.7M487.1 358.6h.7M487.1 356.1h.7M488.5 349.0h.7M484.3 358.2h.7M486.5 352.7h.7M485.9 348.9h.7M474.5 346.7h.7M487.6 349.3h.7M486.8 346.1h.7M475.4 352.6h.7M485.9 348.8h.7M483.5 344.9h.7M484.5 343.2h.7M484.4 346.4h.7M480.0 347.7h.7M484.5 351.4h.7M487.5 392.6h.7M478.6 357.4h.7M480.2 366.1h.7M476.1 351.7h.7M475.9 345.6h.7M487.1 346.3h.7M487.4 342.3h.7M485.0 362.2h.7M488.8 343.4h.7M488.5 352.7h.7M480.6 348.7h.7M487.0 354.7h.7M482.8 347.2h.7M487.4 354.5h.7M487.4 343.9h.7M487.2 364.6h.7M487.2 348.3h.7M452.9 344.9h.7M488.0 367.7h.7M486.7 350.9h.7M479.9 349.3h.7M480.1 348.1h.7M483.5 347.6h.7M487.5 347.2h.7M471.2 347.0h.7M487.8 342.0h.7M478.1 347.0h.7M477.3 354.8h.7M468.9 344.1h.7M481.0 347.8h.7M486.0 351.0h.7M475.8 351.2h.7M472.8 346.6h.7M466.3 342.3h.7M488.0 355.1h.7M488.6 354.1h.7M480.0 343.3h.7M483.9 345.7h.7M485.3 349.7h.7M482.7 351.9h.7M488.4 351.5h.7M481.3 356.7h.7M472.9 354.0h.7M486.2 350.7h.7M486.1 353.2h.7M480.7 349.3h.7M484.6 352.8h.7M472.7 347.8h.7M479.6 346.6h.7M488.3 348.2h.7M485.5 352.2h.7M484.1 354.6h.7M488.4 353.5h.7M467.2 347.5h.7M482.1 342.6h.7M480.4 345.7h.7M483.8 350.8h.7M485.5 350.5h.7M479.4 342.4h.7M488.2 346.0h.7M473.0 348.3h.7M479.0 351.3h.7M488.8 345.0h.7M485.1 348.2h.7M467.5 347.2h.7M488.4 356.7h.7M473.0 344.0h.7M473.0 345.5h.7M479.6 349.8h.7M471.7 344.8h.7M488.8 356.4h.7M484.9 361.4h.7M485.1 350.4h.7M485.7 343.4h.7M481.9 354.4h.7M486.1 361.1h.7M486.5 346.5h.7M487.0 359.7h.7M484.0 347.0h.7M479.6 356.0h.7M482.6 346.5h.7M488.9 365.6h.7M485.3 361.5h.7M473.3 344.3h.7M472.4 348.0h.7M474.0 347.3h.7M484.2 353.9h.7M485.7 354.6h.7M484.2 343.4h.7M481.2 353.6h.7M483.0 347.6h.7M484.8 346.5h.7M479.2 346.6h.7M488.2 355.7h.7M476.2 344.5h.7M487.6 347.0h.7M480.6 358.3h.7M474.9 357.8h.7M480.6 350.1h.7M476.2 346.3h.7M439.3 351.8h.7M486.1 348.3h.7M469.3 347.9h.7M486.8 343.8h.7M486.4 349.6h.7M470.7 344.8h.7M480.6 359.4h.7M486.8 352.4h.7M470.5 345.5h.7M479.3 343.0h.7M474.4 343.9h.7M484.4 390.9h.7M487.3 351.1h.7M488.5 347.5h.7M470.1 343.9h.7M480.8 350.1h.7M488.1 348.7h.7M469.6 353.3h.7M488.2 374.6h.7M472.6 347.9h.7M487.7 352.3h.7M488.8 350.2h.7M484.8 347.1h.7M485.4 358.2h.7M483.3 343.9h.7M487.3 358.0h.7M484.0 343.4h.7M488.1 346.6h.7M487.4 356.0h.7M484.2 348.9h.7M482.7 357.0h.7M484.5 349.9h.7M488.4 352.1h.7M484.6 359.6h.7M472.6 350.3h.7M488.8 346.2h.7M485.1 350.1h.7M485.6 346.6h.7M483.8 351.3h.7M488.0 342.9h.7M480.6 353.7h.7M482.8 352.9h.7M479.7 357.6h.7M480.2 345.9h.7M485.7 354.4h.7M486.6 348.5h.7M478.9 355.3h.7M479.4 344.4h.7M484.9 354.9h.7M481.0 357.4h.7M481.1 348.3h.7M483.9 358.5h.7M477.3 349.8h.7M484.7 370.0h.7M484.6 351.9h.7M484.0 359.5h.7M486.2 345.2h.7M487.3 346.9h.7M485.4 348.1h.7M484.0 343.4h.7M483.2 347.1h.7M488.0 346.4h.7M487.5 345.7h.7M487.7 353.5h.7M485.9 344.6h.7M486.2 361.8h.7M487.2 352.7h.7M454.3 342.4h.7M484.8 352.8h.7M479.4 348.5h.7M481.9 346.6h.7M487.1 368.8h.7M487.5 356.6h.7M488.4 360.7h.7M484.4 351.1h.7M485.1 348.2h.7M488.3 356.9h.7M485.3 343.3h.7M481.4 342.7h.7M481.3 353.1h.7M484.5 348.9h.7M472.9 349.7h.7M484.6 359.1h.7M479.4 344.3h.7M486.9 353.0h.7M481.3 346.0h.7M486.4 345.1h.7M480.5 360.0h.7M487.7 349.7h.7M485.9 352.2h.7M479.0 348.2h.7M482.5 352.8h.7M480.6 345.5h.7M476.0 349.3h.7M484.1 348.6h.7M478.1 356.7h.7M488.5 361.2h.7M472.1 345.6h.7M473.9 342.2h.7M485.7 343.2h.7M487.8 348.2h.7M482.3 345.9h.7M487.6 345.1h.7M488.9 342.5h.7M485.6 345.1h.7M487.3 344.4h.7M486.7 349.8h.7M449.2 348.1h.7M486.0 352.2h.7M473.9 347.2h.7M486.1 366.1h.7M487.4 344.6h.7M482.1 362.5h.7M475.9 343.6h.7M485.2 374.5h.7M486.9 345.7h.7M472.3 342.0h.7M488.0 352.1h.7M485.0 346.0h.7M460.9 343.3h.7M478.5 347.6h.7M485.2 348.1h.7M487.8 356.6h.7M487.2 357.8h.7M478.2 351.9h.7M484.5 354.3h.7M484.1 352.0h.7M476.7 346.8h.7M475.4 351.4h.7M444.8 345.0h.7M488.5 360.8h.7M469.9 345.1h.7M479.7 347.3h.7M473.6 342.3h.7M488.4 348.5h.7M476.0 350.7h.7M477.1 346.0h.7M469.0 347.7h.7M484.9 346.5h.7M488.8 346.9h.7M487.3 353.6h.7M482.9 352.7h.7M483.6 351.8h.7M481.3 348.4h.7M486.5 370.4h.7M486.2 351.7h.7M482.9 349.1h.7M438.2 347.4h.7M480.9 349.5h.7M476.0 343.0h.7M488.2 356.0h.7M484.3 345.2h.7M459.5 344.0h.7M475.9 345.1h.7M484.5 355.9h.7M486.5 343.9h.7M484.9 355.4h.7M482.9 363.1h.7M478.8 358.4h.7M478.1 353.4h.7M485.1 349.7h.7M483.2 342.3h.7M488.4 347.1h.7M488.7 368.3h.7M462.3 348.7h.7M486.8 349.3h.7M474.6 344.6h.7M480.5 346.3h.7M486.3 349.7h.7M464.8 342.1h.7M481.3 351.5h.7M483.3 351.5h.7M484.2 345.8h.7M485.7 367.0h.7M472.8 344.9h.7M460.4 344.6h.7M482.5 341.6h.7M485.1 344.0h.7M479.4 348.1h.7M485.5 345.3h.7M484.4 352.4h.7M484.5 352.6h.7M486.6 352.9h.7M476.8 358.4h.7M483.6 368.2h.7M485.4 363.6h.7M482.2 345.4h.7M485.7 351.4h.7M477.5 353.9h.7M482.6 355.3h.7M469.8 344.9h.7M459.9 343.8h.7M468.7 349.8h.7M488.2 387.9h.7M469.1 343.9h.7M475.2 362.2h.7M488.5 360.8h.7M487.7 354.0h.7M486.0 351.5h.7M485.8 352.7h.7M487.6 347.7h.7M488.7 354.9h.7M486.6 352.2h.7M484.2 352.5h.7M488.3 352.5h.7M483.4 353.5h.7M486.1 389.5h.7M476.9 351.9h.7M488.5 358.1h.7M485.7 359.2h.7M470.9 343.1h.7M483.8 345.3h.7M479.9 346.7h.7M479.2 366.2h.7M491.5 352.5h.7M503.2 348.4h.7M497.3 345.7h.7M495.6 371.8h.7M488.8 369.5h.7M497.2 364.9h.7M491.9 357.0h.7M498.5 371.1h.7M484.8 366.1h.7M502.0 357.4h.7M491.1 349.6h.7M490.5 352.2h.7M499.5 349.1h.7M495.1 370.9h.7M495.6 356.6h.7M504.3 358.2h.7M490.2 358.8h.7M494.8 369.5h.7M493.6 343.1h.7M489.2 359.1h.7M492.0 362.0h.7M488.6 371.2h.7M508.4 362.0h.7M501.0 360.4h.7M492.9 372.6h.7M494.2 374.5h.7M506.5 365.4h.7M504.9 348.0h.7M493.8 353.1h.7M489.5 348.4h.7M496.7 346.9h.7M495.9 349.5h.7M498.0 360.3h.7M499.9 358.5h.7M497.1 364.2h.7M504.7 353.0h.7M493.1 360.5h.7M494.9 358.1h.7M494.8 347.0h.7M494.2 360.6h.7M488.7 339.3h.7M483.7 366.2h.7M496.8 368.3h.7M491.5 362.2h.7M501.6 358.1h.7M502.9 359.1h.7M498.0 367.5h.7M496.9 349.5h.7M493.6 381.5h.7M493.7 386.7h.7M496.9 359.9h.7M502.7 358.4h.7M485.3 352.2h.7M491.5 381.0h.7M492.7 381.3h.7M482.6 359.5h.7M504.7 354.2h.7M498.7 368.9h.7M500.0 352.5h.7M496.4 371.4h.7M496.3 362.4h.7M494.1 358.2h.7M490.7 364.6h.7M496.4 348.7h.7M487.3 364.9h.7M498.0 370.3h.7M496.8 369.8h.7M499.6 333.5h.7M504.5 352.9h.7M500.6 362.1h.7M491.1 367.3h.7M486.5 362.9h.7M502.4 359.5h.7M503.7 365.5h.7M502.5 352.2h.7M497.3 327.4h.7M498.8 354.2h.7M489.8 350.6h.7M488.9 357.6h.7M499.9 360.1h.7M506.5 363.2h.7M495.3 355.2h.7M487.4 340.8h.7M489.1 346.8h.7M489.2 360.2h.7M493.6 363.2h.7M493.5 366.4h.7M489.9 363.8h.7M488.5 392.2h.7M495.5 370.2h.7M497.2 349.2h.7M501.8 363.5h.7M489.2 376.0h.7M492.3 367.9h.7M486.8 357.8h.7M496.2 362.0h.7M495.2 350.4h.7M504.3 350.8h.7M492.5 358.1h.7M494.7 361.2h.7M488.5 351.7h.7M494.0 348.4h.7M504.4 345.9h.7M492.3 346.5h.7M500.9 353.1h.7M506.8 359.5h.7M499.4 364.8h.7M487.3 375.6h.7M489.0 350.5h.7M506.7 357.4h.7M491.1 349.5h.7M496.3 382.3h.7M491.3 335.0h.7M482.9 374.4h.7M499.0 363.3h.7M504.0 352.3h.7M497.1 368.6h.7M496.3 374.8h.7M492.0 344.5h.7M493.1 361.4h.7M488.4 381.7h.7M494.1 343.7h.7M489.9 353.1h.7M498.6 360.0h.7M494.4 360.8h.7M491.8 366.9h.7M489.8 365.3h.7M496.1 345.4h.7M500.7 350.2h.7M492.0 370.1h.7M493.5 353.1h.7M491.0 330.6h.7M493.6 341.8h.7M495.2 357.5h.7M489.6 354.9h.7M497.2 369.3h.7M503.2 363.8h.7M499.3 365.4h.7M510.0 379.4h.7M495.5 373.3h.7M499.5 360.2h.7M493.8 360.2h.7M500.8 347.9h.7M500.9 361.7h.7M499.1 367.3h.7M495.3 351.3h.7M498.0 347.5h.7M483.7 336.9h.7M499.1 375.3h.7M500.6 352.3h.7M496.0 378.6h.7M493.3 359.8h.7M497.4 355.4h.7M494.7 352.0h.7M488.2 363.0h.7M493.8 373.7h.7M499.8 358.3h.7M484.5 341.5h.7M501.9 377.8h.7M501.8 351.4h.7M499.1 361.5h.7M495.8 372.5h.7M498.6 384.5h.7M497.1 358.1h.7M497.3 348.1h.7M488.6 357.6h.7M490.5 369.5h.7M490.6 353.9h.7M495.5 369.9h.7M497.9 373.8h.7M486.0 353.2h.7M489.7 346.7h.7M495.6 370.7h.7M502.9 371.4h.7M502.1 350.6h.7M489.8 358.7h.7M485.4 353.8h.7M487.2 359.2h.7M498.3 362.8h.7M483.8 351.5h.7M493.5 372.3h.7M493.5 364.0h.7M492.6 375.7h.7M490.5 368.0h.7M487.2 356.6h.7M488.3 347.3h.7M501.1 348.5h.7M483.4 349.1h.7M488.2 363.8h.7M501.8 366.9h.7M483.5 345.7h.7M498.6 362.6h.7M495.4 339.0h.7M492.8 351.6h.7M501.2 352.3h.7M500.7 341.2h.7M491.3 347.4h.7M493.2 354.1h.7M494.8 332.7h.7M488.5 348.4h.7M494.5 342.1h.7M501.7 375.7h.7M495.9 350.9h.7M492.3 357.2h.7M494.9 370.0h.7M484.9 359.9h.7M503.8 352.3h.7M492.7 368.2h.7M500.7 367.0h.7M489.4 369.0h.7M487.5 367.2h.7M495.1 347.1h.7M486.3 359.6h.7M497.4 374.2h.7M498.6 365.1h.7M488.6 363.7h.7M486.0 373.9h.7M493.4 379.5h.7M494.2 351.3h.7M493.0 376.7h.7M487.8 352.4h.7M496.9 353.9h.7M502.1 390.5h.7M491.9 373.6h.7M494.2 364.8h.7M498.6 341.4h.7M494.1 363.9h.7M495.3 349.9h.7M495.1 350.4h.7M497.9 358.6h.7M492.8 366.0h.7M487.7 345.0h.7M499.8 369.1h.7M500.0 354.2h.7M493.2 341.2h.7M491.4 382.0h.7M496.8 346.9h.7M495.5 364.5h.7M499.5 347.6h.7M488.9 357.5h.7M498.4 359.4h.7M505.8 368.5h.7M500.2 354.4h.7M489.4 348.3h.7M510.4 353.8h.7M503.7 378.8h.7M490.8 351.9h.7M495.2 355.9h.7M499.2 337.5h.7M498.7 363.6h.7M508.3 356.1h.7M484.2 339.7h.7M499.9 364.9h.7M495.9 356.1h.7M493.3 364.6h.7M480.6 341.0h.7M484.1 360.0h.7M500.2 363.8h.7M509.1 352.8h.7M494.8 365.8h.7M493.3 385.4h.7M498.0 365.1h.7M492.4 370.4h.7M496.2 345.6h.7M496.6 346.5h.7M497.2 349.5h.7M490.4 352.3h.7M491.7 362.7h.7M498.1 350.8h.7M502.5 352.9h.7M504.3 373.9h.7M499.2 346.4h.7M493.6 381.0h.7M491.9 383.2h.7M496.4 355.8h.7M486.0 386.1h.7M496.1 351.1h.7M484.1 370.7h.7M498.0 359.6h.7M493.4 348.1h.7M491.2 349.6h.7M486.4 359.0h.7M494.5 353.4h.7M481.4 343.1h.7M497.1 357.7h.7M491.0 357.8h.7M499.3 358.5h.7M499.6 352.5h.7M496.9 356.7h.7M487.2 356.4h.7M490.8 363.9h.7M495.9 354.5h.7M500.9 338.7h.7M498.4 344.4h.7M489.4 365.9h.7M494.9 367.9h.7M492.9 358.4h.7M503.3 359.1h.7M503.5 354.9h.7M497.2 361.8h.7M501.9 364.8h.7M494.8 346.4h.7M507.7 367.4h.7M495.5 352.1h.7M503.1 339.2h.7M492.6 372.9h.7M500.1 359.4h.7M498.8 384.6h.7M494.3 350.4h.7M494.6 353.2h.7M500.2 363.6h.7M500.7 335.9h.7M493.4 367.9h.7M489.5 363.1h.7M492.6 346.9h.7M495.0 368.2h.7M492.7 357.4h.7M496.5 365.6h.7M495.3 362.1h.7M486.9 356.3h.7M491.2 384.9h.7M492.6 371.6h.7M489.8 346.2h.7M496.4 357.6h.7M496.7 361.1h.7M499.2 365.7h.7M485.5 353.5h.7M499.6 347.1h.7M488.7 356.4h.7M495.7 366.7h.7M493.0 363.5h.7M491.8 352.9h.7M499.8 356.8h.7M495.0 350.1h.7M495.7 371.1h.7M480.2 352.3h.7M495.4 361.3h.7M504.5 370.3h.7M507.0 370.3h.7M500.0 381.9h.7M487.7 379.5h.7M489.6 362.0h.7M500.5 359.7h.7M482.2 366.5h.7M483.9 356.6h.7M487.2 364.1h.7M492.5 355.4h.7M487.2 349.5h.7M491.7 362.6h.7M497.8 369.2h.7M500.9 355.5h.7M495.2 372.1h.7M494.3 336.8h.7M499.3 367.9h.7M499.4 362.2h.7M491.3 360.8h.7M501.7 373.8h.7M496.9 377.7h.7M497.0 364.3h.7M498.4 378.5h.7M498.1 363.2h.7M490.1 351.1h.7M498.3 352.6h.7M503.3 364.2h.7M489.0 366.7h.7M499.7 383.8h.7M495.6 350.6h.7M492.9 363.4h.7M497.8 358.0h.7M491.6 363.4h.7M487.1 360.8h.7M494.5 374.1h.7M492.8 351.8h.7M500.4 357.6h.7M481.8 347.5h.7M494.7 359.7h.7M494.9 364.2h.7M505.4 371.9h.7M492.6 353.5h.7M490.7 366.2h.7M498.1 364.9h.7M507.7 362.0h.7M488.1 363.1h.7M498.4 346.2h.7M485.8 362.2h.7M489.8 357.2h.7M495.0 354.0h.7M491.8 355.7h.7M491.2 358.5h.7M489.6 357.4h.7M492.9 349.8h.7M500.9 368.5h.7M487.1 369.0h.7M494.1 357.5h.7M493.9 357.8h.7M501.0 350.9h.7M490.1 353.9h.7M499.4 362.0h.7M493.8 365.8h.7M499.1 357.7h.7M490.6 358.5h.7M496.3 354.6h.7M498.2 357.9h.7M494.5 371.3h.7M493.9 363.5h.7M495.3 355.4h.7M494.6 360.8h.7M500.0 362.5h.7M494.4 358.7h.7M489.8 362.5h.7M510.0 354.4h.7M487.4 349.0h.7M501.7 362.6h.7M504.0 345.3h.7M492.5 340.1h.7M501.9 353.5h.7M498.7 374.3h.7M495.4 382.9h.7M497.7 380.9h.7M490.1 345.4h.7M496.2 371.5h.7M477.9 354.2h.7M491.8 341.1h.7M500.8 358.3h.7M489.8 348.5h.7M490.3 363.2h.7M493.4 362.9h.7M498.8 355.9h.7M497.8 350.3h.7M494.0 361.9h.7M490.9 359.2h.7M488.1 373.2h.7M496.7 357.5h.7M492.2 335.5h.7M501.0 342.2h.7M495.9 345.8h.7M498.4 361.3h.7M496.5 348.2h.7M486.1 361.8h.7M491.1 364.0h.7M491.8 384.2h.7M485.7 364.1h.7M492.7 349.4h.7M489.3 366.7h.7M487.2 357.2h.7M496.3 370.9h.7M494.7 349.8h.7M485.9 367.0h.7M490.5 346.7h.7M501.8 368.8h.7M494.7 353.3h.7M500.0 380.8h.7M484.9 364.1h.7M505.9 368.5h.7M491.4 354.5h.7M492.3 346.1h.7M496.8 394.1h.7M499.8 361.0h.7M501.4 339.5h.7M500.9 384.8h.7M499.2 365.1h.7M495.7 352.9h.7M491.5 368.5h.7M489.3 358.5h.7M494.7 371.6h.7M487.0 364.1h.7M496.0 361.1h.7M495.9 343.1h.7M492.7 343.2h.7M497.7 361.3h.7M500.8 352.3h.7M489.1 374.2h.7M497.3 388.4h.7M493.4 351.1h.7M495.0 345.4h.7M494.3 365.1h.7M498.4 370.8h.7M483.3 369.8h.7M490.9 371.7h.7M500.7 343.5h.7M488.2 339.5h.7M488.6 341.5h.7M493.0 352.1h.7M487.5 347.2h.7M492.6 347.8h.7M502.2 361.4h.7M499.4 337.2h.7M489.5 351.1h.7M495.5 366.4h.7M495.3 356.5h.7M490.5 362.6h.7M479.6 380.6h.7M503.3 366.6h.7M494.5 355.2h.7M496.2 367.9h.7M497.4 369.0h.7M500.4 328.7h.7M489.1 354.1h.7M490.7 353.6h.7M490.2 355.7h.7M488.7 359.3h.7M487.9 354.0h.7M490.2 351.7h.7M491.3 368.1h.7M493.0 358.4h.7M489.6 346.3h.7M497.6 382.9h.7M489.4 339.9h.7M482.0 371.4h.7M494.6 373.1h.7M490.1 356.9h.7M481.0 363.0h.7M504.1 361.2h.7M498.7 370.8h.7M492.7 345.9h.7M499.7 341.1h.7M498.9 360.3h.7M493.9 341.3h.7M493.0 358.7h.7M496.9 368.1h.7M485.7 357.1h.7M494.8 375.4h.7M491.4 350.4h.7M497.3 352.5h.7M495.4 350.7h.7M495.3 346.6h.7M489.8 378.1h.7M487.7 373.0h.7M492.7 359.1h.7M493.5 366.6h.7M495.5 360.5h.7M489.0 352.3h.7M492.8 349.0h.7M505.9 363.2h.7M494.7 337.2h.7M490.8 362.7h.7M496.9 357.1h.7M492.1 357.3h.7M490.5 384.2h.7M499.8 349.9h.7M500.8 365.6h.7M504.1 346.4h.7M498.9 362.4h.7M492.9 359.3h.7M489.5 369.3h.7M494.0 378.2h.7M499.1 356.3h.7M485.8 357.3h.7M498.3 370.9h.7M485.0 349.7h.7M484.5 347.5h.7M494.2 352.9h.7M495.1 345.7h.7M488.7 354.4h.7M489.6 353.3h.7M484.7 369.4h.7M496.4 369.4h.7M494.5 359.7h.7M500.1 366.0h.7M502.1 358.1h.7M494.8 362.3h.7M492.0 386.2h.7M491.2 379.8h.7M492.8 355.8h.7M500.0 352.4h.7M506.4 364.3h.7M493.0 355.6h.7M489.9 365.8h.7M496.4 374.6h.7M499.9 345.7h.7M500.1 388.5h.7M492.4 354.5h.7M502.6 337.0h.7M502.6 330.4h.7M492.9 358.2h.7M502.0 349.8h.7M512.3 357.8h.7M493.5 354.4h.7M496.7 356.0h.7M489.7 365.1h.7M497.4 367.6h.7M494.2 352.6h.7M493.1 352.2h.7M502.9 379.4h.7M494.8 360.2h.7M489.7 349.7h.7M481.3 347.7h.7M493.0 373.2h.7M496.3 351.8h.7M491.1 352.6h.7M496.4 357.9h.7M498.0 376.4h.7M501.9 367.9h.7M490.2 372.7h.7M489.2 345.2h.7M498.0 356.2h.7M499.4 362.4h.7M500.1 362.2h.7M498.8 357.9h.7M493.7 361.2h.7M493.6 347.4h.7M481.7 354.4h.7M493.6 374.8h.7M495.2 385.5h.7M500.2 358.1h.7M498.0 356.2h.7M500.3 361.9h.7M493.3 366.0h.7M493.2 366.4h.7M489.9 374.0h.7M495.8 373.8h.7M498.7 347.8h.7M498.3 364.0h.7M498.1 365.6h.7M493.3 341.7h.7M493.1 360.0h.7M482.4 346.7h.7M488.0 363.6h.7M488.8 355.0h.7M496.8 357.6h.7M483.0 371.3h.7M505.3 374.4h.7M489.0 354.6h.7M507.8 344.1h.7M497.4 365.4h.7M499.6 362.9h.7M489.7 356.2h.7M494.0 356.9h.7M500.8 361.5h.7M492.6 369.9h.7M490.0 347.8h.7M497.0 360.3h.7M504.2 361.7h.7M504.9 351.1h.7M485.5 365.1h.7M492.8 356.9h.7M503.3 368.1h.7M486.7 357.2h.7M491.4 365.1h.7M496.1 372.2h.7M487.8 362.0h.7M485.6 362.1h.7M505.2 371.3h.7M496.8 370.1h.7M494.7 360.6h.7M495.0 359.2h.7M491.7 359.0h.7M490.2 347.5h.7M497.8 353.2h.7M492.8 376.3h.7M497.5 338.2h.7M504.4 347.9h.7M501.5 359.9h.7M488.6 337.0h.7M490.2 361.0h.7M498.2 362.5h.7M499.7 366.7h.7M501.7 375.7h.7M499.5 371.4h.7M493.3 368.0h.7M497.0 370.1h.7M496.3 345.2h.7M490.8 359.6h.7M490.4 379.0h.7M502.1 366.6h.7M496.8 345.4h.7M492.7 366.1h.7M491.7 343.7h.7M497.4 367.8h.7M495.5 355.6h.7M500.8 349.0h.7M498.6 384.2h.7M490.5 372.8h.7M491.8 360.2h.7M493.0 364.3h.7M491.8 332.5h.7M498.4 361.8h.7M487.9 364.4h.7M487.4 367.2h.7M497.7 358.7h.7M498.2 370.1h.7M488.9 343.9h.7M483.0 359.1h.7M506.8 357.3h.7M483.1 382.6h.7M485.8 349.8h.7M495.2 357.0h.7M505.0 358.8h.7M490.0 344.3h.7M490.0 369.9h.7M491.6 366.1h.7M489.9 364.9h.7M497.1 347.7h.7M500.8 374.1h.7M491.5 334.6h.7M494.6 358.4h.7M504.6 378.0h.7M491.7 348.6h.7M496.6 355.9h.7M496.6 352.0h.7" stroke="#111" stroke-width=".7" fill="none" opacity=".85" filter="url(#b1)"/>
<path d="M486.9 345.0Q486.9 341.0 490.9 341.0H498.7Q502.7 341.0 502.7 346.0Q503.2 366.0 497.0 379.0Q487.9 361.7 486.9 345.0Z" fill="#000" filter="url(#b2)"/>
<ellipse cx="494.4" cy="357.4" rx="5.6" ry="15.5" fill="#080808"/>
<ellipse cx="494.4" cy="357.4" rx="4.2" ry="14.1" fill="#141414" stroke="#e0e0e0" stroke-width=".65"/>
<ellipse cx="494.4" cy="357.4" rx="2.6" ry="10.0" fill="#1c1c1c" stroke="#999" stroke-width=".4"/>
<ellipse cx="494.59999999999997" cy="356.9" rx="1" ry="5.7" fill="#3a3a3a" stroke="#bbb" stroke-width=".4"/>
</g>
<path d="M464.8 339.4H512.4V349.0H503.7M485.4 339.4V350.2H464.8" fill="none" stroke="#111" stroke-width=".8" opacity=".85"/>
<path d="M464.8 338.8h-2M464.8 349.3h-2M464.8 359.8h-2M464.8 370.3h-2M464.8 380.8h-2M469.8 382.2v2.2M480.3 382.2v2.2M490.8 382.2v2.2M501.3 382.2v2.2M511.8 382.2v2.2M466.8 382.2v1.5M469.5 382.2v1.5M472.2 382.2v1.5M474.9 382.2v1.5M477.6 382.2v1.5M480.3 382.2v1.5M483.0 382.2v1.5M485.7 382.2v1.5M488.4 382.2v1.5M491.1 382.2v1.5M493.8 382.2v1.5M496.5 382.2v1.5M499.2 382.2v1.5M501.9 382.2v1.5M504.6 382.2v1.5M507.3 382.2v1.5M510.0 382.2v1.5M512.7 382.2v1.5" stroke="#000" stroke-width=".7"/>
<rect x="464.8" y="334.8" width="49.7" height="47.4" fill="none" stroke="#000" stroke-width="1.9"/>
<text x="512.7" y="380.4" font-size="9.4" transform="rotate(-90 512.7 380.4)" fill="#1a1a1a" font-family="Liberation Serif,Times New Roman,serif">Tcf7<tspan font-size="6" dy="-3">-/-</tspan><tspan dy="3">DW4</tspan></text>
</g>
<text x="0.3" y="436.8" font-size="16.5" font-weight="bold">E</text>
<line x1="61.3" y1="442.2" x2="61.3" y2="591.6" stroke="#000" stroke-width="1.4"/>
<line x1="60.7" y1="591.6" x2="304.5" y2="591.6" stroke="#000" stroke-width="1.4"/>
<line x1="58.3" y1="442.2" x2="61.3" y2="442.2" stroke="#000" stroke-width="1.4"/>
<text x="57.3" y="446.0" font-size="10.5" text-anchor="end">2</text>
<line x1="58.3" y1="479.6" x2="61.3" y2="479.6" stroke="#000" stroke-width="1.4"/>
<text x="57.3" y="483.4" font-size="10.5" text-anchor="end">1,5</text>
<line x1="58.3" y1="516.9" x2="61.3" y2="516.9" stroke="#000" stroke-width="1.4"/>
<text x="57.3" y="520.7" font-size="10.5" text-anchor="end">1</text>
<line x1="58.3" y1="554.2" x2="61.3" y2="554.2" stroke="#000" stroke-width="1.4"/>
<text x="57.3" y="558.0" font-size="10.5" text-anchor="end">0,5</text>
<line x1="61.3" y1="516.9" x2="304.5" y2="516.9" stroke="#000" stroke-width="1.5"/>
<rect x="70.0" y="493.1" width="11.3" height="98.5" fill="#fff" stroke="#000" stroke-width="1.4"/>
<rect x="81.3" y="529.2" width="11.4" height="62.4" fill="#000" stroke="#000" stroke-width="1.4"/>
<line x1="75.7" y1="493.1" x2="75.7" y2="482.6" stroke="#000" stroke-width="1.7"/>
<line x1="74.7" y1="482.6" x2="76.7" y2="482.6" stroke="#000" stroke-width="1.7"/>
<line x1="87.0" y1="529.2" x2="87.0" y2="525.7" stroke="#000" stroke-width="1.7"/>
<line x1="86.0" y1="525.7" x2="88.0" y2="525.7" stroke="#000" stroke-width="1.7"/>
<line x1="101.5" y1="591.6" x2="101.5" y2="594.6" stroke="#000" stroke-width="1.4"/>
<text x="90.3" y="599.2" font-size="12.8" font-weight="bold" text-anchor="end" transform="rotate(-57 90.3 599.2)">Rag2</text>
<rect x="110.3" y="473.8" width="11.3" height="117.8" fill="#fff" stroke="#000" stroke-width="1.4"/>
<rect x="121.6" y="519.4" width="11.4" height="72.2" fill="#000" stroke="#000" stroke-width="1.4"/>
<line x1="116.0" y1="473.8" x2="116.0" y2="456.6" stroke="#000" stroke-width="1.7"/>
<line x1="115.0" y1="456.6" x2="117.0" y2="456.6" stroke="#000" stroke-width="1.7"/>
<line x1="127.3" y1="519.4" x2="127.3" y2="507.1" stroke="#000" stroke-width="1.7"/>
<line x1="126.3" y1="507.1" x2="128.3" y2="507.1" stroke="#000" stroke-width="1.7"/>
<line x1="141.8" y1="591.6" x2="141.8" y2="594.6" stroke="#000" stroke-width="1.4"/>
<text x="130.6" y="599.2" font-size="12.8" font-weight="bold" text-anchor="end" transform="rotate(-57 130.6 599.2)">Cd25</text>
<rect x="150.7" y="496.8" width="11.3" height="94.8" fill="#fff" stroke="#000" stroke-width="1.4"/>
<rect x="162.0" y="515.0" width="11.4" height="76.6" fill="#000" stroke="#000" stroke-width="1.4"/>
<line x1="156.4" y1="496.8" x2="156.4" y2="484.2" stroke="#000" stroke-width="1.7"/>
<line x1="155.4" y1="484.2" x2="157.4" y2="484.2" stroke="#000" stroke-width="1.7"/>
<line x1="167.7" y1="515.0" x2="167.7" y2="508.7" stroke="#000" stroke-width="1.7"/>
<line x1="166.7" y1="508.7" x2="168.7" y2="508.7" stroke="#000" stroke-width="1.7"/>
<line x1="182.2" y1="591.6" x2="182.2" y2="594.6" stroke="#000" stroke-width="1.4"/>
<text x="171.0" y="599.2" font-size="12.8" font-weight="bold" text-anchor="end" transform="rotate(-57 171.0 599.2)">Il7ra</text>
<rect x="191.0" y="566.5" width="11.3" height="25.1" fill="#fff" stroke="#000" stroke-width="1.4"/>
<rect x="202.3" y="544.1" width="11.4" height="47.5" fill="#000" stroke="#000" stroke-width="1.4"/>
<line x1="196.7" y1="566.5" x2="196.7" y2="561.3" stroke="#000" stroke-width="1.7"/>
<line x1="195.7" y1="561.3" x2="197.7" y2="561.3" stroke="#000" stroke-width="1.7"/>
<line x1="208.0" y1="544.1" x2="208.0" y2="538.5" stroke="#000" stroke-width="1.7"/>
<line x1="207.0" y1="538.5" x2="209.0" y2="538.5" stroke="#000" stroke-width="1.7"/>
<line x1="222.5" y1="591.6" x2="222.5" y2="594.6" stroke="#000" stroke-width="1.4"/>
<text x="211.3" y="599.2" font-size="12.8" font-weight="bold" text-anchor="end" transform="rotate(-57 211.3 599.2)">Ptcra</text>
<rect x="231.1" y="526.2" width="11.3" height="65.4" fill="#fff" stroke="#000" stroke-width="1.4"/>
<rect x="242.4" y="513.3" width="11.4" height="78.3" fill="#000" stroke="#000" stroke-width="1.4"/>
<line x1="236.8" y1="526.2" x2="236.8" y2="519.2" stroke="#000" stroke-width="1.7"/>
<line x1="235.8" y1="519.2" x2="237.8" y2="519.2" stroke="#000" stroke-width="1.7"/>
<line x1="248.1" y1="513.3" x2="248.1" y2="508.7" stroke="#000" stroke-width="1.7"/>
<line x1="247.1" y1="508.7" x2="249.1" y2="508.7" stroke="#000" stroke-width="1.7"/>
<line x1="262.6" y1="591.6" x2="262.6" y2="594.6" stroke="#000" stroke-width="1.4"/>
<text x="251.4" y="599.2" font-size="12.8" font-weight="bold" text-anchor="end" transform="rotate(-57 251.4 599.2)">Numb</text>
<rect x="271.3" y="542.4" width="11.3" height="49.2" fill="#fff" stroke="#000" stroke-width="1.4"/>
<rect x="282.6" y="515.0" width="11.4" height="76.6" fill="#000" stroke="#000" stroke-width="1.4"/>
<line x1="277.0" y1="542.4" x2="277.0" y2="536.8" stroke="#000" stroke-width="1.7"/>
<line x1="276.0" y1="536.8" x2="278.0" y2="536.8" stroke="#000" stroke-width="1.7"/>
<line x1="288.3" y1="515.0" x2="288.3" y2="505.2" stroke="#000" stroke-width="1.7"/>
<line x1="287.3" y1="505.2" x2="289.3" y2="505.2" stroke="#000" stroke-width="1.7"/>
<line x1="302.8" y1="591.6" x2="302.8" y2="594.6" stroke="#000" stroke-width="1.4"/>
<text x="291.6" y="599.2" font-size="12.8" font-weight="bold" text-anchor="end" transform="rotate(-57 291.6 599.2)">Scrib</text>
<line x1="61.3" y1="516.9" x2="304.5" y2="516.9" stroke="#000" stroke-width="1.5"/>
<text x="116.4" y="456.3" font-size="19" font-weight="bold" text-anchor="middle">*</text>
<text x="208.3" y="540.3" font-size="19" font-weight="bold" text-anchor="middle">*</text>
<text x="196.0" y="556.0" font-size="12.5" font-weight="bold" text-anchor="middle" stroke="#000" stroke-width=".5">†</text>
<text x="276.6" y="534.0" font-size="12.5" font-weight="bold" text-anchor="middle" stroke="#000" stroke-width=".5">†</text>
<rect x="260.2" y="434.6" width="11.0" height="11.4" fill="#fff" stroke="#000" stroke-width="1.4"/>
<rect x="260.2" y="452.0" width="11.0" height="11.6" fill="#000" stroke="#000" stroke-width="1.4"/>
<text x="272.0" y="444.7" font-size="11">Day 2</text>
<text x="272.0" y="462.2" font-size="11">Day 5</text>
<text x="22.8" y="592.3" font-size="12.55" font-weight="bold" transform="rotate(-90 22.8 592.3)">Relative gene expression</text>
<text x="38.2" y="545.5" font-size="12.5" font-weight="bold" transform="rotate(-90 38.2 545.5)">(Wnt4/ctrl)</text>
<line x1="334.7" y1="441.2" x2="334.7" y2="590.5" stroke="#000" stroke-width="1.4"/>
<line x1="334.1" y1="590.5" x2="520.0" y2="590.5" stroke="#000" stroke-width="1.4"/>
<line x1="331.9" y1="441.2" x2="334.7" y2="441.2" stroke="#000" stroke-width="1.4"/>
<text x="330.1" y="445.1" font-size="11" text-anchor="end">2,5</text>
<line x1="331.9" y1="471.1" x2="334.7" y2="471.1" stroke="#000" stroke-width="1.4"/>
<text x="330.1" y="475.0" font-size="11" text-anchor="end">2</text>
<line x1="331.9" y1="500.9" x2="334.7" y2="500.9" stroke="#000" stroke-width="1.4"/>
<text x="330.1" y="504.8" font-size="11" text-anchor="end">1,5</text>
<line x1="331.9" y1="530.8" x2="334.7" y2="530.8" stroke="#000" stroke-width="1.4"/>
<text x="330.1" y="534.7" font-size="11" text-anchor="end">1</text>
<line x1="331.9" y1="560.6" x2="334.7" y2="560.6" stroke="#000" stroke-width="1.4"/>
<text x="330.1" y="564.5" font-size="11" text-anchor="end">0,5</text>
<rect x="342.3" y="523.6" width="11.0" height="66.9" fill="#fff" stroke="#000" stroke-width="1.4"/>
<line x1="347.8" y1="523.6" x2="347.8" y2="517.3" stroke="#000" stroke-width="1.7"/>
<line x1="346.8" y1="517.3" x2="348.8" y2="517.3" stroke="#000" stroke-width="1.7"/>
<line x1="360.9" y1="590.5" x2="360.9" y2="593.5" stroke="#000" stroke-width="1.4"/>
<text x="353.4" y="597.8" font-size="12.8" font-weight="bold" text-anchor="end" transform="rotate(-57 353.4 597.8)">Dtx1</text>
<rect x="368.5" y="524.0" width="11.0" height="66.5" fill="#fff" stroke="#000" stroke-width="1.4"/>
<line x1="374.0" y1="524.0" x2="374.0" y2="517.3" stroke="#000" stroke-width="1.7"/>
<line x1="373.0" y1="517.3" x2="375.0" y2="517.3" stroke="#000" stroke-width="1.7"/>
<line x1="387.1" y1="590.5" x2="387.1" y2="593.5" stroke="#000" stroke-width="1.4"/>
<text x="379.6" y="597.8" font-size="12.8" font-weight="bold" text-anchor="end" transform="rotate(-57 379.6 597.8)">Hes1</text>
<rect x="394.8" y="543.9" width="11.0" height="46.6" fill="#fff" stroke="#000" stroke-width="1.4"/>
<line x1="400.3" y1="543.9" x2="400.3" y2="541.0" stroke="#000" stroke-width="1.7"/>
<line x1="399.3" y1="541.0" x2="401.3" y2="541.0" stroke="#000" stroke-width="1.7"/>
<line x1="413.4" y1="590.5" x2="413.4" y2="593.5" stroke="#000" stroke-width="1.4"/>
<text x="405.9" y="597.8" font-size="12.8" font-weight="bold" text-anchor="end" transform="rotate(-57 405.9 597.8)">Hes5</text>
<rect x="421.0" y="498.7" width="11.0" height="91.8" fill="#fff" stroke="#000" stroke-width="1.4"/>
<line x1="426.5" y1="498.7" x2="426.5" y2="486.4" stroke="#000" stroke-width="1.7"/>
<line x1="425.5" y1="486.4" x2="427.5" y2="486.4" stroke="#000" stroke-width="1.7"/>
<line x1="439.6" y1="590.5" x2="439.6" y2="593.5" stroke="#000" stroke-width="1.4"/>
<text x="432.1" y="597.8" font-size="12.8" font-weight="bold" text-anchor="end" transform="rotate(-57 432.1 597.8)">Hey1</text>
<rect x="447.2" y="532.1" width="11.0" height="58.4" fill="#fff" stroke="#000" stroke-width="1.4"/>
<line x1="452.7" y1="532.1" x2="452.7" y2="527.4" stroke="#000" stroke-width="1.7"/>
<line x1="451.7" y1="527.4" x2="453.7" y2="527.4" stroke="#000" stroke-width="1.7"/>
<line x1="465.8" y1="590.5" x2="465.8" y2="593.5" stroke="#000" stroke-width="1.4"/>
<text x="458.3" y="597.8" font-size="12.8" font-weight="bold" text-anchor="end" transform="rotate(-57 458.3 597.8)">Axin2</text>
<rect x="473.4" y="528.7" width="11.0" height="61.8" fill="#fff" stroke="#000" stroke-width="1.4"/>
<line x1="478.9" y1="528.7" x2="478.9" y2="522.8" stroke="#000" stroke-width="1.7"/>
<line x1="477.9" y1="522.8" x2="479.9" y2="522.8" stroke="#000" stroke-width="1.7"/>
<line x1="492.0" y1="590.5" x2="492.0" y2="593.5" stroke="#000" stroke-width="1.4"/>
<text x="484.5" y="597.8" font-size="12.8" font-weight="bold" text-anchor="end" transform="rotate(-57 484.5 597.8)">Myc</text>
<rect x="499.7" y="476.3" width="11.0" height="114.2" fill="#fff" stroke="#000" stroke-width="1.4"/>
<line x1="505.2" y1="476.3" x2="505.2" y2="446.2" stroke="#000" stroke-width="1.7"/>
<line x1="504.2" y1="446.2" x2="506.2" y2="446.2" stroke="#000" stroke-width="1.7"/>
<line x1="518.3" y1="590.5" x2="518.3" y2="593.5" stroke="#000" stroke-width="1.4"/>
<text x="510.8" y="597.8" font-size="12.8" font-weight="bold" text-anchor="end" transform="rotate(-57 510.8 597.8)">Ccnd1</text>
<line x1="334.7" y1="531.3" x2="520.0" y2="531.3" stroke="#000" stroke-width="1.4"/>
<text x="426.5" y="486.3" font-size="19" font-weight="bold" text-anchor="middle">*</text>
</svg>
</body></html>
